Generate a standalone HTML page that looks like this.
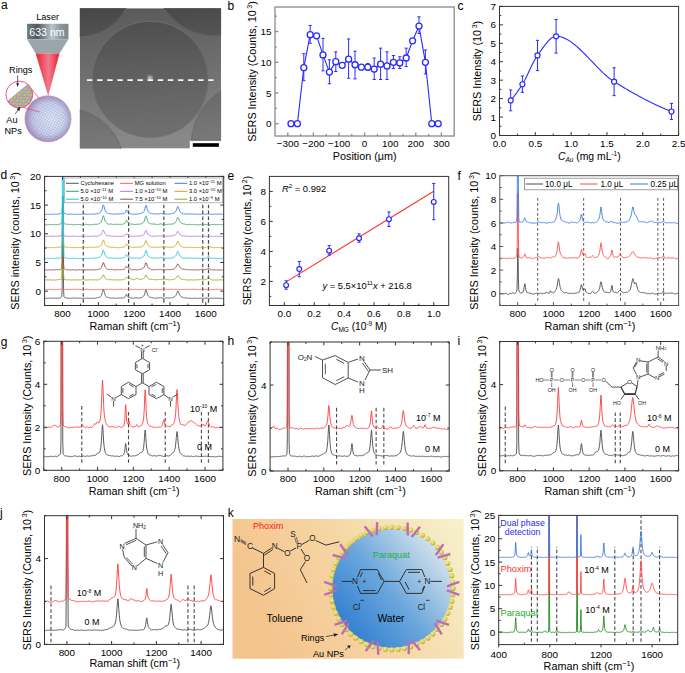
<!DOCTYPE html>
<html><head><meta charset="utf-8"><style>html,body{margin:0;padding:0;background:#fff;width:685px;height:673px;overflow:hidden}text{font-family:"Liberation Sans", sans-serif}</style></head><body><svg width="685" height="673" viewBox="0 0 685 673" style="display:block;font-family:"Liberation Sans", sans-serif"><defs><clipPath id="cp1"><rect x="275" y="7" width="179.2" height="129"/></clipPath><clipPath id="cp2"><rect x="499.5" y="6.4" width="179.10000000000002" height="129.1"/></clipPath><clipPath id="cp3"><rect x="269.4" y="176.4" width="179.3" height="129.1"/></clipPath><clipPath id="cp4"><rect x="44.6" y="176.4" width="179.1" height="129.1"/></clipPath><clipPath id="cp5"><rect x="499.8" y="175.7" width="178.8" height="129.8"/></clipPath><clipPath id="cp6"><rect x="43.8" y="341.3" width="179.10000000000002" height="129.0"/></clipPath><clipPath id="cp7"><rect x="270.1" y="342" width="179.09999999999997" height="129"/></clipPath><clipPath id="cp8"><rect x="499.7" y="341.5" width="178.90000000000003" height="129.3"/></clipPath><clipPath id="cp9"><rect x="44.5" y="515.7" width="179.0" height="128.69999999999993"/></clipPath><clipPath id="cp10"><rect x="498.7" y="515.4" width="179.00000000000006" height="129.20000000000005"/></clipPath>
<linearGradient id="mbg" gradientUnits="userSpaceOnUse" x1="0" y1="8" x2="10" y2="148">
 <stop offset="0" stop-color="#575757"/><stop offset="0.5" stop-color="#6e6e6e"/><stop offset="1" stop-color="#888888"/></linearGradient>
<linearGradient id="mcirc" gradientUnits="userSpaceOnUse" x1="0" y1="8" x2="10" y2="148">
 <stop offset="0" stop-color="#444444"/><stop offset="0.5" stop-color="#606060"/><stop offset="1" stop-color="#777777"/></linearGradient>
<linearGradient id="mbig" gradientUnits="userSpaceOnUse" x1="0" y1="21" x2="6" y2="137">
 <stop offset="0" stop-color="#4c4c4c"/><stop offset="0.45" stop-color="#5d5d5d"/><stop offset="1" stop-color="#6e6e6e"/></linearGradient>
<radialGradient id="mspot"><stop offset="0" stop-color="#e8e8e8" stop-opacity="0.9"/><stop offset="1" stop-color="#888" stop-opacity="0"/></radialGradient>
<clipPath id="mclip"><path d="M79.8,8.2 H221.1 V140.8 H189.8 V148.6 H79.8 Z"/></clipPath>

<linearGradient id="lhead" x1="0" y1="0" x2="1" y2="0">
 <stop offset="0" stop-color="#707b82"/><stop offset="0.25" stop-color="#4f5a60"/><stop offset="0.6" stop-color="#b9c6cc"/><stop offset="0.8" stop-color="#8e9aa0"/><stop offset="1" stop-color="#7a868c"/></linearGradient>
<linearGradient id="lcone" x1="0" y1="0" x2="1" y2="0">
 <stop offset="0" stop-color="#e8252d"/><stop offset="0.55" stop-color="#f07a90"/><stop offset="1" stop-color="#e8202a"/></linearGradient>
<radialGradient id="sph" cx="0.58" cy="0.5" r="0.62">
 <stop offset="0" stop-color="#d6f2fb"/><stop offset="0.55" stop-color="#c2dcf0"/><stop offset="1" stop-color="#a8a4d0"/></radialGradient>
<pattern id="mesh" width="2.4" height="2.4" patternUnits="userSpaceOnUse" patternTransform="rotate(28)">
 <rect width="2.4" height="2.4" fill="none"/><path d="M0,0.3 H2.4 M0.3,0 V2.4" stroke="#b878b8" stroke-width="0.5" stroke-opacity="0.55"/></pattern>
<radialGradient id="sphedge" cx="0.5" cy="0.5" r="0.5">
 <stop offset="0.7" stop-color="#7a5a8a" stop-opacity="0"/><stop offset="1" stop-color="#7a5a8a" stop-opacity="0.35"/></radialGradient>
<clipPath id="insclip"><circle cx="19.3" cy="94.6" r="13.4"/></clipPath>
<pattern id="rings" width="4.6" height="4" patternUnits="userSpaceOnUse" patternTransform="rotate(-38)">
 <rect width="4.6" height="4" fill="#8cc8e0"/><ellipse cx="2.3" cy="2" rx="1.9" ry="1.3" fill="#d8c048"/><ellipse cx="2.3" cy="2" rx="2.2" ry="1.65" fill="none" stroke="#b86aa0" stroke-width="0.5"/></pattern>

<linearGradient id="kbg" x1="0" y1="0.3" x2="1" y2="0">
 <stop offset="0" stop-color="#f4c48e"/><stop offset="0.45" stop-color="#f6d6a4"/><stop offset="1" stop-color="#f6f2cc"/></linearGradient>
<linearGradient id="kwat" x1="0.1" y1="0.85" x2="0.95" y2="0.15">
 <stop offset="0" stop-color="#2f7fd0"/><stop offset="0.45" stop-color="#6aa6dc"/><stop offset="1" stop-color="#dfe8ee"/></linearGradient>
<radialGradient id="bead" cx="0.4" cy="0.35" r="0.65">
 <stop offset="0" stop-color="#f4ee9c"/><stop offset="0.7" stop-color="#d2c852"/><stop offset="1" stop-color="#b0a43a"/></radialGradient>
</defs><text x="1" y="9" font-size="12" text-anchor="start" fill="#000" style="">a</text><text x="227.5" y="10" font-size="12" text-anchor="start" fill="#000" style="">b</text><text x="457.5" y="10" font-size="12" text-anchor="start" fill="#000" style="">c</text><text x="0.5" y="179" font-size="12" text-anchor="start" fill="#000" style="">d</text><text x="227.5" y="179.5" font-size="12" text-anchor="start" fill="#000" style="">e</text><text x="457.5" y="179.5" font-size="12" text-anchor="start" fill="#000" style="">f</text><text x="0.8" y="346" font-size="12" text-anchor="start" fill="#000" style="">g</text><text x="227.5" y="345" font-size="12" text-anchor="start" fill="#000" style="">h</text><text x="457.5" y="345" font-size="12" text-anchor="start" fill="#000" style="">i</text><text x="0" y="516.5" font-size="12" text-anchor="start" fill="#000" style="">j</text><text x="227.8" y="517" font-size="12" text-anchor="start" fill="#000" style="">k</text><rect x="275" y="7" width="179.2" height="129" fill="none" stroke="#8a8a8a" stroke-width="1.3"/><line x1="287.8" y1="136" x2="287.8" y2="132.6" stroke="#8a8a8a" stroke-width="1.3" /><text x="287.8" y="147.2" font-size="9.9" text-anchor="middle" fill="#000" style="">−300</text><line x1="313.4" y1="136" x2="313.4" y2="132.6" stroke="#8a8a8a" stroke-width="1.3" /><text x="313.4" y="147.2" font-size="9.9" text-anchor="middle" fill="#000" style="">−200</text><line x1="339" y1="136" x2="339" y2="132.6" stroke="#8a8a8a" stroke-width="1.3" /><text x="339" y="147.2" font-size="9.9" text-anchor="middle" fill="#000" style="">−100</text><line x1="364.6" y1="136" x2="364.6" y2="132.6" stroke="#8a8a8a" stroke-width="1.3" /><text x="364.6" y="147.2" font-size="9.9" text-anchor="middle" fill="#000" style="">0</text><line x1="390.2" y1="136" x2="390.2" y2="132.6" stroke="#8a8a8a" stroke-width="1.3" /><text x="390.2" y="147.2" font-size="9.9" text-anchor="middle" fill="#000" style="">100</text><line x1="415.8" y1="136" x2="415.8" y2="132.6" stroke="#8a8a8a" stroke-width="1.3" /><text x="415.8" y="147.2" font-size="9.9" text-anchor="middle" fill="#000" style="">200</text><line x1="441.4" y1="136" x2="441.4" y2="132.6" stroke="#8a8a8a" stroke-width="1.3" /><text x="441.4" y="147.2" font-size="9.9" text-anchor="middle" fill="#000" style="">300</text><line x1="300.6" y1="136" x2="300.6" y2="134.1" stroke="#8a8a8a" stroke-width="1.3" /><line x1="326.2" y1="136" x2="326.2" y2="134.1" stroke="#8a8a8a" stroke-width="1.3" /><line x1="351.8" y1="136" x2="351.8" y2="134.1" stroke="#8a8a8a" stroke-width="1.3" /><line x1="377.4" y1="136" x2="377.4" y2="134.1" stroke="#8a8a8a" stroke-width="1.3" /><line x1="403" y1="136" x2="403" y2="134.1" stroke="#8a8a8a" stroke-width="1.3" /><line x1="428.6" y1="136" x2="428.6" y2="134.1" stroke="#8a8a8a" stroke-width="1.3" /><line x1="275" y1="123.71" x2="278.4" y2="123.71" stroke="#8a8a8a" stroke-width="1.3" /><text x="271.5" y="127.31" font-size="9.9" text-anchor="end" fill="#000" style="">0</text><line x1="275" y1="93" x2="278.4" y2="93" stroke="#8a8a8a" stroke-width="1.3" /><text x="271.5" y="96.6" font-size="9.9" text-anchor="end" fill="#000" style="">5</text><line x1="275" y1="62.29" x2="278.4" y2="62.29" stroke="#8a8a8a" stroke-width="1.3" /><text x="271.5" y="65.89" font-size="9.9" text-anchor="end" fill="#000" style="">10</text><line x1="275" y1="31.57" x2="278.4" y2="31.57" stroke="#8a8a8a" stroke-width="1.3" /><text x="271.5" y="35.17" font-size="9.9" text-anchor="end" fill="#000" style="">15</text><line x1="275" y1="108.36" x2="276.9" y2="108.36" stroke="#8a8a8a" stroke-width="1.3" /><line x1="275" y1="77.64" x2="276.9" y2="77.64" stroke="#8a8a8a" stroke-width="1.3" /><line x1="275" y1="46.93" x2="276.9" y2="46.93" stroke="#8a8a8a" stroke-width="1.3" /><line x1="275" y1="16.21" x2="276.9" y2="16.21" stroke="#8a8a8a" stroke-width="1.3" /><text x="364.7" y="160.2" font-size="10.8" text-anchor="middle" fill="#000" style="">Position (μm)</text><text x="255.5" y="71.5" font-size="10.8" text-anchor="middle" fill="#000" transform="rotate(-90 255.5 71.5)" style="">SERS Intensity (Counts, 10<tspan dx="1.6" dy="-4" font-size="7">3</tspan><tspan dy="4">)</tspan></text><polyline points="291,123.71 297.4,123.71 303.8,67.63 310.2,34.64 316.6,35.87 323,54.91 329.4,72.11 335.8,61.67 342.2,65.36 348.6,59.21 355,64.74 361.4,67.2 367.8,67.2 374.2,69.04 380.6,64.13 387,65.97 393.4,62.29 399.8,62.9 406.2,57.99 412.6,40.79 419,26.04 425.4,62.29 431.8,123.71 438.2,123.71" fill="none" stroke="#2a2aff" stroke-width="1.1" stroke-linejoin="round" /><line x1="303.8" y1="53.69" x2="303.8" y2="80.71" stroke="#2a2aff" stroke-width="1" /><line x1="302.2" y1="53.69" x2="305.4" y2="53.69" stroke="#2a2aff" stroke-width="1" /><line x1="302.2" y1="80.71" x2="305.4" y2="80.71" stroke="#2a2aff" stroke-width="1" /><line x1="310.2" y1="25.43" x2="310.2" y2="43.24" stroke="#2a2aff" stroke-width="1" /><line x1="308.6" y1="25.43" x2="311.8" y2="25.43" stroke="#2a2aff" stroke-width="1" /><line x1="308.6" y1="43.24" x2="311.8" y2="43.24" stroke="#2a2aff" stroke-width="1" /><line x1="323" y1="38.33" x2="323" y2="70.89" stroke="#2a2aff" stroke-width="1" /><line x1="321.4" y1="38.33" x2="324.6" y2="38.33" stroke="#2a2aff" stroke-width="1" /><line x1="321.4" y1="70.89" x2="324.6" y2="70.89" stroke="#2a2aff" stroke-width="1" /><line x1="329.4" y1="59.83" x2="329.4" y2="83.79" stroke="#2a2aff" stroke-width="1" /><line x1="327.8" y1="59.83" x2="331" y2="59.83" stroke="#2a2aff" stroke-width="1" /><line x1="327.8" y1="83.79" x2="331" y2="83.79" stroke="#2a2aff" stroke-width="1" /><line x1="335.8" y1="51.84" x2="335.8" y2="71.5" stroke="#2a2aff" stroke-width="1" /><line x1="334.2" y1="51.84" x2="337.4" y2="51.84" stroke="#2a2aff" stroke-width="1" /><line x1="334.2" y1="71.5" x2="337.4" y2="71.5" stroke="#2a2aff" stroke-width="1" /><line x1="348.6" y1="38.94" x2="348.6" y2="78.26" stroke="#2a2aff" stroke-width="1" /><line x1="347" y1="38.94" x2="350.2" y2="38.94" stroke="#2a2aff" stroke-width="1" /><line x1="347" y1="78.26" x2="350.2" y2="78.26" stroke="#2a2aff" stroke-width="1" /><line x1="355" y1="51.23" x2="355" y2="78.87" stroke="#2a2aff" stroke-width="1" /><line x1="353.4" y1="51.23" x2="356.6" y2="51.23" stroke="#2a2aff" stroke-width="1" /><line x1="353.4" y1="78.87" x2="356.6" y2="78.87" stroke="#2a2aff" stroke-width="1" /><line x1="367.8" y1="63.51" x2="367.8" y2="70.27" stroke="#2a2aff" stroke-width="1" /><line x1="366.2" y1="63.51" x2="369.4" y2="63.51" stroke="#2a2aff" stroke-width="1" /><line x1="366.2" y1="70.27" x2="369.4" y2="70.27" stroke="#2a2aff" stroke-width="1" /><line x1="374.2" y1="57.99" x2="374.2" y2="79.49" stroke="#2a2aff" stroke-width="1" /><line x1="372.6" y1="57.99" x2="375.8" y2="57.99" stroke="#2a2aff" stroke-width="1" /><line x1="372.6" y1="79.49" x2="375.8" y2="79.49" stroke="#2a2aff" stroke-width="1" /><line x1="380.6" y1="48.16" x2="380.6" y2="79.49" stroke="#2a2aff" stroke-width="1" /><line x1="379" y1="48.16" x2="382.2" y2="48.16" stroke="#2a2aff" stroke-width="1" /><line x1="379" y1="79.49" x2="382.2" y2="79.49" stroke="#2a2aff" stroke-width="1" /><line x1="387" y1="51.84" x2="387" y2="79.49" stroke="#2a2aff" stroke-width="1" /><line x1="385.4" y1="51.84" x2="388.6" y2="51.84" stroke="#2a2aff" stroke-width="1" /><line x1="385.4" y1="79.49" x2="388.6" y2="79.49" stroke="#2a2aff" stroke-width="1" /><line x1="393.4" y1="55.53" x2="393.4" y2="68.43" stroke="#2a2aff" stroke-width="1" /><line x1="391.8" y1="55.53" x2="395" y2="55.53" stroke="#2a2aff" stroke-width="1" /><line x1="391.8" y1="68.43" x2="395" y2="68.43" stroke="#2a2aff" stroke-width="1" /><line x1="399.8" y1="56.76" x2="399.8" y2="68.43" stroke="#2a2aff" stroke-width="1" /><line x1="398.2" y1="56.76" x2="401.4" y2="56.76" stroke="#2a2aff" stroke-width="1" /><line x1="398.2" y1="68.43" x2="401.4" y2="68.43" stroke="#2a2aff" stroke-width="1" /><line x1="406.2" y1="48.16" x2="406.2" y2="66.59" stroke="#2a2aff" stroke-width="1" /><line x1="404.6" y1="48.16" x2="407.8" y2="48.16" stroke="#2a2aff" stroke-width="1" /><line x1="404.6" y1="66.59" x2="407.8" y2="66.59" stroke="#2a2aff" stroke-width="1" /><line x1="419" y1="16.83" x2="419" y2="33.41" stroke="#2a2aff" stroke-width="1" /><line x1="417.4" y1="16.83" x2="420.6" y2="16.83" stroke="#2a2aff" stroke-width="1" /><line x1="417.4" y1="33.41" x2="420.6" y2="33.41" stroke="#2a2aff" stroke-width="1" /><line x1="425.4" y1="50" x2="425.4" y2="73.96" stroke="#2a2aff" stroke-width="1" /><line x1="423.8" y1="50" x2="427" y2="50" stroke="#2a2aff" stroke-width="1" /><line x1="423.8" y1="73.96" x2="427" y2="73.96" stroke="#2a2aff" stroke-width="1" /><circle cx="291" cy="123.71" r="3.0" fill="#fff" stroke="#2a2aff" stroke-width="1.3"/><circle cx="297.4" cy="123.71" r="3.0" fill="#fff" stroke="#2a2aff" stroke-width="1.3"/><circle cx="303.8" cy="67.63" r="3.0" fill="#fff" stroke="#2a2aff" stroke-width="1.3"/><circle cx="310.2" cy="34.64" r="3.0" fill="#fff" stroke="#2a2aff" stroke-width="1.3"/><circle cx="316.6" cy="35.87" r="3.0" fill="#fff" stroke="#2a2aff" stroke-width="1.3"/><circle cx="323" cy="54.91" r="3.0" fill="#fff" stroke="#2a2aff" stroke-width="1.3"/><circle cx="329.4" cy="72.11" r="3.0" fill="#fff" stroke="#2a2aff" stroke-width="1.3"/><circle cx="335.8" cy="61.67" r="3.0" fill="#fff" stroke="#2a2aff" stroke-width="1.3"/><circle cx="342.2" cy="65.36" r="3.0" fill="#fff" stroke="#2a2aff" stroke-width="1.3"/><circle cx="348.6" cy="59.21" r="3.0" fill="#fff" stroke="#2a2aff" stroke-width="1.3"/><circle cx="355" cy="64.74" r="3.0" fill="#fff" stroke="#2a2aff" stroke-width="1.3"/><circle cx="361.4" cy="67.2" r="3.0" fill="#fff" stroke="#2a2aff" stroke-width="1.3"/><circle cx="367.8" cy="67.2" r="3.0" fill="#fff" stroke="#2a2aff" stroke-width="1.3"/><circle cx="374.2" cy="69.04" r="3.0" fill="#fff" stroke="#2a2aff" stroke-width="1.3"/><circle cx="380.6" cy="64.13" r="3.0" fill="#fff" stroke="#2a2aff" stroke-width="1.3"/><circle cx="387" cy="65.97" r="3.0" fill="#fff" stroke="#2a2aff" stroke-width="1.3"/><circle cx="393.4" cy="62.29" r="3.0" fill="#fff" stroke="#2a2aff" stroke-width="1.3"/><circle cx="399.8" cy="62.9" r="3.0" fill="#fff" stroke="#2a2aff" stroke-width="1.3"/><circle cx="406.2" cy="57.99" r="3.0" fill="#fff" stroke="#2a2aff" stroke-width="1.3"/><circle cx="412.6" cy="40.79" r="3.0" fill="#fff" stroke="#2a2aff" stroke-width="1.3"/><circle cx="419" cy="26.04" r="3.0" fill="#fff" stroke="#2a2aff" stroke-width="1.3"/><circle cx="425.4" cy="62.29" r="3.0" fill="#fff" stroke="#2a2aff" stroke-width="1.3"/><circle cx="431.8" cy="123.71" r="3.0" fill="#fff" stroke="#2a2aff" stroke-width="1.3"/><circle cx="438.2" cy="123.71" r="3.0" fill="#fff" stroke="#2a2aff" stroke-width="1.3"/><rect x="499.5" y="6.4" width="179.1" height="129.1" fill="none" stroke="#333" stroke-width="1"/><line x1="499.5" y1="135.5" x2="499.5" y2="132.1" stroke="#333" stroke-width="1" /><text x="499.5" y="146.7" font-size="9.9" text-anchor="middle" fill="#000" style="">0.0</text><line x1="535.32" y1="135.5" x2="535.32" y2="132.1" stroke="#333" stroke-width="1" /><text x="535.32" y="146.7" font-size="9.9" text-anchor="middle" fill="#000" style="">0.5</text><line x1="571.14" y1="135.5" x2="571.14" y2="132.1" stroke="#333" stroke-width="1" /><text x="571.14" y="146.7" font-size="9.9" text-anchor="middle" fill="#000" style="">1.0</text><line x1="606.96" y1="135.5" x2="606.96" y2="132.1" stroke="#333" stroke-width="1" /><text x="606.96" y="146.7" font-size="9.9" text-anchor="middle" fill="#000" style="">1.5</text><line x1="642.78" y1="135.5" x2="642.78" y2="132.1" stroke="#333" stroke-width="1" /><text x="642.78" y="146.7" font-size="9.9" text-anchor="middle" fill="#000" style="">2.0</text><line x1="678.6" y1="135.5" x2="678.6" y2="132.1" stroke="#333" stroke-width="1" /><text x="678.6" y="146.7" font-size="9.9" text-anchor="middle" fill="#000" style="">2.5</text><line x1="517.41" y1="135.5" x2="517.41" y2="133.6" stroke="#333" stroke-width="1" /><line x1="553.23" y1="135.5" x2="553.23" y2="133.6" stroke="#333" stroke-width="1" /><line x1="589.05" y1="135.5" x2="589.05" y2="133.6" stroke="#333" stroke-width="1" /><line x1="624.87" y1="135.5" x2="624.87" y2="133.6" stroke="#333" stroke-width="1" /><line x1="660.69" y1="135.5" x2="660.69" y2="133.6" stroke="#333" stroke-width="1" /><line x1="499.5" y1="135.5" x2="502.9" y2="135.5" stroke="#333" stroke-width="1" /><text x="496" y="139.1" font-size="9.9" text-anchor="end" fill="#000" style="">0</text><line x1="499.5" y1="117.06" x2="502.9" y2="117.06" stroke="#333" stroke-width="1" /><text x="496" y="120.66" font-size="9.9" text-anchor="end" fill="#000" style="">1</text><line x1="499.5" y1="98.61" x2="502.9" y2="98.61" stroke="#333" stroke-width="1" /><text x="496" y="102.21" font-size="9.9" text-anchor="end" fill="#000" style="">2</text><line x1="499.5" y1="80.17" x2="502.9" y2="80.17" stroke="#333" stroke-width="1" /><text x="496" y="83.77" font-size="9.9" text-anchor="end" fill="#000" style="">3</text><line x1="499.5" y1="61.73" x2="502.9" y2="61.73" stroke="#333" stroke-width="1" /><text x="496" y="65.33" font-size="9.9" text-anchor="end" fill="#000" style="">4</text><line x1="499.5" y1="43.29" x2="502.9" y2="43.29" stroke="#333" stroke-width="1" /><text x="496" y="46.89" font-size="9.9" text-anchor="end" fill="#000" style="">5</text><line x1="499.5" y1="24.84" x2="502.9" y2="24.84" stroke="#333" stroke-width="1" /><text x="496" y="28.44" font-size="9.9" text-anchor="end" fill="#000" style="">6</text><line x1="499.5" y1="6.4" x2="502.9" y2="6.4" stroke="#333" stroke-width="1" /><text x="496" y="10" font-size="9.9" text-anchor="end" fill="#000" style="">7</text><line x1="499.5" y1="126.28" x2="501.4" y2="126.28" stroke="#333" stroke-width="1" /><line x1="499.5" y1="107.84" x2="501.4" y2="107.84" stroke="#333" stroke-width="1" /><line x1="499.5" y1="89.39" x2="501.4" y2="89.39" stroke="#333" stroke-width="1" /><line x1="499.5" y1="70.95" x2="501.4" y2="70.95" stroke="#333" stroke-width="1" /><line x1="499.5" y1="52.51" x2="501.4" y2="52.51" stroke="#333" stroke-width="1" /><line x1="499.5" y1="34.06" x2="501.4" y2="34.06" stroke="#333" stroke-width="1" /><line x1="499.5" y1="15.62" x2="501.4" y2="15.62" stroke="#333" stroke-width="1" /><text x="589.3" y="160.2" font-size="10.4" text-anchor="middle" fill="#000" style=""><tspan font-style="italic">C</tspan><tspan font-size="6.5" dy="2" font-style="italic">Au</tspan><tspan dy="-2"> (mg mL</tspan><tspan font-size="6.5" dy="-4">-1</tspan><tspan dy="4">)</tspan></text><text x="481" y="71" font-size="10.8" text-anchor="middle" fill="#000" transform="rotate(-90 481 71)" style="">SERS Intensity (10<tspan dx="1.6" dy="-4" font-size="7">3</tspan><tspan dy="4">)</tspan></text><polyline points="510.68,100.46 511.48,99.52 512.28,98.56 513.09,97.57 513.89,96.55 514.69,95.5 515.5,94.43 516.3,93.34 517.11,92.22 517.91,91.08 518.71,89.91 519.52,88.72 520.32,87.51 521.13,86.27 521.93,85.01 522.73,83.73 523.54,82.36 524.34,80.91 525.14,79.38 525.95,77.8 526.75,76.16 527.56,74.48 528.36,72.78 529.16,71.07 529.97,69.35 530.77,67.64 531.57,65.96 532.38,64.31 533.18,62.71 533.99,61.17 534.79,59.69 535.59,58.31 536.4,57.01 537.2,55.83 538.01,54.73 538.81,53.61 539.61,52.48 540.42,51.34 541.22,50.2 542.02,49.06 542.83,47.93 543.63,46.82 544.44,45.72 545.24,44.66 546.04,43.63 546.85,42.64 547.65,41.7 548.45,40.81 549.26,39.98 550.06,39.22 550.87,38.54 551.67,37.93 552.47,37.4 553.28,36.97 554.08,36.64 554.88,36.41 555.69,36.29 556.49,36.28 557.3,36.32 558.1,36.39 558.9,36.51 559.71,36.65 560.51,36.83 561.32,37.05 562.12,37.29 562.92,37.57 563.73,37.88 564.53,38.22 565.33,38.59 566.14,38.98 566.94,39.41 567.75,39.86 568.55,40.34 569.35,40.84 570.16,41.36 570.96,41.91 571.76,42.48 572.57,43.08 573.37,43.69 574.18,44.32 574.98,44.97 575.78,45.64 576.59,46.33 577.39,47.03 578.2,47.75 579,48.48 579.8,49.23 580.61,49.98 581.41,50.75 582.21,51.54 583.02,52.33 583.82,53.13 584.63,53.94 585.43,54.75 586.23,55.57 587.04,56.4 587.84,57.24 588.64,58.07 589.45,58.92 590.25,59.76 591.06,60.6 591.86,61.45 592.66,62.29 593.47,63.14 594.27,63.98 595.07,64.81 595.88,65.65 596.68,66.48 597.49,67.3 598.29,68.12 599.09,68.93 599.9,69.73 600.7,70.53 601.51,71.31 602.31,72.08 603.11,72.85 603.92,73.59 604.72,74.33 605.52,75.05 606.33,75.76 607.13,76.45 607.94,77.12 608.74,77.78 609.54,78.41 610.35,79.03 611.15,79.63 611.95,80.2 612.76,80.76 613.56,81.29 614.37,81.8 615.17,82.3 615.97,82.8 616.78,83.3 617.58,83.79 618.39,84.29 619.19,84.78 619.99,85.27 620.8,85.76 621.6,86.24 622.4,86.73 623.21,87.21 624.01,87.69 624.82,88.17 625.62,88.64 626.42,89.12 627.23,89.59 628.03,90.06 628.83,90.52 629.64,90.99 630.44,91.45 631.25,91.91 632.05,92.37 632.85,92.83 633.66,93.28 634.46,93.73 635.26,94.18 636.07,94.63 636.87,95.07 637.68,95.51 638.48,95.95 639.28,96.39 640.09,96.82 640.89,97.25 641.7,97.68 642.5,98.11 643.3,98.53 644.11,98.95 644.91,99.37 645.71,99.79 646.52,100.2 647.32,100.61 648.13,101.02 648.93,101.42 649.73,101.83 650.54,102.23 651.34,102.62 652.14,103.01 652.95,103.4 653.75,103.79 654.56,104.18 655.36,104.56 656.16,104.94 656.97,105.31 657.77,105.68 658.58,106.05 659.38,106.42 660.18,106.78 660.99,107.14 661.79,107.5 662.59,107.85 663.4,108.2 664.2,108.55 665.01,108.89 665.81,109.24 666.61,109.57 667.42,109.91 668.22,110.24 669.02,110.56 669.83,110.89 670.63,111.21 671.44,111.52" fill="none" stroke="#2a2aff" stroke-width="1.1" stroke-linejoin="round" /><line x1="510.68" y1="89.95" x2="510.68" y2="110.79" stroke="#2a2aff" stroke-width="1" /><line x1="509.08" y1="89.95" x2="512.28" y2="89.95" stroke="#2a2aff" stroke-width="1" /><line x1="509.08" y1="110.79" x2="512.28" y2="110.79" stroke="#2a2aff" stroke-width="1" /><circle cx="510.68" cy="100.46" r="2.5" fill="#fff" stroke="#2a2aff" stroke-width="1.2"/><line x1="522.42" y1="75.93" x2="522.42" y2="92.34" stroke="#2a2aff" stroke-width="1" /><line x1="520.82" y1="75.93" x2="524.02" y2="75.93" stroke="#2a2aff" stroke-width="1" /><line x1="520.82" y1="92.34" x2="524.02" y2="92.34" stroke="#2a2aff" stroke-width="1" /><circle cx="522.42" cy="84.23" r="2.5" fill="#fff" stroke="#2a2aff" stroke-width="1.2"/><line x1="537.47" y1="40.33" x2="537.47" y2="70.58" stroke="#2a2aff" stroke-width="1" /><line x1="535.87" y1="40.33" x2="539.07" y2="40.33" stroke="#2a2aff" stroke-width="1" /><line x1="535.87" y1="70.58" x2="539.07" y2="70.58" stroke="#2a2aff" stroke-width="1" /><circle cx="537.47" cy="55.46" r="2.5" fill="#fff" stroke="#2a2aff" stroke-width="1.2"/><line x1="556.1" y1="19.49" x2="556.1" y2="53.06" stroke="#2a2aff" stroke-width="1" /><line x1="554.5" y1="19.49" x2="557.7" y2="19.49" stroke="#2a2aff" stroke-width="1" /><line x1="554.5" y1="53.06" x2="557.7" y2="53.06" stroke="#2a2aff" stroke-width="1" /><circle cx="556.1" cy="36.28" r="2.5" fill="#fff" stroke="#2a2aff" stroke-width="1.2"/><line x1="614.12" y1="67.81" x2="614.12" y2="95.66" stroke="#2a2aff" stroke-width="1" /><line x1="612.52" y1="67.81" x2="615.72" y2="67.81" stroke="#2a2aff" stroke-width="1" /><line x1="612.52" y1="95.66" x2="615.72" y2="95.66" stroke="#2a2aff" stroke-width="1" /><circle cx="614.12" cy="81.65" r="2.5" fill="#fff" stroke="#2a2aff" stroke-width="1.2"/><line x1="671.44" y1="103.41" x2="671.44" y2="119.45" stroke="#2a2aff" stroke-width="1" /><line x1="669.84" y1="103.41" x2="673.04" y2="103.41" stroke="#2a2aff" stroke-width="1" /><line x1="669.84" y1="119.45" x2="673.04" y2="119.45" stroke="#2a2aff" stroke-width="1" /><circle cx="671.44" cy="111.52" r="2.5" fill="#fff" stroke="#2a2aff" stroke-width="1.2"/><rect x="269.4" y="176.4" width="179.3" height="129.1" fill="none" stroke="#333" stroke-width="1"/><line x1="284.34" y1="305.5" x2="284.34" y2="302.1" stroke="#333" stroke-width="1" /><text x="284.34" y="316.7" font-size="9.9" text-anchor="middle" fill="#000" style="">0.0</text><line x1="314.22" y1="305.5" x2="314.22" y2="302.1" stroke="#333" stroke-width="1" /><text x="314.22" y="316.7" font-size="9.9" text-anchor="middle" fill="#000" style="">0.2</text><line x1="344.11" y1="305.5" x2="344.11" y2="302.1" stroke="#333" stroke-width="1" /><text x="344.11" y="316.7" font-size="9.9" text-anchor="middle" fill="#000" style="">0.4</text><line x1="373.99" y1="305.5" x2="373.99" y2="302.1" stroke="#333" stroke-width="1" /><text x="373.99" y="316.7" font-size="9.9" text-anchor="middle" fill="#000" style="">0.6</text><line x1="403.88" y1="305.5" x2="403.88" y2="302.1" stroke="#333" stroke-width="1" /><text x="403.88" y="316.7" font-size="9.9" text-anchor="middle" fill="#000" style="">0.8</text><line x1="433.76" y1="305.5" x2="433.76" y2="302.1" stroke="#333" stroke-width="1" /><text x="433.76" y="316.7" font-size="9.9" text-anchor="middle" fill="#000" style="">1.0</text><line x1="299.28" y1="305.5" x2="299.28" y2="303.6" stroke="#333" stroke-width="1" /><line x1="329.17" y1="305.5" x2="329.17" y2="303.6" stroke="#333" stroke-width="1" /><line x1="359.05" y1="305.5" x2="359.05" y2="303.6" stroke="#333" stroke-width="1" /><line x1="388.93" y1="305.5" x2="388.93" y2="303.6" stroke="#333" stroke-width="1" /><line x1="418.82" y1="305.5" x2="418.82" y2="303.6" stroke="#333" stroke-width="1" /><line x1="269.4" y1="281.41" x2="272.8" y2="281.41" stroke="#333" stroke-width="1" /><text x="265.9" y="285.01" font-size="9.9" text-anchor="end" fill="#000" style="">2</text><line x1="269.4" y1="251.41" x2="272.8" y2="251.41" stroke="#333" stroke-width="1" /><text x="265.9" y="255.01" font-size="9.9" text-anchor="end" fill="#000" style="">4</text><line x1="269.4" y1="221.4" x2="272.8" y2="221.4" stroke="#333" stroke-width="1" /><text x="265.9" y="225" font-size="9.9" text-anchor="end" fill="#000" style="">6</text><line x1="269.4" y1="191.4" x2="272.8" y2="191.4" stroke="#333" stroke-width="1" /><text x="265.9" y="195" font-size="9.9" text-anchor="end" fill="#000" style="">8</text><line x1="269.4" y1="296.41" x2="271.3" y2="296.41" stroke="#333" stroke-width="1" /><line x1="269.4" y1="266.41" x2="271.3" y2="266.41" stroke="#333" stroke-width="1" /><line x1="269.4" y1="236.4" x2="271.3" y2="236.4" stroke="#333" stroke-width="1" /><line x1="269.4" y1="206.4" x2="271.3" y2="206.4" stroke="#333" stroke-width="1" /><line x1="286.13" y1="281.86" x2="433.76" y2="191.25" stroke="#ff3030" stroke-width="1.1" /><line x1="286.13" y1="280.81" x2="286.13" y2="289.21" stroke="#2a2aff" stroke-width="1" /><line x1="284.53" y1="280.81" x2="287.73" y2="280.81" stroke="#2a2aff" stroke-width="1" /><line x1="284.53" y1="289.21" x2="287.73" y2="289.21" stroke="#2a2aff" stroke-width="1" /><circle cx="286.13" cy="285.16" r="2.4" fill="#fff" stroke="#2a2aff" stroke-width="1.2"/><line x1="299.28" y1="261.46" x2="299.28" y2="276.76" stroke="#2a2aff" stroke-width="1" /><line x1="297.68" y1="261.46" x2="300.88" y2="261.46" stroke="#2a2aff" stroke-width="1" /><line x1="297.68" y1="276.76" x2="300.88" y2="276.76" stroke="#2a2aff" stroke-width="1" /><circle cx="299.28" cy="269.11" r="2.4" fill="#fff" stroke="#2a2aff" stroke-width="1.2"/><line x1="329.17" y1="245.56" x2="329.17" y2="255.01" stroke="#2a2aff" stroke-width="1" /><line x1="327.57" y1="245.56" x2="330.77" y2="245.56" stroke="#2a2aff" stroke-width="1" /><line x1="327.57" y1="255.01" x2="330.77" y2="255.01" stroke="#2a2aff" stroke-width="1" /><circle cx="329.17" cy="250.66" r="2.4" fill="#fff" stroke="#2a2aff" stroke-width="1.2"/><line x1="359.05" y1="233.85" x2="359.05" y2="242.26" stroke="#2a2aff" stroke-width="1" /><line x1="357.45" y1="233.85" x2="360.65" y2="233.85" stroke="#2a2aff" stroke-width="1" /><line x1="357.45" y1="242.26" x2="360.65" y2="242.26" stroke="#2a2aff" stroke-width="1" /><circle cx="359.05" cy="238.2" r="2.4" fill="#fff" stroke="#2a2aff" stroke-width="1.2"/><line x1="388.93" y1="211.95" x2="388.93" y2="226.5" stroke="#2a2aff" stroke-width="1" /><line x1="387.33" y1="211.95" x2="390.53" y2="211.95" stroke="#2a2aff" stroke-width="1" /><line x1="387.33" y1="226.5" x2="390.53" y2="226.5" stroke="#2a2aff" stroke-width="1" /><circle cx="388.93" cy="219.15" r="2.4" fill="#fff" stroke="#2a2aff" stroke-width="1.2"/><line x1="433.76" y1="183.45" x2="433.76" y2="219.75" stroke="#2a2aff" stroke-width="1" /><line x1="432.16" y1="183.45" x2="435.36" y2="183.45" stroke="#2a2aff" stroke-width="1" /><line x1="432.16" y1="219.75" x2="435.36" y2="219.75" stroke="#2a2aff" stroke-width="1" /><circle cx="433.76" cy="201.9" r="2.4" fill="#fff" stroke="#2a2aff" stroke-width="1.2"/><text x="282" y="191.5" font-size="9.4" text-anchor="start" fill="#000" style=""><tspan font-style="italic">R</tspan><tspan font-size="6" dy="-3.5">2</tspan><tspan dy="3.5"> = 0.992</tspan></text><text x="322.4" y="288.8" font-size="9.4" text-anchor="start" fill="#000" style=""><tspan font-style="italic">y</tspan> = 5.5×10<tspan font-size="6" dy="-3.5">11</tspan><tspan dy="3.5" font-style="italic">x</tspan> + 216.8</text><text x="359" y="329.8" font-size="10.2" text-anchor="middle" fill="#000" style=""><tspan font-style="italic">C</tspan><tspan font-size="6.5" dy="2">MG</tspan><tspan dy="-2"> (10</tspan><tspan font-size="6.5" dy="-4">-9</tspan><tspan dy="4"> M)</tspan></text><text x="251" y="240.6" font-size="10.1" text-anchor="middle" fill="#000" transform="rotate(-90 251 240.6)" style="">SERS Intensity (counts, 10<tspan dx="1.6" dy="-4" font-size="7">2</tspan><tspan dy="4">)</tspan></text><g clip-path="url(#cp4)"><line x1="83.29" y1="302.63" x2="83.29" y2="202.22" stroke="#484848" stroke-width="1.2" stroke-dasharray="3.6,2.3" /><line x1="128.6" y1="302.63" x2="128.6" y2="202.22" stroke="#484848" stroke-width="1.2" stroke-dasharray="3.6,2.3" /><line x1="163.88" y1="302.63" x2="163.88" y2="202.22" stroke="#484848" stroke-width="1.2" stroke-dasharray="3.6,2.3" /><line x1="202.75" y1="302.63" x2="202.75" y2="202.22" stroke="#484848" stroke-width="1.2" stroke-dasharray="3.6,2.3" /><line x1="208.48" y1="302.63" x2="208.48" y2="202.22" stroke="#484848" stroke-width="1.2" stroke-dasharray="3.6,2.3" /><polyline points="44.6,298.15 44.96,298.24 45.32,298.25 45.67,298.33 46.03,298.33 46.39,298.35 46.75,298.31 47.11,298.29 47.47,298.2 47.82,298.25 48.18,298.25 48.54,298.2 48.9,298.19 49.26,298.31 49.61,298.24 49.97,298.11 50.33,298.1 50.69,298.04 51.05,298.03 51.41,298.06 51.76,298.08 52.12,298.1 52.48,298.17 52.84,298.21 53.2,298.26 53.55,298.31 53.91,298.26 54.27,298.17 54.63,298.1 54.99,298.01 55.35,298.07 55.7,298.08 56.06,298.15 56.42,298.23 56.78,298.24 57.14,298.2 57.5,298.19 57.85,298.14 58.21,298.12 58.57,298.14 58.93,298.01 59.29,298.07 59.64,298.07 60,297.83 60.36,297.77 60.72,297.65 61.08,297.41 61.44,296.93 61.79,296.23 62.15,289.51 62.51,245.73 62.69,211.92 62.87,196.37 63.23,246.32 63.58,290.36 63.94,296.81 64.3,297.29 64.66,297.53 65.02,297.72 65.38,297.76 65.73,297.77 66.09,297.85 66.45,297.89 66.81,297.99 67.17,298.01 67.52,298.14 67.88,298.16 68.24,298.23 68.6,298.29 68.96,298.38 69.32,298.34 69.67,298.34 70.03,298.31 70.39,298.33 70.75,298.23 71.11,298.19 71.47,298.14 71.82,298.08 72.18,297.93 72.54,297.9 72.9,297.97 73.26,298.07 73.61,298.09 73.97,298.21 74.33,298.23 74.69,298.18 75.05,298.08 75.41,298.11 75.76,297.98 76.12,298.03 76.48,298.1 76.84,298.14 77.2,298.07 77.55,298.07 77.91,298.03 78.27,298.1 78.63,298.11 78.99,298.2 79.35,298.26 79.7,298.25 80.06,298.22 80.42,298.19 80.78,298.26 81.14,298.33 81.49,298.34 81.85,298.33 82.21,298.31 82.57,298.31 82.93,298.32 83.29,298.34 83.64,298.39 84,298.43 84.36,298.28 84.72,298.21 85.08,298.21 85.43,298.21 85.79,298.2 86.15,298.25 86.51,298.24 86.87,298.29 87.23,298.23 87.58,298.16 87.94,298.26 88.3,298.36 88.66,298.25 89.02,298.28 89.38,298.43 89.73,298.4 90.09,298.25 90.45,298.25 90.81,298.27 91.17,298.21 91.52,298.22 91.88,298.31 92.24,298.43 92.6,298.31 92.96,298.31 93.32,298.29 93.67,298.23 94.03,298.25 94.39,298.33 94.75,298.2 95.11,298.17 95.46,298.17 95.82,298.02 96.18,297.85 96.54,297.83 96.9,297.8 97.26,297.69 97.61,297.59 97.97,297.67 98.33,297.63 98.69,297.41 99.05,297.35 99.4,297.33 99.76,297.04 100.12,296.84 100.48,296.65 100.84,296.22 101.2,295.64 101.55,294.91 101.91,293.93 102.27,292.65 102.63,291.25 102.99,289.92 103.34,289.45 103.7,289.97 104.06,291.28 104.42,292.63 104.78,293.96 105.14,294.98 105.49,295.76 105.85,296.27 106.21,296.64 106.57,296.95 106.93,297.14 107.28,297.32 107.64,297.33 108,297.51 108.36,297.56 108.72,297.56 109.08,297.62 109.43,297.78 109.79,297.82 110.15,297.97 110.51,298.1 110.87,298.14 111.23,298.2 111.58,298.23 111.94,298.18 112.3,298.07 112.66,298.04 113.02,298.02 113.37,298.07 113.73,298.03 114.09,298.12 114.45,298.11 114.81,298.18 115.17,298.18 115.52,298.26 115.88,298.32 116.24,298.34 116.6,298.27 116.96,298.24 117.31,298.15 117.67,298.02 118.03,298.02 118.39,298.05 118.75,298.07 119.11,298.05 119.46,298.05 119.82,297.98 120.18,298 120.54,297.89 120.9,297.9 121.25,298.03 121.61,298.02 121.97,297.85 122.33,297.92 122.69,297.87 123.05,297.76 123.4,297.78 123.76,297.72 124.12,297.64 124.48,297.4 124.84,297.05 125.19,296.61 125.55,296.05 125.91,295.09 126.27,294.39 126.45,294.33 126.63,294.27 126.99,294.97 127.34,295.77 127.7,296.52 128.06,297.02 128.42,297.46 128.78,297.61 129.14,297.77 129.49,297.79 129.85,297.86 130.21,297.87 130.57,297.88 130.93,298 131.28,298.02 131.64,298.01 132,298.12 132.36,298.25 132.72,298.19 133.08,298.26 133.43,298.14 133.79,297.97 134.15,297.82 134.51,297.93 134.87,297.89 135.22,297.94 135.58,297.98 135.94,298.01 136.3,297.84 136.66,297.85 137.02,297.9 137.37,297.91 137.73,297.98 138.09,298.02 138.45,298.11 138.81,298.13 139.16,298.13 139.52,297.99 139.88,297.92 140.24,297.81 140.6,297.66 140.96,297.64 141.31,297.66 141.67,297.5 142.03,297.36 142.39,297.23 142.75,296.91 143.11,296.59 143.46,296.29 143.82,295.78 144.18,295.15 144.54,294.29 144.9,293.06 145.25,291.78 145.61,290.56 145.97,290.01 146.33,290.47 146.69,291.74 147.05,292.93 147.4,294.1 147.76,294.94 148.12,295.53 148.48,296.01 148.84,296.47 149.19,296.73 149.55,297.03 149.91,297.33 150.27,297.4 150.63,297.44 150.99,297.49 151.34,297.53 151.7,297.58 152.06,297.58 152.42,297.67 152.78,297.87 153.13,298 153.49,297.96 153.85,298.14 154.21,298.28 154.57,298.23 154.93,298.17 155.28,298.23 155.64,298.16 156,298.06 156.36,298 156.72,298.02 157.07,298.03 157.43,297.93 157.79,297.97 158.15,297.93 158.51,297.89 158.87,297.86 159.22,297.98 159.58,297.81 159.94,297.78 160.3,297.66 160.48,297.64 160.66,297.53 161.02,297.7 161.37,297.81 161.73,297.99 162.09,298.12 162.45,298.12 162.81,298.13 163.16,298.21 163.52,298.23 163.88,298.18 164.24,298.27 164.6,298.29 164.96,298.14 165.31,298 165.67,298.04 166.03,298.06 166.39,297.96 166.75,297.98 167.1,298.07 167.46,297.92 167.82,297.92 168.18,297.95 168.54,298 168.9,297.96 169.25,298.07 169.61,298 169.97,298.03 170.33,298.03 170.69,297.95 171.04,297.78 171.4,297.7 171.76,297.69 172.12,297.66 172.48,297.73 172.84,297.66 173.19,297.56 173.55,297.34 173.91,297.08 174.27,296.79 174.63,296.69 174.98,296.52 175.34,296.08 175.7,295.69 176.06,295.14 176.42,294.3 176.78,293.31 177.13,292.23 177.49,291.29 177.85,290.94 178.21,291.28 178.57,292.06 178.92,293.11 179.28,294.09 179.64,294.8 180,295.39 180.36,295.92 180.72,296.37 181.07,296.62 181.43,296.88 181.79,296.98 182.15,297.1 182.51,297.19 182.87,297.4 183.22,297.52 183.58,297.66 183.94,297.71 184.3,297.84 184.66,297.77 185.01,297.84 185.37,297.87 185.73,297.9 186.09,297.86 186.45,297.91 186.81,298 187.16,298.09 187.52,298.17 187.88,298.29 188.24,298.41 188.6,298.26 188.95,298.13 189.31,298.18 189.67,298.16 190.03,298.03 190.39,298.19 190.75,298.25 191.1,298.29 191.46,298.31 191.82,298.32 192.18,298.32 192.54,298.44 192.89,298.39 193.25,298.36 193.61,298.35 193.97,298.24 194.33,298.12 194.69,298.17 195.04,298.09 195.4,298.17 195.76,298.19 196.12,298.25 196.48,298.27 196.83,298.37 197.19,298.42 197.55,298.53 197.91,298.49 198.27,298.38 198.63,298.45 198.98,298.38 199.34,298.32 199.7,298.37 200.06,298.34 200.42,298.27 200.78,298.21 201.13,298.16 201.49,298.15 201.85,298.18 202.21,298.21 202.57,298.35 202.92,298.33 203.28,298.31 203.64,298.28 204,298.32 204.36,298.18 204.72,298.15 205.07,298.1 205.43,298.09 205.79,297.99 206.15,298.01 206.51,298.06 206.86,298.08 207.22,298.21 207.58,298.19 207.94,298.26 208.3,298.21 208.66,298.28 209.01,298.17 209.37,298.3 209.73,298.37 210.09,298.34 210.45,298.33 210.8,298.31 211.16,298.15 211.52,298.04 211.88,298.11 212.24,298.16 212.6,298.31 212.95,298.33 213.31,298.29 213.67,298.25 214.03,298.16 214.39,298.1 214.74,298.2 215.1,298.34 215.46,298.41 215.82,298.43 216.18,298.34 216.54,298.22 216.89,298.17 217.25,298.23 217.61,298.19 217.97,298.23 218.33,298.39 218.69,298.39 219.04,298.28 219.4,298.42 219.76,298.38 220.12,298.21 220.48,298.16 220.83,298.27 221.19,298.27 221.55,298.37 221.91,298.54 222.27,298.61 222.63,298.62 222.98,298.46 223.34,298.46 223.7,298.36" fill="none" stroke="#555555" stroke-width="0.9" stroke-linejoin="round" /><polyline points="44.6,289.36 44.96,289.43 45.32,289.43 45.67,289.38 46.03,289.41 46.39,289.41 46.75,289.44 47.11,289.52 47.47,289.45 47.82,289.49 48.18,289.5 48.54,289.51 48.9,289.44 49.26,289.46 49.61,289.5 49.97,289.46 50.33,289.3 50.69,289.37 51.05,289.5 51.41,289.44 51.76,289.45 52.12,289.54 52.48,289.51 52.84,289.43 53.2,289.53 53.55,289.66 53.91,289.65 54.27,289.6 54.63,289.63 54.99,289.6 55.35,289.6 55.7,289.59 56.06,289.63 56.42,289.67 56.78,289.56 57.14,289.5 57.5,289.46 57.85,289.48 58.21,289.3 58.57,289.3 58.93,289.38 59.29,289.44 59.64,289.34 60,289.39 60.36,289.37 60.72,289.32 61.08,289.23 61.44,289.24 61.79,289.31 62.15,289.38 62.51,289.29 62.87,289.29 63.23,289.32 63.58,289.27 63.94,289.37 64.3,289.49 64.66,289.5 65.02,289.51 65.38,289.59 65.73,289.49 66.09,289.41 66.45,289.43 66.81,289.44 67.17,289.39 67.52,289.4 67.88,289.38 68.24,289.41 68.6,289.41 68.96,289.4 69.32,289.49 69.67,289.62 70.03,289.59 70.39,289.48 70.75,289.46 71.11,289.39 71.47,289.37 71.82,289.41 72.18,289.41 72.54,289.38 72.9,289.35 73.26,289.22 73.61,289.27 73.97,289.36 74.33,289.32 74.69,289.32 75.05,289.39 75.41,289.38 75.76,289.38 76.12,289.38 76.48,289.48 76.84,289.42 77.2,289.32 77.55,289.26 77.91,289.3 78.27,289.15 78.63,289.2 78.99,289.25 79.35,289.33 79.7,289.46 80.06,289.45 80.42,289.44 80.78,289.5 81.14,289.49 81.49,289.41 81.85,289.5 82.21,289.55 82.57,289.48 82.93,289.46 83.29,289.44 83.64,289.42 84,289.48 84.36,289.53 84.72,289.62 85.08,289.62 85.43,289.55 85.79,289.41 86.15,289.3 86.51,289.18 86.87,289.25 87.23,289.25 87.58,289.27 87.94,289.4 88.3,289.55 88.66,289.59 89.02,289.61 89.38,289.69 89.73,289.68 90.09,289.57 90.45,289.51 90.81,289.64 91.17,289.65 91.52,289.58 91.88,289.66 92.24,289.67 92.6,289.56 92.96,289.5 93.32,289.54 93.67,289.48 94.03,289.53 94.39,289.59 94.75,289.59 95.11,289.62 95.46,289.69 95.82,289.53 96.18,289.5 96.54,289.54 96.9,289.46 97.26,289.33 97.61,289.5 97.97,289.59 98.33,289.6 98.69,289.58 99.05,289.7 99.4,289.57 99.76,289.45 100.12,289.38 100.48,289.47 100.84,289.32 101.2,289.3 101.55,289.33 101.91,289.39 102.27,289.31 102.63,289.42 102.99,289.46 103.34,289.5 103.7,289.42 104.06,289.53 104.42,289.55 104.78,289.48 105.14,289.37 105.49,289.43 105.85,289.29 106.21,289.28 106.57,289.29 106.93,289.31 107.28,289.29 107.64,289.4 108,289.46 108.36,289.47 108.72,289.6 109.08,289.53 109.43,289.4 109.79,289.29 110.15,289.42 110.51,289.27 110.87,289.24 111.23,289.29 111.58,289.3 111.94,289.26 112.3,289.36 112.66,289.5 113.02,289.51 113.37,289.52 113.73,289.55 114.09,289.6 114.45,289.51 114.81,289.58 115.17,289.57 115.52,289.55 115.88,289.41 116.24,289.36 116.6,289.41 116.96,289.47 117.31,289.47 117.67,289.45 118.03,289.47 118.39,289.41 118.75,289.41 119.11,289.34 119.46,289.37 119.82,289.34 120.18,289.34 120.54,289.22 120.9,289.22 121.25,289.28 121.61,289.27 121.97,289.29 122.33,289.32 122.69,289.43 123.05,289.49 123.4,289.5 123.76,289.51 124.12,289.5 124.48,289.41 124.84,289.28 125.19,289.38 125.55,289.36 125.91,289.45 126.27,289.4 126.63,289.44 126.99,289.33 127.34,289.23 127.7,289.26 128.06,289.32 128.42,289.41 128.78,289.58 129.14,289.73 129.49,289.59 129.85,289.55 130.21,289.42 130.57,289.36 130.93,289.26 131.28,289.28 131.64,289.35 132,289.4 132.36,289.42 132.72,289.52 133.08,289.61 133.43,289.52 133.79,289.52 134.15,289.39 134.51,289.32 134.87,289.32 135.22,289.34 135.58,289.29 135.94,289.46 136.3,289.42 136.66,289.45 137.02,289.58 137.37,289.57 137.73,289.56 138.09,289.64 138.45,289.48 138.81,289.42 139.16,289.56 139.52,289.54 139.88,289.54 140.24,289.58 140.6,289.64 140.96,289.5 141.31,289.46 141.67,289.32 142.03,289.29 142.39,289.26 142.75,289.38 143.11,289.36 143.46,289.52 143.82,289.57 144.18,289.61 144.54,289.66 144.9,289.57 145.25,289.53 145.61,289.54 145.97,289.46 146.33,289.41 146.69,289.58 147.05,289.46 147.4,289.4 147.76,289.3 148.12,289.34 148.48,289.31 148.84,289.36 149.19,289.36 149.55,289.44 149.91,289.33 150.27,289.25 150.63,289.32 150.99,289.4 151.34,289.44 151.7,289.52 152.06,289.63 152.42,289.63 152.78,289.54 153.13,289.52 153.49,289.44 153.85,289.34 154.21,289.22 154.57,289.33 154.93,289.35 155.28,289.41 155.64,289.47 156,289.49 156.36,289.4 156.72,289.4 157.07,289.4 157.43,289.36 157.79,289.41 158.15,289.46 158.51,289.47 158.87,289.53 159.22,289.58 159.58,289.68 159.94,289.69 160.3,289.72 160.66,289.71 161.02,289.64 161.37,289.6 161.73,289.55 162.09,289.47 162.45,289.33 162.81,289.42 163.16,289.38 163.52,289.38 163.88,289.45 164.24,289.44 164.6,289.43 164.96,289.38 165.31,289.35 165.67,289.21 166.03,289.33 166.39,289.34 166.75,289.39 167.1,289.4 167.46,289.5 167.82,289.39 168.18,289.39 168.54,289.31 168.9,289.48 169.25,289.47 169.61,289.47 169.97,289.35 170.33,289.35 170.69,289.2 171.04,289.12 171.4,289.16 171.76,289.28 172.12,289.36 172.48,289.49 172.84,289.49 173.19,289.5 173.55,289.48 173.91,289.55 174.27,289.4 174.63,289.39 174.98,289.41 175.34,289.36 175.7,289.21 176.06,289.31 176.42,289.38 176.78,289.42 177.13,289.47 177.49,289.62 177.85,289.59 178.21,289.58 178.57,289.54 178.92,289.58 179.28,289.52 179.64,289.61 180,289.66 180.36,289.72 180.72,289.58 181.07,289.57 181.43,289.52 181.79,289.43 182.15,289.44 182.51,289.59 182.87,289.57 183.22,289.55 183.58,289.54 183.94,289.5 184.3,289.38 184.66,289.34 185.01,289.39 185.37,289.42 185.73,289.41 186.09,289.5 186.45,289.55 186.81,289.49 187.16,289.42 187.52,289.34 187.88,289.33 188.24,289.29 188.6,289.38 188.95,289.53 189.31,289.61 189.67,289.5 190.03,289.59 190.39,289.46 190.75,289.31 191.1,289.34 191.46,289.38 191.82,289.25 192.18,289.32 192.54,289.36 192.89,289.28 193.25,289.3 193.61,289.29 193.97,289.2 194.33,289.15 194.69,289.18 195.04,289.26 195.4,289.37 195.76,289.49 196.12,289.57 196.48,289.53 196.83,289.55 197.19,289.47 197.55,289.38 197.91,289.42 198.27,289.47 198.63,289.45 198.98,289.44 199.34,289.56 199.7,289.45 200.06,289.39 200.42,289.31 200.78,289.39 201.13,289.23 201.49,289.24 201.85,289.36 202.21,289.33 202.57,289.23 202.92,289.27 203.28,289.32 203.64,289.26 204,289.24 204.36,289.21 204.72,289.26 205.07,289.25 205.43,289.25 205.79,289.39 206.15,289.51 206.51,289.55 206.86,289.53 207.22,289.44 207.58,289.45 207.94,289.39 208.3,289.34 208.66,289.49 209.01,289.61 209.37,289.59 209.73,289.56 210.09,289.63 210.45,289.62 210.8,289.59 211.16,289.64 211.52,289.66 211.88,289.55 212.24,289.43 212.6,289.47 212.95,289.42 213.31,289.44 213.67,289.5 214.03,289.55 214.39,289.54 214.74,289.46 215.1,289.42 215.46,289.32 215.82,289.25 216.18,289.2 216.54,289.23 216.89,289.22 217.25,289.23 217.61,289.3 217.97,289.33 218.33,289.37 218.69,289.5 219.04,289.5 219.4,289.58 219.76,289.51 220.12,289.47 220.48,289.31 220.83,289.32 221.19,289.16 221.55,289.27 221.91,289.28 222.27,289.35 222.63,289.44 222.98,289.52 223.34,289.46 223.7,289.47" fill="none" stroke="#ff5a5a" stroke-width="0.9" stroke-linejoin="round" /><polyline points="44.6,279.81 44.96,279.94 45.32,279.88 45.67,279.92 46.03,279.97 46.39,279.93 46.75,279.83 47.11,279.87 47.47,279.9 47.82,279.99 48.18,279.97 48.54,280.01 48.9,279.99 49.26,279.91 49.61,279.76 49.97,279.74 50.33,279.73 50.69,279.82 51.05,279.99 51.41,280.16 51.76,280.17 52.12,280.19 52.48,280.17 52.84,280.01 53.2,279.92 53.55,279.9 53.91,279.91 54.27,279.98 54.63,280.08 54.99,280.15 55.35,280.15 55.7,280.01 56.06,279.88 56.42,279.9 56.78,279.76 57.14,279.7 57.5,279.74 57.85,279.69 58.21,279.56 58.57,279.57 58.93,279.63 59.29,279.55 59.64,279.51 60,279.57 60.36,279.51 60.72,279.34 61.08,279.3 61.44,279.17 61.79,278.65 62.15,273.33 62.51,237.77 62.69,210.2 62.87,197.47 63.23,237.97 63.58,273.65 63.94,278.86 64.3,279.27 64.66,279.31 65.02,279.44 65.38,279.58 65.73,279.67 66.09,279.75 66.45,279.82 66.81,279.95 67.17,279.88 67.52,279.89 67.88,279.79 68.24,279.87 68.6,279.73 68.96,279.78 69.32,279.74 69.67,279.81 70.03,279.75 70.39,279.83 70.75,279.9 71.11,279.96 71.47,279.96 71.82,279.91 72.18,279.9 72.54,279.95 72.9,279.84 73.26,279.8 73.61,279.8 73.97,279.88 74.33,279.76 74.69,279.9 75.05,279.91 75.41,280.02 75.76,280.02 76.12,279.99 76.48,279.98 76.84,280 77.2,279.89 77.55,279.89 77.91,280 78.27,279.86 78.63,279.87 78.99,279.88 79.35,279.91 79.7,279.87 80.06,279.98 80.42,279.91 80.78,280 81.14,279.78 81.49,279.78 81.85,279.57 82.21,279.55 82.57,279.34 82.93,279.21 83.11,279.16 83.29,279.29 83.64,279.31 84,279.47 84.36,279.75 84.72,279.7 85.08,279.77 85.43,279.93 85.79,279.97 86.15,279.89 86.51,279.95 86.87,279.97 87.23,279.92 87.58,279.99 87.94,280.02 88.3,280.02 88.66,279.91 89.02,279.8 89.38,279.67 89.73,279.6 90.09,279.61 90.45,279.65 90.81,279.77 91.17,279.79 91.52,279.89 91.88,279.99 92.24,279.99 92.6,279.87 92.96,279.96 93.32,279.91 93.67,279.85 94.03,279.83 94.39,279.95 94.75,279.79 95.11,279.84 95.46,279.78 95.82,279.79 96.18,279.79 96.54,279.84 96.9,279.84 97.26,279.92 97.61,279.95 97.97,279.89 98.33,279.93 98.69,279.78 99.05,279.63 99.4,279.36 99.76,279.11 100.12,278.81 100.48,278.7 100.84,278.47 101.2,278.29 101.55,277.93 101.91,277.43 102.27,276.6 102.63,275.73 102.99,275 103.34,274.72 103.7,275.04 104.06,275.92 104.42,276.87 104.78,277.56 105.14,278.19 105.49,278.58 105.85,278.85 106.21,279.08 106.57,279.3 106.93,279.41 107.28,279.62 107.64,279.65 108,279.65 108.36,279.69 108.72,279.66 109.08,279.7 109.43,279.66 109.79,279.59 110.15,279.54 110.51,279.6 110.87,279.56 111.23,279.63 111.58,279.81 111.94,279.88 112.3,279.87 112.66,279.94 113.02,280.04 113.37,279.91 113.73,279.92 114.09,279.93 114.45,279.79 114.81,279.7 115.17,279.8 115.52,279.69 115.88,279.72 116.24,279.88 116.6,279.87 116.96,279.9 117.31,280.03 117.67,279.94 118.03,279.82 118.39,279.94 118.75,279.87 119.11,279.84 119.46,279.9 119.82,279.98 120.18,279.87 120.54,279.93 120.9,279.94 121.25,279.95 121.61,279.8 121.97,279.87 122.33,279.72 122.69,279.7 123.05,279.62 123.4,279.67 123.76,279.52 124.12,279.42 124.48,279.25 124.84,279.13 125.19,278.89 125.55,278.54 125.91,278 126.27,277.5 126.45,277.25 126.63,277.17 126.99,277.48 127.34,277.85 127.7,277.98 128.06,277.92 128.42,277.56 128.78,276.89 129.14,276.62 129.49,277.07 129.85,277.91 130.21,278.51 130.57,278.88 130.93,279.03 131.28,279.19 131.64,279.17 132,279.18 132.36,279.25 132.72,279.41 133.08,279.48 133.43,279.6 133.79,279.66 134.15,279.56 134.51,279.38 134.87,279.3 135.22,279.1 135.58,279.03 135.94,278.91 136.3,278.67 136.66,278.52 137.02,278.44 137.19,278.42 137.37,278.49 137.73,278.66 138.09,278.72 138.45,278.88 138.81,279.04 139.16,279.12 139.52,279.32 139.88,279.43 140.24,279.45 140.6,279.41 140.96,279.35 141.31,279.35 141.67,279.33 142.03,279.22 142.39,279.07 142.75,279.03 143.11,278.8 143.46,278.55 143.82,278.38 144.18,277.95 144.54,277.36 144.9,276.64 145.25,275.92 145.61,275.09 145.97,274.83 146.33,275.1 146.69,275.89 147.05,276.67 147.4,277.54 147.76,278.12 148.12,278.47 148.48,278.76 148.84,278.98 149.19,279.07 149.55,279.23 149.91,279.37 150.27,279.31 150.63,279.34 150.99,279.4 151.34,279.34 151.7,279.45 152.06,279.51 152.42,279.55 152.78,279.51 153.13,279.55 153.49,279.59 153.85,279.62 154.21,279.68 154.57,279.7 154.93,279.69 155.28,279.62 155.64,279.73 156,279.72 156.36,279.71 156.72,279.73 157.07,279.72 157.43,279.56 157.79,279.63 158.15,279.57 158.51,279.58 158.87,279.56 159.22,279.51 159.58,279.31 159.94,279.43 160.3,279.39 160.48,279.35 160.66,279.48 161.02,279.51 161.37,279.43 161.73,279.56 162.09,279.55 162.45,279.55 162.81,279.54 163.16,279.51 163.52,279.42 163.88,279.35 164.24,279.16 164.6,279.12 164.96,278.97 165.31,279.06 165.67,279.28 166.03,279.42 166.39,279.42 166.75,279.57 167.1,279.51 167.46,279.47 167.82,279.47 168.18,279.59 168.54,279.68 168.9,279.73 169.25,279.82 169.61,279.93 169.97,279.85 170.33,279.86 170.69,279.8 171.04,279.65 171.4,279.57 171.76,279.56 172.12,279.42 172.48,279.36 172.84,279.43 173.19,279.42 173.55,279.41 173.91,279.38 174.27,279.38 174.63,279.26 174.98,279.01 175.34,278.68 175.7,278.4 176.06,277.98 176.42,277.42 176.78,276.86 177.13,276.25 177.49,275.74 177.85,275.52 178.21,275.71 178.57,276.21 178.92,276.83 179.28,277.46 179.64,277.91 180,278.33 180.36,278.61 180.72,278.86 181.07,278.93 181.43,279.15 181.79,279.16 182.15,279.35 182.51,279.45 182.87,279.56 183.22,279.58 183.58,279.62 183.94,279.53 184.3,279.56 184.66,279.6 185.01,279.67 185.37,279.77 185.73,279.89 186.09,279.97 186.45,279.86 186.81,279.89 187.16,279.84 187.52,279.82 187.88,279.81 188.24,279.94 188.6,279.95 188.95,280.02 189.31,280.07 189.67,280.06 190.03,280.07 190.39,279.92 190.75,279.84 191.1,279.79 191.46,279.76 191.82,279.64 192.18,279.75 192.54,279.9 192.89,279.94 193.25,280.03 193.61,280.08 193.97,280.07 194.33,280.02 194.69,279.92 195.04,279.91 195.4,279.89 195.76,279.84 196.12,279.84 196.48,279.83 196.83,279.81 197.19,279.8 197.55,279.75 197.91,279.73 198.27,279.75 198.63,279.64 198.98,279.66 199.34,279.69 199.7,279.62 200.06,279.58 200.42,279.61 200.78,279.56 201.13,279.64 201.49,279.68 201.85,279.73 202.21,279.79 202.57,279.89 202.92,279.9 203.28,279.83 203.64,279.87 204,279.84 204.36,279.72 204.72,279.69 205.07,279.65 205.43,279.64 205.79,279.66 206.15,279.66 206.51,279.48 206.86,279.27 207.22,278.78 207.58,278.08 207.94,277.26 208.3,276.45 208.48,276.44 208.66,276.58 209.01,277.43 209.37,278.27 209.73,278.81 210.09,279.18 210.45,279.49 210.8,279.54 211.16,279.68 211.52,279.84 211.88,279.88 212.24,279.93 212.6,280.05 212.95,280.05 213.31,280.03 213.67,280.03 214.03,280.05 214.39,280.02 214.74,280.02 215.1,280.02 215.46,279.93 215.82,279.97 216.18,280.06 216.54,279.97 216.89,279.96 217.25,279.96 217.61,279.95 217.97,279.89 218.33,279.89 218.69,279.91 219.04,279.91 219.4,279.83 219.76,279.85 220.12,279.82 220.48,279.82 220.83,279.87 221.19,279.87 221.55,279.89 221.91,279.92 222.27,279.88 222.63,279.86 222.98,279.87 223.34,279.82 223.7,279.88" fill="none" stroke="#a3a31a" stroke-width="0.9" stroke-linejoin="round" /><polyline points="44.6,270.02 44.96,269.96 45.32,269.93 45.67,269.96 46.03,270.06 46.39,269.97 46.75,270.03 47.11,270.11 47.47,269.93 47.82,269.85 48.18,269.85 48.54,269.81 48.9,269.73 49.26,269.89 49.61,269.86 49.97,269.85 50.33,269.84 50.69,269.82 51.05,269.72 51.41,269.83 51.76,269.84 52.12,269.83 52.48,269.91 52.84,270.02 53.2,269.87 53.55,269.92 53.91,269.9 54.27,269.79 54.63,269.66 54.99,269.64 55.35,269.65 55.7,269.63 56.06,269.71 56.42,269.66 56.78,269.66 57.14,269.7 57.5,269.81 57.85,269.83 58.21,269.81 58.57,269.87 58.93,269.74 59.29,269.67 59.64,269.56 60,269.6 60.36,269.51 60.72,269.38 61.08,269.13 61.44,268.75 61.79,268.12 62.15,263.18 62.51,231.78 62.69,207.6 62.87,196.5 63.23,232.29 63.58,263.75 63.94,268.45 64.3,268.91 64.66,269.14 65.02,269.17 65.38,269.39 65.73,269.49 66.09,269.6 66.45,269.69 66.81,269.84 67.17,269.75 67.52,269.74 67.88,269.84 68.24,269.76 68.6,269.71 68.96,269.84 69.32,269.98 69.67,269.86 70.03,269.85 70.39,269.92 70.75,269.84 71.11,269.89 71.47,269.9 71.82,270.01 72.18,269.85 72.54,269.79 72.9,269.71 73.26,269.66 73.61,269.66 73.97,269.81 74.33,269.88 74.69,269.97 75.05,270.12 75.41,270.1 75.76,270 76.12,270.08 76.48,270.08 76.84,269.96 77.2,269.98 77.55,269.91 77.91,269.78 78.27,269.71 78.63,269.79 78.99,269.75 79.35,269.81 79.7,269.86 80.06,269.83 80.42,269.8 80.78,269.72 81.14,269.75 81.49,269.77 81.85,269.74 82.21,269.81 82.57,269.93 82.93,269.84 83.29,269.82 83.64,269.86 84,269.9 84.36,269.87 84.72,269.94 85.08,270.03 85.43,270.02 85.79,269.9 86.15,269.97 86.51,269.96 86.87,269.87 87.23,269.86 87.58,269.91 87.94,269.79 88.3,269.76 88.66,269.84 89.02,269.95 89.38,269.89 89.73,269.84 90.09,269.92 90.45,269.84 90.81,269.73 91.17,269.79 91.52,269.9 91.88,269.88 92.24,269.89 92.6,269.88 92.96,269.87 93.32,269.86 93.67,269.77 94.03,269.82 94.39,269.81 94.75,269.71 95.11,269.71 95.46,269.79 95.82,269.62 96.18,269.66 96.54,269.73 96.9,269.67 97.26,269.54 97.61,269.62 97.97,269.55 98.33,269.46 98.69,269.3 99.05,269.25 99.4,268.98 99.76,268.85 100.12,268.65 100.48,268.42 100.84,268 101.2,267.61 101.55,266.99 101.91,266.21 102.27,265.18 102.63,264.12 102.99,263 103.34,262.45 103.7,262.87 104.06,263.97 104.42,265.05 104.78,266.13 105.14,266.95 105.49,267.54 105.85,268.02 106.21,268.46 106.57,268.69 106.93,268.99 107.28,269.15 107.64,269.22 108,269.3 108.36,269.45 108.72,269.4 109.08,269.49 109.43,269.61 109.79,269.55 110.15,269.5 110.51,269.52 110.87,269.49 111.23,269.34 111.58,269.36 111.94,269.5 112.3,269.55 112.66,269.49 113.02,269.56 113.37,269.64 113.73,269.64 114.09,269.72 114.45,269.83 114.81,269.95 115.17,269.94 115.52,269.94 115.88,269.86 116.24,269.9 116.6,269.74 116.96,269.72 117.31,269.61 117.67,269.59 118.03,269.43 118.39,269.49 118.75,269.61 119.11,269.64 119.46,269.76 119.82,269.87 120.18,269.84 120.54,269.74 120.9,269.78 121.25,269.63 121.61,269.55 121.97,269.58 122.33,269.6 122.69,269.47 123.05,269.5 123.4,269.4 123.76,269.3 124.12,269.18 124.48,269.05 124.84,268.71 125.19,268.42 125.55,267.77 125.91,266.91 126.27,266.25 126.45,266.14 126.63,266.23 126.99,266.78 127.34,267.41 127.7,267.97 128.06,268.23 128.42,268.1 128.78,267.87 129.14,267.83 129.49,268.08 129.85,268.49 130.21,268.93 130.57,269.28 130.93,269.5 131.28,269.68 131.64,269.88 132,269.76 132.36,269.65 132.72,269.69 133.08,269.64 133.43,269.61 133.79,269.75 134.15,269.85 134.51,269.75 134.87,269.74 135.22,269.73 135.58,269.75 135.94,269.76 136.3,269.85 136.66,269.85 137.02,269.77 137.37,269.73 137.73,269.76 138.09,269.74 138.45,269.75 138.81,269.75 139.16,269.65 139.52,269.56 139.88,269.41 140.24,269.32 140.6,269.3 140.96,269.32 141.31,269.22 141.67,269.14 142.03,269.06 142.39,268.86 142.75,268.66 143.11,268.46 143.46,268.16 143.82,267.67 144.18,267.2 144.54,266.43 144.9,265.41 145.25,264.21 145.61,263.17 145.97,262.69 146.33,263.02 146.69,263.96 147.05,265.2 147.4,266.28 147.76,267.11 148.12,267.71 148.48,268.17 148.84,268.38 149.19,268.57 149.55,268.66 149.91,268.82 150.27,268.96 150.63,269.2 150.99,269.31 151.34,269.49 151.7,269.65 152.06,269.66 152.42,269.71 152.78,269.83 153.13,269.84 153.49,269.72 153.85,269.85 154.21,269.87 154.57,269.75 154.93,269.75 155.28,269.77 155.64,269.68 156,269.54 156.36,269.52 156.72,269.43 157.07,269.43 157.43,269.54 157.79,269.54 158.15,269.6 158.51,269.55 158.87,269.64 159.22,269.47 159.58,269.39 159.94,269.44 160.3,269.48 160.48,269.4 160.66,269.38 161.02,269.54 161.37,269.56 161.73,269.62 162.09,269.66 162.45,269.71 162.81,269.71 163.16,269.7 163.52,269.69 163.88,269.75 164.24,269.82 164.6,269.89 164.96,269.87 165.31,269.76 165.67,269.75 166.03,269.69 166.39,269.67 166.75,269.64 167.1,269.67 167.46,269.62 167.82,269.65 168.18,269.58 168.54,269.58 168.9,269.54 169.25,269.63 169.61,269.69 169.97,269.62 170.33,269.55 170.69,269.59 171.04,269.51 171.4,269.36 171.76,269.42 172.12,269.49 172.48,269.49 172.84,269.4 173.19,269.39 173.55,269.28 173.91,269.07 174.27,268.77 174.63,268.63 174.98,268.3 175.34,267.94 175.7,267.48 176.06,266.99 176.42,266.3 176.78,265.54 177.13,264.71 177.49,264.03 177.85,263.77 178.21,264.08 178.57,264.8 178.92,265.66 179.28,266.45 179.64,267.2 180,267.6 180.36,268.01 180.72,268.29 181.07,268.6 181.43,268.68 181.79,268.87 182.15,268.98 182.51,269.1 182.87,269.14 183.22,269.21 183.58,269.35 183.94,269.36 184.3,269.32 184.66,269.4 185.01,269.55 185.37,269.6 185.73,269.63 186.09,269.7 186.45,269.63 186.81,269.53 187.16,269.55 187.52,269.66 187.88,269.74 188.24,269.9 188.6,269.93 188.95,269.83 189.31,269.71 189.67,269.71 190.03,269.6 190.39,269.67 190.75,269.76 191.1,269.8 191.46,269.83 191.82,269.98 192.18,269.88 192.54,269.91 192.89,269.98 193.25,269.89 193.61,269.79 193.97,269.94 194.33,269.94 194.69,269.92 195.04,269.94 195.4,270.03 195.76,269.92 196.12,269.81 196.48,269.82 196.83,269.8 197.19,269.82 197.55,269.87 197.91,269.92 198.27,269.97 198.63,269.9 198.98,269.74 199.34,269.76 199.7,269.69 200.06,269.62 200.42,269.6 200.78,269.57 201.13,269.45 201.49,269.39 201.85,269.22 202.21,269.15 202.57,269.29 202.92,269.32 203.28,269.38 203.64,269.44 204,269.54 204.36,269.59 204.72,269.65 205.07,269.76 205.43,269.73 205.79,269.68 206.15,269.54 206.51,269.52 206.86,269.34 207.22,269.16 207.58,268.93 207.94,268.4 208.3,267.86 208.48,267.88 208.66,267.9 209.01,268.37 209.37,268.94 209.73,269.26 210.09,269.38 210.45,269.58 210.8,269.57 211.16,269.61 211.52,269.72 211.88,269.83 212.24,269.95 212.6,269.95 212.95,269.91 213.31,269.88 213.67,269.79 214.03,269.74 214.39,269.83 214.74,269.9 215.1,269.85 215.46,269.98 215.82,269.96 216.18,269.96 216.54,269.89 216.89,269.99 217.25,269.94 217.61,269.96 217.97,269.91 218.33,269.91 218.69,269.91 219.04,269.82 219.4,269.87 219.76,269.92 220.12,270.05 220.48,270.09 220.83,270.11 221.19,269.99 221.55,270.01 221.91,270 222.27,269.94 222.63,269.95 222.98,269.93 223.34,269.87 223.7,269.76" fill="none" stroke="#8e4b4b" stroke-width="0.9" stroke-linejoin="round" /><polyline points="44.6,247.33 44.96,247.28 45.32,247.28 45.67,247.23 46.03,247.36 46.39,247.42 46.75,247.42 47.11,247.43 47.47,247.44 47.82,247.42 48.18,247.42 48.54,247.55 48.9,247.57 49.26,247.62 49.61,247.64 49.97,247.69 50.33,247.68 50.69,247.61 51.05,247.57 51.41,247.55 51.76,247.44 52.12,247.46 52.48,247.51 52.84,247.63 53.2,247.66 53.55,247.64 53.91,247.62 54.27,247.69 54.63,247.53 54.99,247.37 55.35,247.47 55.7,247.33 56.06,247.26 56.42,247.31 56.78,247.42 57.14,247.29 57.5,247.33 57.85,247.23 58.21,247.17 58.57,247.13 58.93,247.21 59.29,247.27 59.64,247.36 60,247.44 60.36,247.35 60.72,247.16 61.08,246.99 61.44,246.58 61.79,246 62.15,242.52 62.51,220.93 62.69,204.36 62.87,196.84 63.23,221.34 63.58,242.91 63.94,246.42 64.3,246.72 64.66,246.98 65.02,247.07 65.38,247.15 65.73,247.22 66.09,247.31 66.45,247.29 66.81,247.35 67.17,247.53 67.52,247.54 67.88,247.67 68.24,247.57 68.6,247.65 68.96,247.52 69.32,247.37 69.67,247.23 70.03,247.35 70.39,247.33 70.75,247.37 71.11,247.4 71.47,247.56 71.82,247.49 72.18,247.41 72.54,247.35 72.9,247.49 73.26,247.34 73.61,247.46 73.97,247.54 74.33,247.59 74.69,247.43 75.05,247.54 75.41,247.39 75.76,247.35 76.12,247.41 76.48,247.52 76.84,247.55 77.2,247.7 77.55,247.77 77.91,247.7 78.27,247.58 78.63,247.58 78.99,247.59 79.35,247.43 79.7,247.46 80.06,247.57 80.42,247.56 80.78,247.45 81.14,247.48 81.49,247.5 81.85,247.49 82.21,247.53 82.57,247.47 82.93,247.61 83.29,247.6 83.64,247.52 84,247.51 84.36,247.54 84.72,247.37 85.08,247.34 85.43,247.35 85.79,247.35 86.15,247.41 86.51,247.55 86.87,247.51 87.23,247.6 87.58,247.53 87.94,247.43 88.3,247.29 88.66,247.27 89.02,247.23 89.38,247.22 89.73,247.27 90.09,247.33 90.45,247.45 90.81,247.46 91.17,247.51 91.52,247.57 91.88,247.47 92.24,247.34 92.6,247.29 92.96,247.22 93.32,247.22 93.67,247.37 94.03,247.48 94.39,247.44 94.75,247.36 95.11,247.34 95.46,247.19 95.82,247.07 96.18,247.06 96.54,247.07 96.9,246.96 97.26,247 97.61,246.97 97.97,246.99 98.33,246.95 98.69,246.87 99.05,246.7 99.4,246.65 99.76,246.37 100.12,246.14 100.48,245.92 100.84,245.7 101.2,245.19 101.55,244.7 101.91,243.88 102.27,242.86 102.63,241.51 102.99,240.44 103.34,239.9 103.7,240.4 104.06,241.42 104.42,242.63 104.78,243.64 105.14,244.54 105.49,245.06 105.85,245.48 106.21,245.83 106.57,246.07 106.93,246.16 107.28,246.37 107.64,246.56 108,246.76 108.36,246.86 108.72,246.93 109.08,247 109.43,247.01 109.79,246.95 110.15,247 110.51,247.17 110.87,247.14 111.23,247.18 111.58,247.21 111.94,247.29 112.3,247.22 112.66,247.23 113.02,247.23 113.37,247.23 113.73,247.31 114.09,247.4 114.45,247.47 114.81,247.47 115.17,247.57 115.52,247.45 115.88,247.37 116.24,247.44 116.6,247.48 116.96,247.48 117.31,247.59 117.67,247.68 118.03,247.63 118.39,247.68 118.75,247.68 119.11,247.68 119.46,247.61 119.82,247.6 120.18,247.51 120.54,247.42 120.9,247.37 121.25,247.28 121.61,247.33 121.97,247.34 122.33,247.36 122.69,247.29 123.05,247.38 123.4,247.16 123.76,247.07 124.12,246.98 124.48,246.76 124.84,246.5 125.19,246.15 125.55,245.59 125.91,244.77 126.27,244.1 126.45,243.87 126.63,243.96 126.99,244.42 127.34,245.05 127.7,245.62 128.06,245.99 128.42,245.99 128.78,245.92 129.14,245.83 129.49,245.97 129.85,246.24 130.21,246.56 130.57,246.69 130.93,246.98 131.28,247.22 131.64,247.29 132,247.28 132.36,247.45 132.72,247.36 133.08,247.23 133.43,247.28 133.79,247.32 134.15,247.31 134.51,247.37 134.87,247.36 135.22,247.36 135.58,247.26 135.94,247.13 136.3,247.07 136.66,247.19 137.02,247.07 137.37,247.15 137.73,247.23 138.09,247.26 138.45,247.11 138.81,247.18 139.16,247.19 139.52,247.15 139.88,247.15 140.24,247.17 140.6,247.12 140.96,247.06 141.31,246.93 141.67,246.7 142.03,246.7 142.39,246.53 142.75,246.34 143.11,246.07 143.46,245.75 143.82,245.27 144.18,244.74 144.54,243.98 144.9,242.98 145.25,241.93 145.61,240.87 145.97,240.41 146.33,240.74 146.69,241.81 147.05,242.86 147.4,243.94 147.76,244.67 148.12,245.32 148.48,245.76 148.84,246.16 149.19,246.38 149.55,246.61 149.91,246.73 150.27,246.88 150.63,246.9 150.99,246.92 151.34,247.08 151.7,247.17 152.06,247.19 152.42,247.2 152.78,247.17 153.13,247.11 153.49,247.17 153.85,247.13 154.21,247.24 154.57,247.3 154.93,247.28 155.28,247.18 155.64,247.24 156,247.15 156.36,247.19 156.72,247.24 157.07,247.19 157.43,247.24 157.79,247.33 158.15,247.23 158.51,247.26 158.87,247.23 159.22,247.1 159.58,247.02 159.94,247.08 160.3,246.91 160.48,246.9 160.66,247 161.02,247.01 161.37,247 161.73,247.08 162.09,247.21 162.45,247.22 162.81,247.2 163.16,247.12 163.52,247.13 163.88,247.05 164.24,246.82 164.6,246.73 164.96,246.82 165.31,246.95 165.67,246.97 166.03,247.02 166.39,247.04 166.75,247.06 167.1,247.08 167.46,247.07 167.82,247.22 168.18,247.28 168.54,247.23 168.9,247.1 169.25,247.22 169.61,247.2 169.97,247.13 170.33,247.26 170.69,247.26 171.04,247.18 171.4,247.17 171.76,247.18 172.12,247.15 172.48,247.19 172.84,247.13 173.19,247.06 173.55,247.06 173.91,246.84 174.27,246.57 174.63,246.28 174.98,246.01 175.34,245.61 175.7,245.23 176.06,244.7 176.42,244.07 176.78,243.08 177.13,242.18 177.49,241.48 177.85,241.17 178.21,241.53 178.57,242.34 178.92,243.22 179.28,243.91 179.64,244.64 180,245.11 180.36,245.6 180.72,245.93 181.07,246.3 181.43,246.47 181.79,246.65 182.15,246.8 182.51,246.96 182.87,247.02 183.22,247.1 183.58,247.22 183.94,247.16 184.3,247.13 184.66,247.22 185.01,247.26 185.37,247.3 185.73,247.44 186.09,247.47 186.45,247.46 186.81,247.44 187.16,247.38 187.52,247.36 187.88,247.33 188.24,247.38 188.6,247.42 188.95,247.5 189.31,247.54 189.67,247.52 190.03,247.41 190.39,247.51 190.75,247.5 191.1,247.36 191.46,247.41 191.82,247.39 192.18,247.41 192.54,247.32 192.89,247.44 193.25,247.52 193.61,247.61 193.97,247.53 194.33,247.58 194.69,247.58 195.04,247.6 195.4,247.51 195.76,247.5 196.12,247.42 196.48,247.42 196.83,247.29 197.19,247.34 197.55,247.35 197.91,247.4 198.27,247.34 198.63,247.43 198.98,247.5 199.34,247.61 199.7,247.67 200.06,247.8 200.42,247.71 200.78,247.64 201.13,247.5 201.49,247.54 201.85,247.46 202.21,247.45 202.57,247.42 202.92,247.48 203.28,247.39 203.64,247.45 204,247.57 204.36,247.65 204.72,247.64 205.07,247.63 205.43,247.46 205.79,247.42 206.15,247.35 206.51,247.28 206.86,247.19 207.22,247.09 207.58,246.75 207.94,246.24 208.3,245.83 208.48,245.61 208.66,245.68 209.01,246 209.37,246.44 209.73,246.65 210.09,246.93 210.45,246.96 210.8,247.2 211.16,247.26 211.52,247.37 211.88,247.36 212.24,247.42 212.6,247.43 212.95,247.53 213.31,247.59 213.67,247.68 214.03,247.81 214.39,247.77 214.74,247.64 215.1,247.58 215.46,247.57 215.82,247.5 216.18,247.52 216.54,247.57 216.89,247.51 217.25,247.54 217.61,247.58 217.97,247.51 218.33,247.47 218.69,247.49 219.04,247.44 219.4,247.31 219.76,247.43 220.12,247.59 220.48,247.57 220.83,247.57 221.19,247.74 221.55,247.65 221.91,247.48 222.27,247.52 222.63,247.54 222.98,247.53 223.34,247.54 223.7,247.69" fill="none" stroke="#d4a21c" stroke-width="0.9" stroke-linejoin="round" /><polyline points="44.6,236.16 44.96,236.26 45.32,236.37 45.67,236.39 46.03,236.46 46.39,236.41 46.75,236.39 47.11,236.24 47.47,236.32 47.82,236.25 48.18,236.26 48.54,236.25 48.9,236.29 49.26,236.22 49.61,236.33 49.97,236.36 50.33,236.29 50.69,236.34 51.05,236.31 51.41,236.22 51.76,236.17 52.12,236.25 52.48,236.28 52.84,236.28 53.2,236.26 53.55,236.33 53.91,236.37 54.27,236.35 54.63,236.37 54.99,236.47 55.35,236.37 55.7,236.27 56.06,236.27 56.42,236.26 56.78,236.24 57.14,236.23 57.5,236.16 57.85,236.09 58.21,236.08 58.57,236 58.93,235.99 59.29,235.95 59.64,236 60,235.99 60.36,235.93 60.72,235.91 61.08,235.81 61.44,235.56 61.79,235.04 62.15,232.36 62.51,215.83 62.69,203.15 62.87,197.29 63.23,216.26 63.58,232.91 63.94,235.51 64.3,235.91 64.66,235.98 65.02,236 65.38,236.16 65.73,236.1 66.09,236.18 66.45,236.31 66.81,236.3 67.17,236.2 67.52,236.31 67.88,236.25 68.24,236.25 68.6,236.4 68.96,236.34 69.32,236.39 69.67,236.39 70.03,236.33 70.39,236.28 70.75,236.29 71.11,236.26 71.47,236.16 71.82,236.13 72.18,236.08 72.54,236.1 72.9,236.07 73.26,236.09 73.61,236.11 73.97,236.14 74.33,236.22 74.69,236.17 75.05,236.25 75.41,236.38 75.76,236.34 76.12,236.38 76.48,236.42 76.84,236.35 77.2,236.33 77.55,236.47 77.91,236.49 78.27,236.47 78.63,236.55 78.99,236.54 79.35,236.46 79.7,236.31 80.06,236.37 80.42,236.36 80.78,236.24 81.14,236.21 81.49,236.33 81.85,236.29 82.21,236.28 82.57,236.42 82.93,236.46 83.29,236.45 83.64,236.39 84,236.42 84.36,236.32 84.72,236.21 85.08,236.09 85.43,236.17 85.79,236.12 86.15,236.18 86.51,236.28 86.87,236.36 87.23,236.28 87.58,236.22 87.94,236.22 88.3,236.29 88.66,236.3 89.02,236.43 89.38,236.59 89.73,236.5 90.09,236.48 90.45,236.42 90.81,236.36 91.17,236.19 91.52,236.17 91.88,236.18 92.24,236.27 92.6,236.15 92.96,236.2 93.32,236.28 93.67,236.13 94.03,236.01 94.39,236.08 94.75,236.1 95.11,236.14 95.46,236.2 95.82,236.31 96.18,236.26 96.54,236.21 96.9,236.18 97.26,236.1 97.61,236.07 97.97,236.12 98.33,236.05 98.69,235.93 99.05,235.8 99.4,235.6 99.76,235.36 100.12,235.29 100.48,235.01 100.84,234.89 101.2,234.52 101.55,233.98 101.91,233.18 102.27,232.32 102.63,231.29 102.99,230.42 103.34,230.09 103.7,230.59 104.06,231.43 104.42,232.31 104.78,233.2 105.14,233.86 105.49,234.3 105.85,234.79 106.21,235.11 106.57,235.39 106.93,235.55 107.28,235.57 107.64,235.67 108,235.71 108.36,235.78 108.72,235.82 109.08,235.99 109.43,235.9 109.79,236.03 110.15,235.9 110.51,236.08 110.87,236.13 111.23,236.18 111.58,236.16 111.94,236.24 112.3,236.25 112.66,236.24 113.02,236.34 113.37,236.45 113.73,236.37 114.09,236.24 114.45,236.11 114.81,236.05 115.17,236 115.52,236.17 115.88,236.18 116.24,236.34 116.6,236.37 116.96,236.34 117.31,236.27 117.67,236.39 118.03,236.39 118.39,236.4 118.75,236.48 119.11,236.47 119.46,236.45 119.82,236.4 120.18,236.47 120.54,236.36 120.9,236.37 121.25,236.35 121.61,236.34 121.97,236.25 122.33,236.16 122.69,236.12 123.05,236.09 123.4,236.02 123.76,236.01 124.12,235.97 124.48,235.76 124.84,235.47 125.19,235.18 125.55,234.71 125.91,234.18 126.27,233.77 126.45,233.73 126.63,233.65 126.99,234.08 127.34,234.6 127.7,235 128.06,235.27 128.42,235.51 128.78,235.69 129.14,235.79 129.49,235.81 129.85,235.96 130.21,236.03 130.57,236.06 130.93,236.19 131.28,236.38 131.64,236.28 132,236.39 132.36,236.34 132.72,236.34 133.08,236.28 133.43,236.42 133.79,236.34 134.15,236.33 134.51,236.3 134.87,236.26 135.22,236.1 135.58,236.14 135.94,236.19 136.3,236.1 136.66,236.03 137.02,236.16 137.37,236.09 137.73,236.14 138.09,236.24 138.45,236.2 138.81,236.2 139.16,236.13 139.52,235.99 139.88,235.86 140.24,235.87 140.6,235.72 140.96,235.78 141.31,235.78 141.67,235.79 142.03,235.67 142.39,235.52 142.75,235.28 143.11,235.12 143.46,234.78 143.82,234.54 144.18,234.07 144.54,233.45 144.9,232.5 145.25,231.57 145.61,230.68 145.97,230.34 146.33,230.8 146.69,231.68 147.05,232.72 147.4,233.58 147.76,234.33 148.12,234.64 148.48,235.1 148.84,235.2 149.19,235.29 149.55,235.39 149.91,235.53 150.27,235.62 150.63,235.84 150.99,236.08 151.34,236.2 151.7,236.39 152.06,236.28 152.42,236.32 152.78,236.24 153.13,236.22 153.49,236.22 153.85,236.31 154.21,236.3 154.57,236.24 154.93,236.23 155.28,236.15 155.64,236.13 156,236.05 156.36,236.14 156.72,236.16 157.07,236.24 157.43,236.17 157.79,236.24 158.15,236.23 158.51,236.11 158.87,236 159.22,235.96 159.58,235.81 159.94,235.76 160.3,235.87 160.48,235.86 160.66,235.95 161.02,235.97 161.37,236 161.73,235.93 162.09,235.93 162.45,235.96 162.81,235.99 163.16,235.94 163.52,236.05 163.88,236.04 164.24,235.97 164.6,235.98 164.96,236.08 165.31,236.07 165.67,236.21 166.03,236.3 166.39,236.3 166.75,236.3 167.1,236.34 167.46,236.3 167.82,236.35 168.18,236.38 168.54,236.3 168.9,236.12 169.25,236.15 169.61,236.08 169.97,236.16 170.33,236.11 170.69,236.11 171.04,236.01 171.4,235.87 171.76,235.77 172.12,235.75 172.48,235.77 172.84,235.74 173.19,235.67 173.55,235.53 173.91,235.46 174.27,235.26 174.63,235.05 174.98,234.88 175.34,234.75 175.7,234.49 176.06,234.18 176.42,233.62 176.78,232.95 177.13,232.21 177.49,231.54 177.85,231.29 178.21,231.52 178.57,232.11 178.92,232.86 179.28,233.46 179.64,233.92 180,234.48 180.36,234.9 180.72,235.15 181.07,235.41 181.43,235.52 181.79,235.64 182.15,235.78 182.51,235.77 182.87,235.82 183.22,235.91 183.58,235.9 183.94,235.96 184.3,235.99 184.66,236.1 185.01,236.11 185.37,236.11 185.73,236.02 186.09,235.97 186.45,235.95 186.81,235.95 187.16,236.01 187.52,236.16 187.88,236.18 188.24,236.3 188.6,236.29 188.95,236.27 189.31,236.26 189.67,236.38 190.03,236.26 190.39,236.38 190.75,236.35 191.1,236.35 191.46,236.25 191.82,236.32 192.18,236.24 192.54,236.33 192.89,236.23 193.25,236.3 193.61,236.29 193.97,236.45 194.33,236.38 194.69,236.35 195.04,236.42 195.4,236.41 195.76,236.41 196.12,236.33 196.48,236.31 196.83,236.2 197.19,236.2 197.55,236.19 197.91,236.35 198.27,236.4 198.63,236.38 198.98,236.29 199.34,236.14 199.7,236.09 200.06,236.17 200.42,236.22 200.78,236.33 201.13,236.39 201.49,236.31 201.85,236.28 202.21,236.2 202.57,236.13 202.92,236.22 203.28,236.24 203.64,236.2 204,236.27 204.36,236.4 204.72,236.24 205.07,236.29 205.43,236.31 205.79,236.38 206.15,236.37 206.51,236.52 206.86,236.55 207.22,236.57 207.58,236.52 207.94,236.45 208.3,236.26 208.48,236.16 208.66,236.06 209.01,236.11 209.37,236.06 209.73,236.13 210.09,236.27 210.45,236.29 210.8,236.28 211.16,236.39 211.52,236.47 211.88,236.32 212.24,236.44 212.6,236.44 212.95,236.38 213.31,236.35 213.67,236.4 214.03,236.42 214.39,236.42 214.74,236.41 215.1,236.36 215.46,236.37 215.82,236.34 216.18,236.3 216.54,236.23 216.89,236.26 217.25,236.25 217.61,236.15 217.97,236.22 218.33,236.35 218.69,236.26 219.04,236.32 219.4,236.4 219.76,236.38 220.12,236.24 220.48,236.32 220.83,236.21 221.19,236.26 221.55,236.28 221.91,236.34 222.27,236.38 222.63,236.43 222.98,236.36 223.34,236.32 223.7,236.35" fill="none" stroke="#b272ec" stroke-width="0.9" stroke-linejoin="round" /><polyline points="44.6,224.69 44.96,224.76 45.32,224.72 45.67,224.71 46.03,224.73 46.39,224.75 46.75,224.76 47.11,224.77 47.47,224.83 47.82,224.82 48.18,224.84 48.54,224.69 48.9,224.75 49.26,224.72 49.61,224.62 49.97,224.52 50.33,224.56 50.69,224.51 51.05,224.37 51.41,224.48 51.76,224.49 52.12,224.54 52.48,224.59 52.84,224.74 53.2,224.69 53.55,224.69 53.91,224.71 54.27,224.63 54.63,224.53 54.99,224.51 55.35,224.55 55.7,224.57 56.06,224.66 56.42,224.73 56.78,224.66 57.14,224.67 57.5,224.61 57.85,224.49 58.21,224.42 58.57,224.46 58.93,224.36 59.29,224.24 59.64,224.24 60,224.13 60.36,223.97 60.72,223.79 61.08,223.54 61.44,223.17 61.79,222.53 62.15,220.42 62.51,208.91 62.69,200.22 62.87,196.32 63.23,209.56 63.58,221.28 63.94,223.28 64.3,223.69 64.66,223.86 65.02,223.96 65.38,224.02 65.73,224.1 66.09,224.19 66.45,224.24 66.81,224.35 67.17,224.29 67.52,224.26 67.88,224.3 68.24,224.3 68.6,224.39 68.96,224.42 69.32,224.49 69.67,224.4 70.03,224.38 70.39,224.34 70.75,224.4 71.11,224.4 71.47,224.58 71.82,224.65 72.18,224.68 72.54,224.73 72.9,224.84 73.26,224.71 73.61,224.77 73.97,224.76 74.33,224.71 74.69,224.56 75.05,224.69 75.41,224.63 75.76,224.57 76.12,224.48 76.48,224.49 76.84,224.35 77.2,224.38 77.55,224.41 77.91,224.5 78.27,224.49 78.63,224.47 78.99,224.5 79.35,224.54 79.7,224.56 80.06,224.68 80.42,224.77 80.78,224.69 81.14,224.67 81.49,224.71 81.85,224.68 82.21,224.7 82.57,224.7 82.93,224.57 83.29,224.44 83.64,224.42 84,224.38 84.36,224.35 84.72,224.52 85.08,224.48 85.43,224.43 85.79,224.38 86.15,224.35 86.51,224.29 86.87,224.38 87.23,224.5 87.58,224.54 87.94,224.67 88.3,224.73 88.66,224.76 89.02,224.74 89.38,224.79 89.73,224.79 90.09,224.8 90.45,224.8 90.81,224.81 91.17,224.79 91.52,224.79 91.88,224.62 92.24,224.53 92.6,224.51 92.96,224.52 93.32,224.45 93.67,224.53 94.03,224.61 94.39,224.46 94.75,224.31 95.11,224.26 95.46,224.22 95.82,224.2 96.18,224.3 96.54,224.39 96.9,224.38 97.26,224.27 97.61,224.2 97.97,224.15 98.33,223.96 98.69,223.81 99.05,223.81 99.4,223.59 99.76,223.41 100.12,223.24 100.48,222.85 100.84,222.31 101.2,221.73 101.55,220.95 101.91,220 102.27,218.91 102.63,217.5 102.99,216.28 103.34,215.66 103.7,216.19 104.06,217.43 104.42,218.85 104.78,220.01 105.14,220.97 105.49,221.62 105.85,222.05 106.21,222.48 106.57,222.93 106.93,223.23 107.28,223.5 107.64,223.79 108,224.04 108.36,224.13 108.72,224.26 109.08,224.26 109.43,224.15 109.79,224.12 110.15,224.04 110.51,223.94 110.87,223.92 111.23,224.05 111.58,224.12 111.94,224.27 112.3,224.43 112.66,224.58 113.02,224.55 113.37,224.43 113.73,224.33 114.09,224.29 114.45,224.21 114.81,224.18 115.17,224.34 115.52,224.38 115.88,224.3 116.24,224.28 116.6,224.29 116.96,224.22 117.31,224.31 117.67,224.33 118.03,224.41 118.39,224.4 118.75,224.3 119.11,224.26 119.46,224.32 119.82,224.2 120.18,224.21 120.54,224.34 120.9,224.38 121.25,224.4 121.61,224.39 121.97,224.34 122.33,224.31 122.69,224.13 123.05,223.92 123.4,223.88 123.76,223.86 124.12,223.63 124.48,223.54 124.84,223.4 125.19,222.88 125.55,222.15 125.91,221.3 126.27,220.45 126.45,220.26 126.63,220.38 126.99,221.02 127.34,221.89 127.7,222.63 128.06,223.05 128.42,223.36 128.78,223.47 129.14,223.53 129.49,223.69 129.85,223.94 130.21,223.99 130.57,224.15 130.93,224.2 131.28,224.22 131.64,224.12 132,224.24 132.36,224.16 132.72,224.17 133.08,224.19 133.43,224.27 133.79,224.35 134.15,224.44 134.51,224.5 134.87,224.59 135.22,224.54 135.58,224.51 135.94,224.5 136.3,224.39 136.66,224.28 137.02,224.35 137.37,224.27 137.73,224.24 138.09,224.21 138.45,224.27 138.81,224.2 139.16,224.22 139.52,224.23 139.88,224.19 140.24,224.07 140.6,224 140.96,223.83 141.31,223.62 141.67,223.57 142.03,223.41 142.39,223.24 142.75,223.06 143.11,222.81 143.46,222.42 143.82,221.91 144.18,221.22 144.54,220.21 144.9,219.03 145.25,217.6 145.61,216.33 145.97,215.87 146.33,216.44 146.69,217.59 147.05,218.95 147.4,220.28 147.76,221.23 148.12,221.95 148.48,222.63 148.84,223.13 149.19,223.43 149.55,223.56 149.91,223.68 150.27,223.67 150.63,223.79 150.99,223.77 151.34,223.84 151.7,224.02 152.06,224.08 152.42,223.97 152.78,224.1 153.13,224.08 153.49,224.06 153.85,224.15 154.21,224.17 154.57,224.07 154.93,224.23 155.28,224.23 155.64,224.23 156,224.35 156.36,224.47 156.72,224.44 157.07,224.38 157.43,224.46 157.79,224.4 158.15,224.34 158.51,224.36 158.87,224.39 159.22,224.23 159.58,224.19 159.94,224.2 160.3,224 160.48,223.91 160.66,223.85 161.02,223.96 161.37,223.97 161.73,224.21 162.09,224.26 162.45,224.43 162.81,224.46 163.16,224.46 163.52,224.32 163.88,224.33 164.24,224.34 164.6,224.35 164.96,224.26 165.31,224.33 165.67,224.35 166.03,224.38 166.39,224.39 166.75,224.43 167.1,224.45 167.46,224.56 167.82,224.4 168.18,224.28 168.54,224.25 168.9,224.29 169.25,224.13 169.61,224.27 169.97,224.21 170.33,224.25 170.69,224.17 171.04,224.19 171.4,223.99 171.76,224.05 172.12,224.05 172.48,223.95 172.84,223.93 173.19,223.98 173.55,223.87 173.91,223.74 174.27,223.61 174.63,223.36 174.98,223.02 175.34,222.51 175.7,221.96 176.06,221.24 176.42,220.43 176.78,219.41 177.13,218.47 177.49,217.59 177.85,217.32 178.21,217.58 178.57,218.43 178.92,219.48 179.28,220.45 179.64,221.12 180,221.9 180.36,222.36 180.72,222.71 181.07,223.01 181.43,223.27 181.79,223.41 182.15,223.61 182.51,223.69 182.87,223.7 183.22,223.88 183.58,223.87 183.94,223.89 184.3,223.95 184.66,224.1 185.01,224.14 185.37,224.31 185.73,224.45 186.09,224.58 186.45,224.54 186.81,224.57 187.16,224.57 187.52,224.59 187.88,224.47 188.24,224.46 188.6,224.39 188.95,224.38 189.31,224.36 189.67,224.47 190.03,224.55 190.39,224.66 190.75,224.63 191.1,224.64 191.46,224.52 191.82,224.43 192.18,224.36 192.54,224.4 192.89,224.28 193.25,224.4 193.61,224.52 193.97,224.62 194.33,224.6 194.69,224.7 195.04,224.66 195.4,224.69 195.76,224.6 196.12,224.68 196.48,224.72 196.83,224.8 197.19,224.76 197.55,224.85 197.91,224.85 198.27,224.84 198.63,224.82 198.98,224.78 199.34,224.7 199.7,224.56 200.06,224.5 200.42,224.41 200.78,224.36 201.13,224.39 201.49,224.47 201.85,224.41 202.21,224.51 202.57,224.54 202.92,224.5 203.28,224.55 203.64,224.58 204,224.44 204.36,224.46 204.72,224.45 205.07,224.31 205.43,224.43 205.79,224.5 206.15,224.53 206.51,224.51 206.86,224.51 207.22,224.38 207.58,224.37 207.94,224.3 208.3,224.33 208.66,224.35 209.01,224.46 209.37,224.56 209.73,224.7 210.09,224.76 210.45,224.87 210.8,224.76 211.16,224.67 211.52,224.58 211.88,224.53 212.24,224.42 212.6,224.49 212.95,224.59 213.31,224.56 213.67,224.54 214.03,224.57 214.39,224.56 214.74,224.44 215.1,224.57 215.46,224.58 215.82,224.62 216.18,224.71 216.54,224.78 216.89,224.66 217.25,224.76 217.61,224.67 217.97,224.5 218.33,224.46 218.69,224.53 219.04,224.48 219.4,224.49 219.76,224.52 220.12,224.5 220.48,224.45 220.83,224.53 221.19,224.63 221.55,224.72 221.91,224.7 222.27,224.76 222.63,224.67 222.98,224.7 223.34,224.67 223.7,224.77" fill="none" stroke="#37a563" stroke-width="0.9" stroke-linejoin="round" /><polyline points="44.6,214.31 44.96,214.24 45.32,214.32 45.67,214.32 46.03,214.31 46.39,214.29 46.75,214.3 47.11,214.23 47.47,214.2 47.82,214.29 48.18,214.29 48.54,214.25 48.9,214.32 49.26,214.36 49.61,214.45 49.97,214.43 50.33,214.51 50.69,214.36 51.05,214.33 51.41,214.31 51.76,214.31 52.12,214.2 52.48,214.35 52.84,214.3 53.2,214.25 53.55,214.17 53.91,214.29 54.27,214.17 54.63,214.19 54.99,214.13 55.35,214.08 55.7,214.03 56.06,214.12 56.42,214.19 56.78,214.13 57.14,214.19 57.5,214.25 57.85,214.08 58.21,213.96 58.57,213.97 58.93,213.86 59.29,213.79 59.64,213.84 60,213.7 60.36,213.68 60.72,213.53 61.08,213.31 61.44,212.88 61.79,212.35 62.15,210.62 62.51,203.52 62.69,198.27 62.87,196.08 63.23,204.19 63.58,211.47 63.94,212.97 64.3,213.45 64.66,213.58 65.02,213.68 65.38,213.77 65.73,213.91 66.09,213.94 66.45,214.16 66.81,214.22 67.17,214.33 67.52,214.32 67.88,214.31 68.24,214.18 68.6,214.09 68.96,214.12 69.32,214.13 69.67,214.18 70.03,214.22 70.39,214.21 70.75,214.21 71.11,214.14 71.47,214.12 71.82,214.24 72.18,214.29 72.54,214.26 72.9,214.37 73.26,214.35 73.61,214.31 73.97,214.38 74.33,214.36 74.69,214.32 75.05,214.29 75.41,214.28 75.76,214.34 76.12,214.4 76.48,214.46 76.84,214.47 77.2,214.46 77.55,214.33 77.91,214.25 78.27,214.14 78.63,214.06 78.99,214.11 79.35,214.26 79.7,214.32 80.06,214.38 80.42,214.46 80.78,214.33 81.14,214.27 81.49,214.11 81.85,214.18 82.21,214.14 82.57,214.23 82.93,214.13 83.29,214.3 83.64,214.13 84,214.14 84.36,213.99 84.72,214.05 85.08,214.02 85.43,214.01 85.79,214.07 86.15,214.23 86.51,214.23 86.87,214.17 87.23,214.25 87.58,214.3 87.94,214.29 88.3,214.29 88.66,214.3 89.02,214.36 89.38,214.3 89.73,214.18 90.09,214.15 90.45,214.14 90.81,214.09 91.17,214.1 91.52,214.18 91.88,214.27 92.24,214.26 92.6,214.3 92.96,214.23 93.32,214.13 93.67,214.04 94.03,214.1 94.39,214.03 94.75,214.07 95.11,214.16 95.46,214.07 95.82,213.91 96.18,213.85 96.54,213.76 96.9,213.7 97.26,213.79 97.61,213.77 97.97,213.66 98.33,213.58 98.69,213.52 99.05,213.32 99.4,213.1 99.76,212.9 100.12,212.6 100.48,212.1 100.84,211.75 101.2,211.3 101.55,210.58 101.91,209.56 102.27,208.39 102.63,206.78 102.99,205.39 103.34,204.85 103.7,205.46 104.06,206.64 104.42,208.14 104.78,209.53 105.14,210.47 105.49,211.31 105.85,211.98 106.21,212.37 106.57,212.59 106.93,212.94 107.28,213.11 107.64,213.22 108,213.37 108.36,213.5 108.72,213.47 109.08,213.45 109.43,213.47 109.79,213.57 110.15,213.67 110.51,213.8 110.87,213.87 111.23,213.95 111.58,213.93 111.94,213.97 112.3,214.05 112.66,214.02 113.02,214.08 113.37,214.17 113.73,214.21 114.09,214.08 114.45,214.17 114.81,214.17 115.17,214.11 115.52,214.04 115.88,214.15 116.24,214.04 116.6,214.02 116.96,214.1 117.31,214.01 117.67,213.92 118.03,213.94 118.39,213.97 118.75,213.88 119.11,213.95 119.46,213.93 119.82,213.99 120.18,213.89 120.54,213.88 120.9,213.9 121.25,213.91 121.61,213.82 121.97,213.75 122.33,213.69 122.69,213.57 123.05,213.6 123.4,213.55 123.76,213.49 124.12,213.49 124.48,213.33 124.84,212.87 125.19,212.34 125.55,211.6 125.91,210.73 126.27,209.99 126.45,209.88 126.63,210.04 126.99,210.86 127.34,211.74 127.7,212.37 128.06,212.85 128.42,213.17 128.78,213.38 129.14,213.39 129.49,213.52 129.85,213.63 130.21,213.7 130.57,213.75 130.93,213.88 131.28,213.99 131.64,214.09 132,214.12 132.36,214.17 132.72,214.1 133.08,214.11 133.43,214.14 133.79,214.2 134.15,214.15 134.51,214.2 134.87,214.12 135.22,214.12 135.58,214.12 135.94,214.13 136.3,214.17 136.66,214.17 137.02,214.15 137.37,214.17 137.73,214.1 138.09,213.98 138.45,213.94 138.81,213.83 139.16,213.75 139.52,213.65 139.88,213.6 140.24,213.61 140.6,213.54 140.96,213.35 141.31,213.24 141.67,213.09 142.03,213 142.39,212.86 142.75,212.72 143.11,212.57 143.46,212.2 143.82,211.68 144.18,210.85 144.54,209.86 144.9,208.56 145.25,207.23 145.61,205.84 145.97,205.38 146.33,205.84 146.69,207.01 147.05,208.36 147.4,209.57 147.76,210.54 148.12,211.36 148.48,211.91 148.84,212.34 149.19,212.77 149.55,212.97 149.91,213.13 150.27,213.41 150.63,213.47 150.99,213.53 151.34,213.55 151.7,213.61 152.06,213.51 152.42,213.66 152.78,213.75 153.13,213.86 153.49,213.84 153.85,213.89 154.21,213.84 154.57,213.87 154.93,213.91 155.28,214.05 155.64,214.14 156,214.09 156.36,214.05 156.72,213.99 157.07,213.88 157.43,213.91 157.79,213.94 158.15,213.97 158.51,214.03 158.87,213.99 159.22,213.95 159.58,213.84 159.94,213.72 160.3,213.61 160.48,213.54 160.66,213.55 161.02,213.57 161.37,213.7 161.73,213.76 162.09,213.87 162.45,213.76 162.81,213.91 163.16,213.77 163.52,213.79 163.88,213.83 164.24,214 164.6,214.03 164.96,214.14 165.31,214.2 165.67,214.22 166.03,214.1 166.39,214.07 166.75,214.02 167.1,214.07 167.46,214.1 167.82,214.11 168.18,214.01 168.54,214.05 168.9,214.04 169.25,214 169.61,214.05 169.97,214.12 170.33,214.05 170.69,213.97 171.04,213.85 171.4,213.73 171.76,213.61 172.12,213.51 172.48,213.39 172.84,213.38 173.19,213.26 173.55,213.23 173.91,213.05 174.27,212.88 174.63,212.57 174.98,212.32 175.34,211.85 175.7,211.41 176.06,210.71 176.42,209.82 176.78,208.81 177.13,207.7 177.49,206.76 177.85,206.41 178.21,206.85 178.57,207.73 178.92,208.83 179.28,209.92 179.64,210.85 180,211.45 180.36,212.07 180.72,212.46 181.07,212.67 181.43,212.9 181.79,213.13 182.15,213.26 182.51,213.37 182.87,213.58 183.22,213.68 183.58,213.86 183.94,213.84 184.3,214.01 184.66,214.04 185.01,213.92 185.37,213.82 185.73,213.85 186.09,213.81 186.45,213.77 186.81,213.97 187.16,213.97 187.52,214.07 187.88,214.03 188.24,214.08 188.6,213.93 188.95,214.09 189.31,213.98 189.67,214.13 190.03,214.12 190.39,214.21 190.75,214.03 191.1,214.09 191.46,213.93 191.82,213.86 192.18,213.88 192.54,214.04 192.89,214.15 193.25,214.2 193.61,214.2 193.97,214.16 194.33,214.12 194.69,214.04 195.04,214.06 195.4,214.19 195.76,214.18 196.12,214.21 196.48,214.32 196.83,214.43 197.19,214.39 197.55,214.39 197.91,214.39 198.27,214.32 198.63,214.21 198.98,214.25 199.34,214.29 199.7,214.22 200.06,214.22 200.42,214.31 200.78,214.23 201.13,214.2 201.49,214.27 201.85,214.2 202.21,214.12 202.57,214.09 202.92,214.07 203.28,214.02 203.64,214.03 204,214.1 204.36,214.13 204.72,214.26 205.07,214.29 205.43,214.32 205.79,214.21 206.15,214.2 206.51,214.03 206.86,213.92 207.22,213.81 207.58,213.81 207.94,213.76 208.3,213.77 208.48,213.88 208.66,213.92 209.01,213.99 209.37,214.14 209.73,214.23 210.09,214.26 210.45,214.29 210.8,214.31 211.16,214.31 211.52,214.23 211.88,214.18 212.24,214.26 212.6,214.29 212.95,214.15 213.31,214.25 213.67,214.32 214.03,214.26 214.39,214.19 214.74,214.2 215.1,214.15 215.46,214.06 215.82,214.14 216.18,214.23 216.54,214.24 216.89,214.19 217.25,214.25 217.61,214.16 217.97,214.15 218.33,214.2 218.69,214.16 219.04,214.07 219.4,214.14 219.76,214.09 220.12,214.02 220.48,214.07 220.83,214.16 221.19,214.13 221.55,214.18 221.91,214.24 222.27,214.24 222.63,214.31 222.98,214.2 223.34,214.18 223.7,214.18" fill="none" stroke="#3b7ae0" stroke-width="0.9" stroke-linejoin="round" /><polyline points="44.6,258.67 44.96,258.69 45.32,258.71 45.67,258.68 46.03,258.53 46.39,258.46 46.75,258.35 47.11,258.32 47.47,258.29 47.82,258.41 48.18,258.52 48.54,258.64 48.9,258.64 49.26,258.57 49.61,258.47 49.97,258.35 50.33,258.22 50.69,258.22 51.05,258.33 51.41,258.37 51.76,258.38 52.12,258.37 52.48,258.24 52.84,258.28 53.2,258.28 53.55,258.29 53.91,258.35 54.27,258.48 54.63,258.4 54.99,258.49 55.35,258.44 55.7,258.36 56.06,258.29 56.42,258.31 56.78,258.15 57.14,258.2 57.5,258.19 57.85,258.11 58.21,258.05 58.57,258.12 58.93,258.08 59.29,258.12 59.64,258.18 60,258.14 60.36,257.96 60.72,257.91 61.08,257.75 61.44,257.32 61.79,256.39 62.15,241.88 62.51,140.82 62.69,62.52 62.87,26.07 63.23,141.21 63.58,242.32 63.94,256.81 64.3,257.54 64.66,257.91 65.02,258.04 65.38,258.08 65.73,258.14 66.09,258.21 66.45,258.14 66.81,258.22 67.17,258.37 67.52,258.41 67.88,258.39 68.24,258.46 68.6,258.45 68.96,258.41 69.32,258.42 69.67,258.49 70.03,258.6 70.39,258.52 70.75,258.42 71.11,258.28 71.47,258.23 71.82,258.07 72.18,258.19 72.54,258.31 72.9,258.31 73.26,258.3 73.61,258.4 73.97,258.23 74.33,258.18 74.69,258.2 75.05,258.29 75.41,258.33 75.76,258.43 76.12,258.51 76.48,258.59 76.84,258.47 77.2,258.45 77.55,258.53 77.91,258.54 78.27,258.58 78.63,258.61 78.99,258.61 79.35,258.56 79.7,258.55 80.06,258.4 80.42,258.46 80.78,258.49 81.14,258.53 81.49,258.54 81.85,258.69 82.21,258.64 82.57,258.65 82.93,258.65 83.29,258.57 83.64,258.55 84,258.49 84.36,258.5 84.72,258.4 85.08,258.35 85.43,258.32 85.79,258.32 86.15,258.25 86.51,258.3 86.87,258.37 87.23,258.43 87.58,258.53 87.94,258.57 88.3,258.45 88.66,258.37 89.02,258.28 89.38,258.35 89.73,258.34 90.09,258.46 90.45,258.56 90.81,258.61 91.17,258.45 91.52,258.46 91.88,258.49 92.24,258.35 92.6,258.28 92.96,258.25 93.32,258.19 93.67,258.02 94.03,258.05 94.39,258 94.75,258.03 95.11,257.99 95.46,258.12 95.82,258.17 96.18,258.13 96.54,258.07 96.9,257.95 97.26,257.86 97.61,257.72 97.97,257.67 98.33,257.64 98.69,257.57 99.05,257.42 99.4,257.29 99.76,257.13 100.12,256.97 100.48,256.66 100.84,256.2 101.2,255.79 101.55,255.05 101.91,254.01 102.27,252.89 102.63,251.73 102.99,250.4 103.34,250.07 103.7,250.56 104.06,251.73 104.42,253.06 104.78,254.36 105.14,255.18 105.49,255.94 105.85,256.43 106.21,256.66 106.57,256.94 106.93,257.28 107.28,257.39 107.64,257.66 108,257.78 108.36,257.89 108.72,257.82 109.08,257.91 109.43,257.8 109.79,257.9 110.15,257.8 110.51,257.95 110.87,257.99 111.23,258.12 111.58,258.08 111.94,258.11 112.3,258.08 112.66,258.12 113.02,258.19 113.37,258.35 113.73,258.4 114.09,258.4 114.45,258.35 114.81,258.25 115.17,258.23 115.52,258.28 115.88,258.23 116.24,258.29 116.6,258.41 116.96,258.28 117.31,258.19 117.67,258.32 118.03,258.31 118.39,258.24 118.75,258.24 119.11,258.33 119.46,258.3 119.82,258.3 120.18,258.19 120.54,258.3 120.9,258.32 121.25,258.23 121.61,258.13 121.97,258.19 122.33,258.09 122.69,257.91 123.05,257.82 123.4,257.89 123.76,257.72 124.12,257.62 124.48,257.51 124.84,257.2 125.19,256.69 125.55,256.06 125.91,255.26 126.27,254.49 126.45,254.49 126.63,254.62 126.99,255.28 127.34,255.95 127.7,256.52 128.06,256.64 128.42,256.54 128.78,256.47 129.14,256.41 129.49,256.71 129.85,257.22 130.21,257.56 130.57,257.7 130.93,257.89 131.28,258.04 131.64,258.05 132,258.16 132.36,258.15 132.72,258.01 133.08,257.96 133.43,258 133.79,257.97 134.15,258.06 134.51,258.08 134.87,258.11 135.22,258.07 135.58,258.12 135.94,258.01 136.3,258.03 136.66,258 137.02,258.07 137.37,258.09 137.73,258.09 138.09,258.15 138.45,258.12 138.81,258.16 139.16,258.14 139.52,258.22 139.88,258.1 140.24,258.14 140.6,257.94 140.96,257.81 141.31,257.65 141.67,257.63 142.03,257.41 142.39,257.4 142.75,257.18 143.11,256.83 143.46,256.5 143.82,256.01 144.18,255.31 144.54,254.47 144.9,253.53 145.25,252.29 145.61,251.12 145.97,250.57 146.33,250.94 146.69,251.91 147.05,253 147.4,254.26 147.76,255.17 148.12,255.88 148.48,256.4 148.84,256.77 149.19,256.94 149.55,257.08 149.91,257.32 150.27,257.43 150.63,257.59 150.99,257.68 151.34,257.81 151.7,257.74 152.06,257.85 152.42,257.84 152.78,257.94 153.13,257.97 153.49,257.99 153.85,257.93 154.21,258.06 154.57,258.11 154.93,258.17 155.28,258.23 155.64,258.18 156,258.08 156.36,258.05 156.72,258.03 157.07,257.99 157.43,258.11 157.79,258.18 158.15,258.23 158.51,258.24 158.87,258.26 159.22,258.14 159.58,258.05 159.94,257.94 160.3,257.77 160.48,257.75 160.66,257.85 161.02,257.98 161.37,257.92 161.73,257.97 162.09,257.96 162.45,257.92 162.81,257.91 163.16,258.1 163.52,258.25 163.88,258.39 164.24,258.34 164.6,258.24 164.96,258.12 165.31,258.15 165.67,258.14 166.03,258.26 166.39,258.25 166.75,258.36 167.1,258.23 167.46,258.14 167.82,258.09 168.18,258.08 168.54,258.05 168.9,258.08 169.25,258.16 169.61,258.23 169.97,258.38 170.33,258.34 170.69,258.39 171.04,258.37 171.4,258.17 171.76,258.08 172.12,257.92 172.48,257.75 172.84,257.55 173.19,257.51 173.55,257.28 173.91,257.14 174.27,256.96 174.63,256.77 174.98,256.48 175.34,256.15 175.7,255.74 176.06,255.16 176.42,254.45 176.78,253.47 177.13,252.51 177.49,251.76 177.85,251.49 178.21,251.7 178.57,252.64 178.92,253.66 179.28,254.5 179.64,255.16 180,255.88 180.36,256.33 180.72,256.69 181.07,257.1 181.43,257.32 181.79,257.55 182.15,257.59 182.51,257.76 182.87,257.83 183.22,257.91 183.58,257.83 183.94,258.02 184.3,257.99 184.66,257.97 185.01,258.03 185.37,258.18 185.73,258.1 186.09,258.04 186.45,258.02 186.81,258 187.16,257.88 187.52,257.98 187.88,258.02 188.24,258 188.6,258.08 188.95,258.24 189.31,258.2 189.67,258.2 190.03,258.3 190.39,258.3 190.75,258.16 191.1,258.17 191.46,258.34 191.82,258.28 192.18,258.36 192.54,258.37 192.89,258.36 193.25,258.31 193.61,258.27 193.97,258.2 194.33,258.3 194.69,258.27 195.04,258.17 195.4,258.17 195.76,258.12 196.12,258.07 196.48,258.09 196.83,258.15 197.19,258.22 197.55,258.2 197.91,258.26 198.27,258.37 198.63,258.35 198.98,258.35 199.34,258.44 199.7,258.39 200.06,258.36 200.42,258.45 200.78,258.53 201.13,258.48 201.49,258.42 201.85,258.34 202.21,258.35 202.57,258.18 202.92,258.17 203.28,258.23 203.64,258.35 204,258.21 204.36,258.26 204.72,258.28 205.07,258.34 205.43,258.17 205.79,258.28 206.15,258.24 206.51,258.23 206.86,258.02 207.22,257.75 207.58,257.25 207.94,256.65 208.3,256.1 208.48,256.01 208.66,256.15 209.01,256.8 209.37,257.42 209.73,257.67 210.09,257.83 210.45,257.93 210.8,257.98 211.16,258 211.52,258.08 211.88,258.12 212.24,258.23 212.6,258.27 212.95,258.41 213.31,258.4 213.67,258.37 214.03,258.41 214.39,258.31 214.74,258.25 215.1,258.3 215.46,258.32 215.82,258.31 216.18,258.34 216.54,258.37 216.89,258.4 217.25,258.55 217.61,258.56 217.97,258.62 218.33,258.51 218.69,258.58 219.04,258.44 219.4,258.48 219.76,258.35 220.12,258.49 220.48,258.5 220.83,258.6 221.19,258.44 221.55,258.5 221.91,258.37 222.27,258.3 222.63,258.32 222.98,258.43 223.34,258.46 223.7,258.6" fill="none" stroke="#1fc7d6" stroke-width="0.9" stroke-linejoin="round" /></g><rect x="44.6" y="176.4" width="179.1" height="129.1" fill="none" stroke="#333" stroke-width="1"/><line x1="62.51" y1="305.5" x2="62.51" y2="302.1" stroke="#333" stroke-width="1" /><line x1="62.51" y1="176.4" x2="62.51" y2="179.8" stroke="#333" stroke-width="1" /><text x="62.51" y="316.7" font-size="9.9" text-anchor="middle" fill="#000" style="">800</text><line x1="98.33" y1="305.5" x2="98.33" y2="302.1" stroke="#333" stroke-width="1" /><line x1="98.33" y1="176.4" x2="98.33" y2="179.8" stroke="#333" stroke-width="1" /><text x="98.33" y="316.7" font-size="9.9" text-anchor="middle" fill="#000" style="">1000</text><line x1="134.15" y1="305.5" x2="134.15" y2="302.1" stroke="#333" stroke-width="1" /><line x1="134.15" y1="176.4" x2="134.15" y2="179.8" stroke="#333" stroke-width="1" /><text x="134.15" y="316.7" font-size="9.9" text-anchor="middle" fill="#000" style="">1200</text><line x1="169.97" y1="305.5" x2="169.97" y2="302.1" stroke="#333" stroke-width="1" /><line x1="169.97" y1="176.4" x2="169.97" y2="179.8" stroke="#333" stroke-width="1" /><text x="169.97" y="316.7" font-size="9.9" text-anchor="middle" fill="#000" style="">1400</text><line x1="205.79" y1="305.5" x2="205.79" y2="302.1" stroke="#333" stroke-width="1" /><line x1="205.79" y1="176.4" x2="205.79" y2="179.8" stroke="#333" stroke-width="1" /><text x="205.79" y="316.7" font-size="9.9" text-anchor="middle" fill="#000" style="">1600</text><line x1="44.6" y1="305.5" x2="44.6" y2="303.6" stroke="#333" stroke-width="1" /><line x1="44.6" y1="176.4" x2="44.6" y2="178.3" stroke="#333" stroke-width="1" /><line x1="80.42" y1="305.5" x2="80.42" y2="303.6" stroke="#333" stroke-width="1" /><line x1="80.42" y1="176.4" x2="80.42" y2="178.3" stroke="#333" stroke-width="1" /><line x1="116.24" y1="305.5" x2="116.24" y2="303.6" stroke="#333" stroke-width="1" /><line x1="116.24" y1="176.4" x2="116.24" y2="178.3" stroke="#333" stroke-width="1" /><line x1="152.06" y1="305.5" x2="152.06" y2="303.6" stroke="#333" stroke-width="1" /><line x1="152.06" y1="176.4" x2="152.06" y2="178.3" stroke="#333" stroke-width="1" /><line x1="187.88" y1="305.5" x2="187.88" y2="303.6" stroke="#333" stroke-width="1" /><line x1="187.88" y1="176.4" x2="187.88" y2="178.3" stroke="#333" stroke-width="1" /><line x1="223.7" y1="305.5" x2="223.7" y2="303.6" stroke="#333" stroke-width="1" /><line x1="223.7" y1="176.4" x2="223.7" y2="178.3" stroke="#333" stroke-width="1" /><line x1="44.6" y1="291.16" x2="48" y2="291.16" stroke="#333" stroke-width="1" /><line x1="223.7" y1="291.16" x2="220.3" y2="291.16" stroke="#333" stroke-width="1" /><text x="41.1" y="294.76" font-size="9.9" text-anchor="end" fill="#000" style="">0</text><line x1="44.6" y1="262.47" x2="48" y2="262.47" stroke="#333" stroke-width="1" /><line x1="223.7" y1="262.47" x2="220.3" y2="262.47" stroke="#333" stroke-width="1" /><text x="41.1" y="266.07" font-size="9.9" text-anchor="end" fill="#000" style="">5</text><line x1="44.6" y1="233.78" x2="48" y2="233.78" stroke="#333" stroke-width="1" /><line x1="223.7" y1="233.78" x2="220.3" y2="233.78" stroke="#333" stroke-width="1" /><text x="41.1" y="237.38" font-size="9.9" text-anchor="end" fill="#000" style="">10</text><line x1="44.6" y1="205.09" x2="48" y2="205.09" stroke="#333" stroke-width="1" /><line x1="223.7" y1="205.09" x2="220.3" y2="205.09" stroke="#333" stroke-width="1" /><text x="41.1" y="208.69" font-size="9.9" text-anchor="end" fill="#000" style="">15</text><line x1="44.6" y1="176.4" x2="48" y2="176.4" stroke="#333" stroke-width="1" /><line x1="223.7" y1="176.4" x2="220.3" y2="176.4" stroke="#333" stroke-width="1" /><text x="41.1" y="180" font-size="9.9" text-anchor="end" fill="#000" style="">20</text><line x1="44.6" y1="305.5" x2="46.5" y2="305.5" stroke="#333" stroke-width="1" /><line x1="223.7" y1="305.5" x2="221.8" y2="305.5" stroke="#333" stroke-width="1" /><line x1="44.6" y1="276.81" x2="46.5" y2="276.81" stroke="#333" stroke-width="1" /><line x1="223.7" y1="276.81" x2="221.8" y2="276.81" stroke="#333" stroke-width="1" /><line x1="44.6" y1="248.12" x2="46.5" y2="248.12" stroke="#333" stroke-width="1" /><line x1="223.7" y1="248.12" x2="221.8" y2="248.12" stroke="#333" stroke-width="1" /><line x1="44.6" y1="219.43" x2="46.5" y2="219.43" stroke="#333" stroke-width="1" /><line x1="223.7" y1="219.43" x2="221.8" y2="219.43" stroke="#333" stroke-width="1" /><line x1="44.6" y1="190.74" x2="46.5" y2="190.74" stroke="#333" stroke-width="1" /><line x1="223.7" y1="190.74" x2="221.8" y2="190.74" stroke="#333" stroke-width="1" /><text x="134.95" y="329.5" font-size="10.8" text-anchor="middle" fill="#000" style="">Raman shift (cm<tspan font-size="7.5" dy="-4">−1</tspan><tspan dy="4">)</tspan></text><text x="19.5" y="240.95" font-size="10.8" text-anchor="middle" fill="#000" transform="rotate(-90 19.5 240.95)" style="">SERS intensity (counts, 10<tspan dx="1.6" dy="-4" font-size="7">3</tspan><tspan dy="4">)</tspan></text><rect x="64.6" y="178" width="158" height="24.8" fill="#fff" stroke="#999" stroke-width="0.7"/><line x1="66" y1="183.3" x2="78.8" y2="183.3" stroke="#555555" stroke-width="1" /><text x="80.5" y="185.4" font-size="5.8" text-anchor="start" fill="#000" style="">Cyclohexane</text><line x1="120.2" y1="183.3" x2="133" y2="183.3" stroke="#ff5a5a" stroke-width="1" /><text x="134.7" y="185.4" font-size="5.8" text-anchor="start" fill="#000" style="">MG solution</text><line x1="174.5" y1="183.3" x2="187.3" y2="183.3" stroke="#3b7ae0" stroke-width="1" /><text x="189" y="185.4" font-size="5.8" text-anchor="start" fill="#000" style="">1.0 ×10<tspan font-size="4" dy="-2.5">−11</tspan><tspan dy="2.5"> M</tspan></text><line x1="66" y1="191.3" x2="78.8" y2="191.3" stroke="#37a563" stroke-width="1" /><text x="80.5" y="193.4" font-size="5.8" text-anchor="start" fill="#000" style="">5.0 ×10<tspan font-size="4" dy="-2.5">−11</tspan><tspan dy="2.5"> M</tspan></text><line x1="120.2" y1="191.3" x2="133" y2="191.3" stroke="#b272ec" stroke-width="1" /><text x="134.7" y="193.4" font-size="5.8" text-anchor="start" fill="#000" style="">1.0 ×10<tspan font-size="4" dy="-2.5">−10</tspan><tspan dy="2.5"> M</tspan></text><line x1="174.5" y1="191.3" x2="187.3" y2="191.3" stroke="#d4a21c" stroke-width="1" /><text x="189" y="193.4" font-size="5.8" text-anchor="start" fill="#000" style="">3.0 ×10<tspan font-size="4" dy="-2.5">−10</tspan><tspan dy="2.5"> M</tspan></text><line x1="66" y1="199.2" x2="78.8" y2="199.2" stroke="#1fc7d6" stroke-width="1" /><text x="80.5" y="201.3" font-size="5.8" text-anchor="start" fill="#000" style="">5.0 ×10<tspan font-size="4" dy="-2.5">−10</tspan><tspan dy="2.5"> M</tspan></text><line x1="120.2" y1="199.2" x2="133" y2="199.2" stroke="#8e4b4b" stroke-width="1" /><text x="134.7" y="201.3" font-size="5.8" text-anchor="start" fill="#000" style="">7.5 ×10<tspan font-size="4" dy="-2.5">−10</tspan><tspan dy="2.5"> M</tspan></text><line x1="174.5" y1="199.2" x2="187.3" y2="199.2" stroke="#a3a31a" stroke-width="1" /><text x="189" y="201.3" font-size="5.8" text-anchor="start" fill="#000" style="">1.0 ×10<tspan font-size="4" dy="-2.5">−9</tspan><tspan dy="2.5"> M</tspan></text><g clip-path="url(#cp5)"><line x1="537.71" y1="300.78" x2="537.71" y2="195.76" stroke="#484848" stroke-width="0.9" stroke-dasharray="2.8,2.2" /><line x1="583.66" y1="300.78" x2="583.66" y2="195.76" stroke="#484848" stroke-width="0.9" stroke-dasharray="2.8,2.2" /><line x1="620.49" y1="300.78" x2="620.49" y2="195.76" stroke="#484848" stroke-width="0.9" stroke-dasharray="2.8,2.2" /><line x1="657.86" y1="300.78" x2="657.86" y2="195.76" stroke="#484848" stroke-width="0.9" stroke-dasharray="2.8,2.2" /><line x1="663.58" y1="300.78" x2="663.58" y2="195.76" stroke="#484848" stroke-width="0.9" stroke-dasharray="2.8,2.2" /><polyline points="499.8,293.31 500.16,293.42 500.52,293.46 500.87,293.39 501.23,293.57 501.59,293.76 501.95,293.68 502.3,293.55 502.66,293.78 503.02,293.72 503.38,293.92 503.73,293.83 504.09,293.88 504.45,293.9 504.81,293.58 505.16,293.16 505.52,293.23 505.88,293.27 506.24,293.21 506.59,293.66 506.95,293.86 507.31,294.14 507.67,294.34 508.02,294.29 508.38,294.28 508.74,294.31 509.1,294.12 509.46,293.8 509.81,293.67 510.17,293.37 510.53,293.34 510.89,293.23 511.24,293.39 511.6,293.49 511.96,293.31 512.32,293.05 512.67,292.95 513.03,292.8 513.39,292.75 513.75,293.07 514.1,293.35 514.46,293.64 514.82,293.53 515.18,293.37 515.53,292.91 515.89,292.64 516.25,291.89 516.61,291.31 516.96,289.56 517.32,278.4 517.68,253.34 517.86,248.11 518.04,253.49 518.4,278.08 518.75,289.57 519.11,291.61 519.47,291.95 519.83,292.58 520.18,292.9 520.54,292.87 520.9,292.75 521.26,292.74 521.61,292.75 521.97,292.55 522.33,292.45 522.69,292.56 523.04,292.04 523.4,291.22 523.76,289.8 524.12,287.64 524.47,285.06 524.83,283.72 525.19,285.13 525.55,287.63 525.9,289.8 526.26,290.99 526.62,292.05 526.98,292.51 527.34,292.7 527.69,292.63 528.05,292.86 528.41,292.67 528.77,292.8 529.12,293.15 529.48,293.18 529.84,293.07 530.2,293.48 530.55,293.15 530.91,293.26 531.27,293.56 531.63,293.52 531.98,293.43 532.34,293.77 532.7,293.85 533.06,293.94 533.41,294.03 533.77,294.08 534.13,293.94 534.49,293.81 534.84,293.64 535.2,293.47 535.56,293.36 535.92,293.37 536.28,293.14 536.63,293.27 536.99,293.65 537.35,293.45 537.71,293.33 538.06,293.62 538.42,293.62 538.78,293.34 539.14,293.32 539.49,293.61 539.85,293.28 540.21,292.95 540.57,293.01 540.92,293.25 541.28,293.28 541.64,293.7 542,293.66 542.35,293.82 542.71,293.67 543.07,293.58 543.43,293.18 543.78,293.32 544.14,293.26 544.5,293.44 544.86,293.12 545.22,293.32 545.57,293.2 545.93,292.64 546.29,292.02 546.65,292.33 547,292.63 547.36,292.54 547.72,292.82 548.08,293.25 548.43,293.39 548.79,293.24 549.15,293.48 549.51,293.16 549.86,292.28 550.22,290.93 550.4,290.77 550.58,290.91 550.94,291.71 551.29,292.07 551.65,292.3 552.01,292.13 552.37,292.04 552.72,292.36 553.08,292.73 553.44,292.92 553.8,292.67 554.16,292.43 554.51,291.81 554.87,291.51 555.23,290.83 555.59,290.51 555.94,289.82 556.3,289.22 556.66,287.55 557.02,286.19 557.37,284.1 557.73,281.74 558.09,279.38 558.45,278.64 558.8,279.21 559.16,281.18 559.52,283.45 559.88,285.78 560.23,287.42 560.59,288.55 560.95,289.42 561.31,290.33 561.66,290.64 562.02,290.95 562.38,291.42 562.74,291.78 563.1,292 563.45,292.26 563.81,292.51 564.17,292.85 564.53,292.94 564.88,292.73 565.24,292.65 565.6,292.65 565.96,292.55 566.31,292.55 566.67,292.78 567.03,293.02 567.39,293 567.74,293.16 568.1,293.18 568.46,293.45 568.82,293.39 569.17,293.58 569.53,293.52 569.89,293.55 570.25,293.34 570.6,293.34 570.96,293.13 571.32,293.12 571.68,293.45 572.04,293.54 572.39,293.51 572.75,293.84 573.11,293.88 573.47,293.45 573.82,293.27 574.18,293.36 574.54,293.02 574.9,292.93 575.25,293.02 575.61,293.2 575.97,293.17 576.33,293.17 576.68,292.84 577.04,292.67 577.4,292.49 577.76,292.31 578.11,292.4 578.47,292.59 578.83,292.52 579.19,291.96 579.54,291.35 579.9,290.45 580.26,289.02 580.62,287.63 580.98,286.05 581.33,284.67 581.51,284.61 581.69,285.17 582.05,286.56 582.41,288.1 582.76,289.41 583.12,290.2 583.48,290.26 583.84,289.93 584.19,289.52 584.55,288.91 584.91,288.65 585.27,289.33 585.62,290.91 585.98,291.69 586.34,292.05 586.7,292.3 587.05,292.59 587.41,292.77 587.77,293.15 588.13,293.29 588.48,293.48 588.84,293.5 589.2,293.42 589.56,293.42 589.92,293.61 590.27,293.29 590.63,293.42 590.99,293.15 591.35,292.78 591.7,292.22 592.06,291.79 592.42,291.38 592.78,291.43 593.13,291.64 593.49,292.21 593.85,292.9 594.21,293.17 594.56,293.02 594.92,293.21 595.28,293.17 595.64,292.99 595.99,292.84 596.35,292.85 596.71,292.54 597.07,292.17 597.42,291.96 597.78,291.66 598.14,291.14 598.5,290.93 598.86,290.22 599.21,289.18 599.57,288.26 599.93,286.79 600.29,284.45 600.64,282.45 601,281.72 601.36,282.4 601.72,284.21 602.07,286.22 602.43,287.89 602.79,289.08 603.15,289.93 603.5,290.87 603.86,291.37 604.22,291.77 604.58,291.94 604.93,292.1 605.29,292.25 605.65,292.28 606.01,292.29 606.36,292.2 606.72,292.33 607.08,292.09 607.44,292.38 607.8,292.42 608.15,292.46 608.51,292.52 608.87,292.8 609.23,292.64 609.58,292.66 609.94,292.47 610.3,292.01 610.66,291.38 611.01,290.02 611.37,288.19 611.73,285.69 611.91,285.35 612.09,285.69 612.44,288.19 612.8,290.21 613.16,291.7 613.52,292.19 613.87,292.4 614.23,292.6 614.59,292.49 614.95,292.2 615.3,292.26 615.66,292.18 616.02,292.53 616.38,292.72 616.74,292.86 617.09,292.87 617.45,292.86 617.81,292.42 618.17,292.04 618.52,291.57 618.88,291.04 619.24,290.76 619.6,290.46 619.95,290.13 620.31,290.27 620.67,290.84 621.03,291.05 621.38,291.17 621.74,291.63 622.1,292.01 622.46,292.18 622.81,292.44 623.17,292.73 623.53,292.74 623.89,293.03 624.24,292.68 624.6,292.68 624.96,292.71 625.32,292.59 625.68,292.29 626.03,292.46 626.39,292.31 626.75,292.38 627.11,292.39 627.46,292.33 627.82,291.96 628.18,291.65 628.54,291.32 628.89,291.06 629.25,290.83 629.61,290.61 629.97,290.08 630.32,289.02 630.68,288.05 631.04,286.7 631.4,285.22 631.75,283.39 632.11,281.31 632.47,279.7 632.83,278.62 633.18,279.05 633.54,280.47 633.9,282.23 634.26,283.11 634.62,283.93 634.97,283.8 635.33,283.2 635.69,282.8 636.05,282.84 636.4,283.85 636.76,285.28 637.12,287.05 637.48,288.39 637.83,289.57 638.19,290.26 638.55,290.96 638.91,291.37 639.26,291.59 639.62,292.07 639.98,292.42 640.34,292.5 640.69,292.56 641.05,292.69 641.41,292.48 641.77,292.39 642.12,292.37 642.48,292.63 642.84,292.59 643.2,292.67 643.56,292.58 643.91,292.88 644.27,292.88 644.63,292.83 644.99,293.14 645.34,293.13 645.7,292.88 646.06,292.99 646.42,293.33 646.77,293.11 647.13,293.48 647.49,293.87 647.85,293.56 648.2,293.48 648.56,293.47 648.92,293.54 649.28,293.41 649.63,293.49 649.99,293.69 650.35,293.98 650.71,293.72 651.06,293.49 651.42,293.36 651.78,293.32 652.14,293.19 652.5,293.16 652.85,293.35 653.21,293.49 653.57,293.46 653.93,293.67 654.28,293.98 654.64,294.21 655,294.27 655.36,294.12 655.71,293.89 656.07,293.87 656.43,293.8 656.79,293.97 657.14,293.82 657.5,293.62 657.86,293.25 658.22,293.29 658.57,293.35 658.93,293.29 659.29,293.53 659.65,293.6 660,293.47 660.36,293.26 660.72,293.44 661.08,293.41 661.44,293.41 661.79,293.45 662.15,293.15 662.51,292.66 662.87,292.19 663.22,291.55 663.4,291.07 663.58,291.35 663.94,292.36 664.3,292.96 664.65,293.28 665.01,293.81 665.37,293.7 665.73,293.48 666.08,293.28 666.44,293.15 666.8,292.88 667.16,293.13 667.51,293.24 667.87,293.35 668.23,293.3 668.59,293.22 668.94,293.3 669.3,293.16 669.66,293.05 670.02,293.15 670.38,293.15 670.73,293.08 671.09,293.09 671.45,293.03 671.81,293.07 672.16,293.1 672.52,292.93 672.88,293.16 673.24,293.24 673.59,293.53 673.95,293.74 674.31,293.88 674.67,294.07 675.02,294.24 675.38,293.97 675.74,293.84 676.1,293.95 676.45,293.51 676.81,293.37 677.17,293.51 677.53,293.5 677.88,293.34 678.24,293.52 678.6,293.61" fill="none" stroke="#4a4a4a" stroke-width="0.9" stroke-linejoin="round" /><polyline points="499.8,258.03 500.16,258.3 500.52,258.52 500.87,258.57 501.23,258.75 501.59,258.68 501.95,258.42 502.3,258.14 502.66,258.05 503.02,257.87 503.38,258.18 503.73,258.3 504.09,258.5 504.45,258.34 504.81,258.62 505.16,258.3 505.52,258.47 505.88,258.22 506.24,258.49 506.59,258.32 506.95,258.31 507.31,258.33 507.67,258.62 508.02,258.35 508.38,258.29 508.74,258.64 509.1,258.18 509.46,257.76 509.81,258.13 510.17,258.17 510.53,258.14 510.89,258.45 511.24,258.59 511.6,258.55 511.96,258.41 512.32,258.43 512.67,258.48 513.03,258.37 513.39,258.23 513.75,258.32 514.1,258.02 514.46,257.82 514.82,257.95 515.18,258.03 515.53,257.74 515.89,257.37 516.25,256.86 516.61,256.24 516.96,253.64 517.32,237.34 517.68,201.07 517.86,193.18 518.04,201.46 518.4,237.91 518.75,254.36 519.11,256.87 519.47,257.27 519.83,257.35 520.18,257.61 520.54,257.5 520.9,257.6 521.26,257.76 521.61,257.88 521.97,257.65 522.33,257.78 522.69,257.48 523.04,257.45 523.4,256.93 523.76,256.45 524.12,255.37 524.47,254.54 524.83,253.81 525.19,254.57 525.55,255.55 525.9,256.8 526.26,257.21 526.62,257.63 526.98,257.91 527.34,258.15 527.69,257.84 528.05,257.91 528.41,257.62 528.77,257.72 529.12,257.54 529.48,257.85 529.84,258.01 530.2,258.12 530.55,257.78 530.91,258.22 531.27,258.28 531.63,258.01 531.98,258.2 532.34,258.52 532.7,258.52 533.06,258.62 533.41,258.68 533.77,258.37 534.13,258 534.49,257.75 534.84,257.73 535.2,257.84 535.56,257.88 535.92,257.9 536.28,257.74 536.63,257.5 536.99,257.2 537.35,257.05 537.71,256.78 538.06,256.65 538.24,256.26 538.42,256.13 538.78,256.59 539.14,257.12 539.49,257.12 539.85,257.64 540.21,257.75 540.57,257.68 540.92,257.55 541.28,257.68 541.64,257.74 542,258.07 542.35,258.21 542.71,258.23 543.07,258.25 543.43,258.29 543.78,258.01 544.14,257.93 544.5,258.14 544.86,258.26 545.22,257.86 545.57,258.01 545.93,257.91 546.29,257.58 546.65,257.32 547,257.42 547.36,257.47 547.72,257.48 548.08,257.47 548.43,257.54 548.79,257.61 549.15,257.62 549.51,257.7 549.86,257.75 550.22,257.83 550.58,258.06 550.94,257.86 551.29,257.56 551.65,257.48 552.01,257.26 552.37,256.77 552.72,256.77 553.08,256.73 553.44,256.81 553.8,257.04 554.16,257.12 554.51,257 554.87,256.65 555.23,256.14 555.59,255.44 555.94,254.67 556.3,253.86 556.66,252.81 557.02,251.08 557.37,248.79 557.73,246.03 558.09,243.08 558.45,241.93 558.8,243.19 559.16,246.13 559.52,249.13 559.88,251.53 560.23,253.09 560.59,254.29 560.95,254.93 561.31,255.18 561.66,255.64 562.02,256.32 562.38,256.73 562.74,257.06 563.1,257.59 563.45,257.59 563.81,257.56 564.17,257.78 564.53,257.91 564.88,257.62 565.24,257.99 565.6,258.03 565.96,258.06 566.31,258.15 566.67,258.42 567.03,258.35 567.39,258.11 567.74,258.03 568.1,257.81 568.46,257.96 568.82,257.85 569.17,258.01 569.53,257.86 569.89,258.08 570.25,257.95 570.6,257.77 570.96,257.67 571.32,257.96 571.68,257.83 572.04,257.69 572.39,257.9 572.75,257.97 573.11,257.76 573.47,257.55 573.82,257.65 574.18,257.5 574.54,257.64 574.9,257.6 575.25,257.89 575.61,257.89 575.97,258.02 576.33,258.01 576.68,258.25 577.04,258.25 577.4,258.17 577.76,258.15 578.11,258.17 578.47,257.73 578.83,257.52 579.19,257.09 579.54,256.56 579.9,255.85 580.26,254.95 580.62,253.3 580.98,251.61 581.33,249.93 581.51,249.46 581.69,249.77 582.05,251.7 582.41,253.32 582.76,254.38 583.12,255.02 583.48,255.48 583.84,255.39 584.19,254.99 584.55,254.13 584.91,253.78 585.27,254.18 585.62,255.39 585.98,256.35 586.34,256.98 586.7,257.07 587.05,257.43 587.41,257.64 587.77,257.45 588.13,257.23 588.48,257.34 588.84,257.44 589.2,257.13 589.56,257.36 589.92,257.68 590.27,257.6 590.63,257.28 590.99,257.38 591.35,256.87 591.7,256.54 592.06,256.21 592.42,255.84 592.78,255.44 593.13,256.17 593.49,256.57 593.85,257.14 594.21,257.41 594.56,257.6 594.92,257.64 595.28,257.62 595.64,257.48 595.99,257.49 596.35,257.19 596.71,256.99 597.07,257.05 597.42,256.9 597.78,256.38 598.14,255.98 598.5,255.52 598.86,254.75 599.21,253.79 599.57,252.34 599.93,250.39 600.29,247.49 600.64,244.36 601,242.71 601.36,244.41 601.72,247.35 602.07,250.26 602.43,252.24 602.79,253.72 603.15,254.38 603.5,255.18 603.86,255.7 604.22,256.26 604.58,256.56 604.93,256.85 605.29,256.93 605.65,257.18 606.01,257.43 606.36,257.73 606.72,258.1 607.08,258.5 607.44,258.57 607.8,258.49 608.15,258.47 608.51,258.15 608.87,257.83 609.23,257.28 609.58,256.79 609.94,256.26 610.3,255.74 610.66,255.36 611.01,254.52 611.37,252.48 611.73,250.12 611.91,249.98 612.09,250.12 612.44,252.51 612.8,254.75 613.16,256.01 613.52,256.65 613.87,257.35 614.23,257.49 614.59,257.44 614.95,257.21 615.3,257 615.66,256.62 616.02,256.72 616.38,256.99 616.74,256.95 617.09,256.93 617.45,256.91 617.81,256.86 618.17,256.61 618.52,256.44 618.88,255.89 619.24,255.25 619.6,254.4 619.95,254.14 620.31,254.39 620.67,254.82 621.03,255.3 621.38,255.92 621.74,256.37 622.1,256.53 622.46,256.89 622.81,257.33 623.17,257.56 623.53,257.54 623.89,257.6 624.24,257.82 624.6,257.75 624.96,257.42 625.32,257.24 625.68,257.39 626.03,257.22 626.39,257.38 626.75,257.42 627.11,257.4 627.46,257.35 627.82,257.18 628.18,256.81 628.54,256.72 628.89,256.64 629.25,256.34 629.61,256.13 629.97,255.58 630.32,255.25 630.68,254.66 631.04,253.95 631.4,253.32 631.75,252.84 632.11,252.2 632.47,251.77 632.83,251.63 633.18,251.74 633.54,252 633.9,252.67 634.26,253.43 634.62,254.02 634.97,254.64 635.33,255.38 635.69,255.66 636.05,256.16 636.4,256.46 636.76,256.85 637.12,257.18 637.48,257.28 637.83,257 638.19,257.12 638.55,257.19 638.91,257.19 639.26,257.52 639.62,257.65 639.98,257.92 640.34,257.96 640.69,257.91 641.05,257.78 641.41,257.94 641.77,257.85 642.12,257.52 642.48,257.63 642.84,257.51 643.2,257.63 643.56,257.65 643.91,257.95 644.27,257.85 644.63,257.95 644.99,258.04 645.34,258.02 645.7,257.86 646.06,257.97 646.42,258.02 646.77,257.85 647.13,257.77 647.49,257.95 647.85,258.05 648.2,258.36 648.56,258.24 648.92,258.21 649.28,258.2 649.63,257.89 649.99,257.48 650.35,257.83 650.71,257.81 651.06,257.8 651.42,258.12 651.78,258.42 652.14,258.3 652.5,258.68 652.85,258.85 653.21,258.95 653.57,258.93 653.93,259.05 654.28,259.02 654.64,258.65 655,258.53 655.36,258.44 655.71,258.23 656.07,257.85 656.43,258.17 656.79,258.25 657.14,258.07 657.5,257.92 657.86,257.92 658.22,257.74 658.57,257.67 658.93,257.98 659.29,257.97 659.65,258.03 660,258.01 660.36,257.78 660.72,257.72 661.08,257.85 661.44,257.71 661.79,257.81 662.15,257.7 662.51,257.4 662.87,256.67 663.22,255.99 663.4,255.6 663.58,255.82 663.94,256.61 664.3,257.36 664.65,257.93 665.01,258.24 665.37,258.52 665.73,258.17 666.08,258.2 666.44,258.14 666.8,257.96 667.16,257.59 667.51,257.78 667.87,257.78 668.23,257.65 668.59,257.88 668.94,257.89 669.3,258.14 669.66,258.03 670.02,258.18 670.38,258.07 670.73,258.03 671.09,257.94 671.45,258.12 671.81,258 672.16,257.94 672.52,258.16 672.88,257.9 673.24,257.77 673.59,257.74 673.95,257.79 674.31,257.87 674.67,258.1 675.02,258.38 675.38,258.73 675.74,259.02 676.1,258.73 676.45,258.8 676.81,258.56 677.17,258.55 677.53,258.12 677.88,258.33 678.24,258.13 678.6,258.17" fill="none" stroke="#ff4a4a" stroke-width="0.9" stroke-linejoin="round" /><polyline points="499.8,222.76 500.16,222.58 500.52,222.79 500.87,222.8 501.23,223.05 501.59,223.27 501.95,223.32 502.3,223.35 502.66,223.2 503.02,223.17 503.38,223.14 503.73,223.28 504.09,222.94 504.45,222.9 504.81,223 505.16,223 505.52,223.14 505.88,223.12 506.24,223.02 506.59,222.64 506.95,222.38 507.31,222.1 507.67,222.06 508.02,222.06 508.38,222.31 508.74,222.3 509.1,222.42 509.46,222.5 509.81,222.6 510.17,222.52 510.53,222.74 510.89,222.76 511.24,222.95 511.6,223.15 511.96,222.95 512.32,222.73 512.67,222.45 513.03,222.25 513.39,222.02 513.75,222.02 514.1,222.28 514.46,222.37 514.82,222.42 515.18,222.5 515.53,222.62 515.89,222.24 516.25,222.16 516.61,221.6 516.96,217.24 517.32,186.17 517.68,116.92 517.86,101.45 518.04,116.91 518.4,186.5 518.75,217.55 519.11,221.58 519.47,222.31 519.83,222.37 520.18,222.2 520.54,222.21 520.9,222.1 521.26,221.72 521.61,222 521.97,222.35 522.33,222.07 522.69,221.87 523.04,221.78 523.4,221.36 523.76,220.64 524.12,219.68 524.47,218.48 524.83,217.75 525.19,218.39 525.55,219.38 525.9,220.56 526.26,221.25 526.62,221.95 526.98,221.84 527.34,222.12 527.69,222.07 528.05,222.4 528.41,222.23 528.77,222.46 529.12,222.5 529.48,222.7 529.84,222.48 530.2,222.63 530.55,222.78 530.91,222.99 531.27,222.84 531.63,223.14 531.98,223.2 532.34,223.31 532.7,223.08 533.06,223.14 533.41,222.93 533.77,223.01 534.13,222.83 534.49,222.96 534.84,223.16 535.2,223.4 535.56,222.91 535.92,223.02 536.28,222.98 536.63,222.8 536.99,222.38 537.35,222.62 537.71,222.21 538.06,221.97 538.24,221.67 538.42,221.98 538.78,222.06 539.14,222.3 539.49,222.2 539.85,222.49 540.21,222.36 540.57,222.26 540.92,222.4 541.28,222.87 541.64,222.89 542,222.7 542.35,222.68 542.71,222.7 543.07,222.4 543.43,222.23 543.78,222.54 544.14,222.61 544.5,222.56 544.86,222.76 545.22,223.02 545.57,223.04 545.93,223.15 546.29,223.29 546.65,223.2 547,223.28 547.36,223.01 547.72,222.88 548.08,222.87 548.43,222.68 548.79,222.61 549.15,222.71 549.51,222.71 549.86,222.52 550.22,222.71 550.58,222.56 550.94,222.67 551.29,222.47 551.65,222.51 552.01,222.19 552.37,222.21 552.72,222.03 553.08,222.13 553.44,222.03 553.8,222.18 554.16,221.89 554.51,221.56 554.87,220.98 555.23,220.08 555.59,219.54 555.94,218.67 556.3,217.73 556.66,216.26 557.02,214.47 557.37,211.21 557.73,207.64 558.09,204.22 558.45,203.08 558.8,204.63 559.16,208.07 559.52,211.81 559.88,214.51 560.23,216.44 560.59,217.9 560.95,219.01 561.31,219.77 561.66,220.24 562.02,220.55 562.38,220.61 562.74,221.01 563.1,220.9 563.45,221.2 563.81,221.39 564.17,221.66 564.53,221.61 564.88,221.7 565.24,221.92 565.6,222.19 565.96,222.28 566.31,222.34 566.67,222.55 567.03,222.5 567.39,222.14 567.74,222.28 568.1,222.65 568.46,222.89 568.82,223.04 569.17,223.16 569.53,223.27 569.89,222.98 570.25,222.61 570.6,222.16 570.96,222.13 571.32,221.98 571.68,222.03 572.04,222.05 572.39,222.19 572.75,222.43 573.11,222.27 573.47,222.51 573.82,222.75 574.18,222.61 574.54,222.52 574.9,222.74 575.25,222.41 575.61,222.32 575.97,222.77 576.33,222.95 576.68,222.92 577.04,223.09 577.4,222.8 577.76,222.61 578.11,222.13 578.47,221.72 578.83,221.5 579.19,221.22 579.54,220.6 579.9,220.2 580.26,219.58 580.62,218.13 580.98,216.09 581.33,214.19 581.51,213.99 581.69,214.27 582.05,216.27 582.41,218.69 582.76,220.1 583.12,221.08 583.48,221.44 583.84,221.95 584.19,222.25 584.55,222.42 584.91,222.42 585.27,222.49 585.62,222.41 585.98,222.27 586.34,222.2 586.7,222.27 587.05,222.37 587.41,222.32 587.77,222.38 588.13,222.33 588.48,222.43 588.84,222.38 589.2,222.63 589.56,222.43 589.92,222.81 590.27,222.8 590.63,222.97 590.99,222.59 591.35,222.86 591.7,222.69 592.06,222.42 592.42,222.52 592.78,222.69 593.13,222.79 593.49,222.78 593.85,222.68 594.21,222.6 594.56,222.7 594.92,222.64 595.28,222.46 595.64,222.55 595.99,222.19 596.35,221.84 596.71,221.68 597.07,221.42 597.42,220.97 597.78,220.74 598.14,220.32 598.5,219.54 598.86,218.92 599.21,218.01 599.57,216.6 599.93,214.64 600.29,211.84 600.64,208.53 601,206.97 601.36,208.81 601.72,211.94 602.07,214.78 602.43,217.11 602.79,218.54 603.15,219.18 603.5,220.02 603.86,220.43 604.22,220.8 604.58,221.17 604.93,221.6 605.29,221.5 605.65,221.8 606.01,221.69 606.36,221.89 606.72,221.83 607.08,221.89 607.44,221.82 607.8,222.13 608.15,222.28 608.51,222.39 608.87,222.63 609.23,222.56 609.58,222.36 609.94,221.89 610.3,221.83 610.66,221.7 611.01,221.58 611.37,221.16 611.73,221.06 611.91,221.07 612.09,221.3 612.44,221.96 612.8,222.61 613.16,222.45 613.52,222.6 613.87,222.32 614.23,222.39 614.59,222.47 614.95,222.49 615.3,222.56 615.66,222.96 616.02,223.05 616.38,223.12 616.74,223.4 617.09,223.34 617.45,223.32 617.81,223.37 618.17,223.06 618.52,223.22 618.88,223.2 619.24,223 619.6,222.58 619.95,222.59 620.31,222.27 620.67,222.03 621.03,221.91 621.38,221.91 621.74,222.12 622.1,222.41 622.46,222.43 622.81,222.53 623.17,222.66 623.53,222.33 623.89,222.23 624.24,222.15 624.6,222.15 624.96,222.14 625.32,222.33 625.68,222.21 626.03,222.19 626.39,222.04 626.75,221.7 627.11,221.55 627.46,221.2 627.82,221.24 628.18,220.98 628.54,221.07 628.89,220.47 629.25,219.95 629.61,219.37 629.97,218.65 630.32,217.8 630.68,216.99 631.04,216.01 631.4,214.16 631.75,212.38 632.11,209.88 632.47,207.85 632.83,206.85 633.18,207.28 633.54,208.81 633.9,210.88 634.26,212.64 634.62,214.02 634.97,214.62 635.33,214.97 635.69,215.21 636.05,215.35 636.4,215.72 636.76,216.98 637.12,217.88 637.48,218.78 637.83,219.87 638.19,220.57 638.55,221.1 638.91,221.56 639.26,221.46 639.62,221.67 639.98,221.92 640.34,221.82 640.69,221.65 641.05,222.13 641.41,221.87 641.77,221.85 642.12,221.96 642.48,221.92 642.84,221.64 643.2,221.74 643.56,221.68 643.91,221.77 644.27,221.97 644.63,221.98 644.99,221.99 645.34,222.18 645.7,222.41 646.06,222.29 646.42,222.51 646.77,222.59 647.13,222.62 647.49,222.34 647.85,222.49 648.2,222.22 648.56,222.1 648.92,221.91 649.28,221.73 649.63,221.64 649.99,221.69 650.35,221.52 650.71,221.35 651.06,221.29 651.42,221.03 651.78,221 652.14,221.12 652.5,221.43 652.85,221.76 653.21,222.08 653.57,222.21 653.93,222.15 654.28,222.31 654.64,222.34 655,222.27 655.36,222.35 655.71,222.43 656.07,222.42 656.43,222.26 656.79,222.43 657.14,222.41 657.5,222.81 657.86,222.71 658.22,222.71 658.57,222.58 658.93,222.59 659.29,222.43 659.65,222.6 660,222.65 660.36,222.78 660.72,222.69 661.08,222.57 661.44,222.35 661.79,222.19 662.15,222.2 662.51,221.85 662.87,221.66 663.22,220.86 663.4,220.9 663.58,220.85 663.94,221.4 664.3,221.65 664.65,222.12 665.01,222.52 665.37,222.44 665.73,222.64 666.08,222.81 666.44,223.02 666.8,222.87 667.16,222.82 667.51,222.73 667.87,222.63 668.23,222.68 668.59,222.49 668.94,222.84 669.3,222.91 669.66,222.9 670.02,222.47 670.38,222.79 670.73,222.52 671.09,222.52 671.45,222.76 671.81,222.95 672.16,222.88 672.52,222.93 672.88,222.82 673.24,222.51 673.59,222.55 673.95,222.4 674.31,222.62 674.67,222.85 675.02,223.11 675.38,223.01 675.74,223.26 676.1,223.13 676.45,223.27 676.81,223.06 677.17,223.37 677.53,223.39 677.88,223.35 678.24,223.28 678.6,223.48" fill="none" stroke="#3b7ae0" stroke-width="0.9" stroke-linejoin="round" /></g><rect x="524.4" y="178.2" width="153" height="11.6" fill="#fff" stroke="#777" stroke-width="0.7"/><line x1="525.7" y1="184" x2="543" y2="184" stroke="#4a4a4a" stroke-width="1" /><text x="545" y="186.9" font-size="8.2" text-anchor="start" fill="#000" style="">10.0 μL</text><line x1="580" y1="184" x2="597.6" y2="184" stroke="#ff4a4a" stroke-width="1" /><text x="600.4" y="186.9" font-size="8.2" text-anchor="start" fill="#000" style="">1.0 μL</text><line x1="630" y1="184" x2="648" y2="184" stroke="#3b7ae0" stroke-width="1" /><text x="650.5" y="186.9" font-size="8.2" text-anchor="start" fill="#000" style="">0.25 μL</text><rect x="499.8" y="175.7" width="178.8" height="129.8" fill="none" stroke="#555" stroke-width="1"/><line x1="517.68" y1="305.5" x2="517.68" y2="302.1" stroke="#555" stroke-width="1" /><text x="517.68" y="316.7" font-size="9.9" text-anchor="middle" fill="#000" style="">800</text><line x1="553.44" y1="305.5" x2="553.44" y2="302.1" stroke="#555" stroke-width="1" /><text x="553.44" y="316.7" font-size="9.9" text-anchor="middle" fill="#000" style="">1000</text><line x1="589.2" y1="305.5" x2="589.2" y2="302.1" stroke="#555" stroke-width="1" /><text x="589.2" y="316.7" font-size="9.9" text-anchor="middle" fill="#000" style="">1200</text><line x1="624.96" y1="305.5" x2="624.96" y2="302.1" stroke="#555" stroke-width="1" /><text x="624.96" y="316.7" font-size="9.9" text-anchor="middle" fill="#000" style="">1400</text><line x1="660.72" y1="305.5" x2="660.72" y2="302.1" stroke="#555" stroke-width="1" /><text x="660.72" y="316.7" font-size="9.9" text-anchor="middle" fill="#000" style="">1600</text><line x1="499.8" y1="305.5" x2="499.8" y2="303.6" stroke="#555" stroke-width="1" /><line x1="535.56" y1="305.5" x2="535.56" y2="303.6" stroke="#555" stroke-width="1" /><line x1="571.32" y1="305.5" x2="571.32" y2="303.6" stroke="#555" stroke-width="1" /><line x1="607.08" y1="305.5" x2="607.08" y2="303.6" stroke="#555" stroke-width="1" /><line x1="642.84" y1="305.5" x2="642.84" y2="303.6" stroke="#555" stroke-width="1" /><line x1="678.6" y1="305.5" x2="678.6" y2="303.6" stroke="#555" stroke-width="1" /><line x1="499.8" y1="293.7" x2="503.2" y2="293.7" stroke="#555" stroke-width="1" /><text x="496.3" y="297.3" font-size="9.9" text-anchor="end" fill="#000" style="">0</text><line x1="499.8" y1="270.1" x2="503.2" y2="270.1" stroke="#555" stroke-width="1" /><text x="496.3" y="273.7" font-size="9.9" text-anchor="end" fill="#000" style="">2</text><line x1="499.8" y1="246.5" x2="503.2" y2="246.5" stroke="#555" stroke-width="1" /><text x="496.3" y="250.1" font-size="9.9" text-anchor="end" fill="#000" style="">4</text><line x1="499.8" y1="222.9" x2="503.2" y2="222.9" stroke="#555" stroke-width="1" /><text x="496.3" y="226.5" font-size="9.9" text-anchor="end" fill="#000" style="">6</text><line x1="499.8" y1="199.3" x2="503.2" y2="199.3" stroke="#555" stroke-width="1" /><text x="496.3" y="202.9" font-size="9.9" text-anchor="end" fill="#000" style="">8</text><line x1="499.8" y1="175.7" x2="503.2" y2="175.7" stroke="#555" stroke-width="1" /><text x="496.3" y="179.3" font-size="9.9" text-anchor="end" fill="#000" style="">10</text><line x1="499.8" y1="305.5" x2="501.7" y2="305.5" stroke="#555" stroke-width="1" /><line x1="499.8" y1="281.9" x2="501.7" y2="281.9" stroke="#555" stroke-width="1" /><line x1="499.8" y1="258.3" x2="501.7" y2="258.3" stroke="#555" stroke-width="1" /><line x1="499.8" y1="234.7" x2="501.7" y2="234.7" stroke="#555" stroke-width="1" /><line x1="499.8" y1="211.1" x2="501.7" y2="211.1" stroke="#555" stroke-width="1" /><line x1="499.8" y1="187.5" x2="501.7" y2="187.5" stroke="#555" stroke-width="1" /><text x="590" y="329.5" font-size="10.8" text-anchor="middle" fill="#000" style="">Raman shift (cm<tspan font-size="7.5" dy="-4">−1</tspan><tspan dy="4">)</tspan></text><text x="478.5" y="240.6" font-size="10.8" text-anchor="middle" fill="#000" transform="rotate(-90 478.5 240.6)" style="">SERS Intensity (counts, 10<tspan dx="1.6" dy="-4" font-size="7">3</tspan><tspan dy="4">)</tspan></text><g clip-path="url(#cp6)"><line x1="81.77" y1="462.78" x2="81.77" y2="405.8" stroke="#484848" stroke-width="1.1" stroke-dasharray="3.6,2.3" /><line x1="128.51" y1="462.78" x2="128.51" y2="411.18" stroke="#484848" stroke-width="1.1" stroke-dasharray="3.6,2.3" /><line x1="165.23" y1="462.78" x2="165.23" y2="411.18" stroke="#484848" stroke-width="1.1" stroke-dasharray="3.6,2.3" /><line x1="201.41" y1="462.78" x2="201.41" y2="411.18" stroke="#484848" stroke-width="1.1" stroke-dasharray="3.6,2.3" /><line x1="208.39" y1="462.78" x2="208.39" y2="411.18" stroke="#484848" stroke-width="1.1" stroke-dasharray="3.6,2.3" /><polyline points="43.8,456.5 44.16,456.51 44.52,456.6 44.87,456.38 45.23,456.34 45.59,456.38 45.95,456.37 46.31,456.36 46.67,456.63 47.02,456.78 47.38,456.76 47.74,456.9 48.1,456.71 48.46,456.63 48.81,456.67 49.17,456.86 49.53,456.53 49.89,456.55 50.25,456.33 50.61,456.19 50.96,456.19 51.32,456.41 51.68,456.49 52.04,456.75 52.4,456.63 52.75,456.5 53.11,456.56 53.47,456.44 53.83,456.43 54.19,456.42 54.55,456.38 54.9,456.23 55.26,456.38 55.62,456.23 55.98,456.47 56.34,456.58 56.7,456.44 57.05,456.44 57.41,456.29 57.77,456.22 58.13,455.83 58.49,455.72 58.84,455.41 59.2,455.24 59.56,454.87 59.92,454.6 60.28,454.36 60.64,453.53 60.99,441.23 61.35,270.15 61.71,-273.17 61.89,-410.23 62.07,-273.41 62.43,270 62.78,441.13 63.14,453.59 63.5,454.47 63.86,454.99 64.22,455.45 64.58,455.81 64.93,455.87 65.29,456 65.65,456.06 66.01,455.98 66.37,455.88 66.72,455.92 67.08,456.22 67.44,456.21 67.8,456.21 68.16,456.21 68.52,456.42 68.87,456.46 69.23,456.56 69.59,456.44 69.95,456.55 70.31,456.41 70.66,456.37 71.02,456.46 71.38,456.76 71.74,456.61 72.1,456.55 72.46,456.53 72.81,456.33 73.17,456.12 73.53,456.1 73.89,456.03 74.25,456.02 74.61,455.92 74.96,455.82 75.32,455.93 75.68,455.95 76.04,455.92 76.4,456.14 76.75,456.38 77.11,456.28 77.47,456.53 77.83,456.67 78.19,456.52 78.55,456.34 78.9,456.47 79.26,456.24 79.62,456.24 79.98,456.43 80.34,456.59 80.69,456.61 81.05,456.83 81.41,456.82 81.77,456.79 82.13,456.58 82.49,456.38 82.84,456.18 83.2,456.03 83.56,456.05 83.92,456.03 84.28,456.18 84.63,456.18 84.99,456.32 85.35,456.33 85.71,456.36 86.07,456.26 86.43,456.19 86.78,455.99 87.14,455.9 87.5,455.97 87.86,455.94 88.22,456.12 88.58,456.13 88.93,456.16 89.29,456.07 89.65,456.34 90.01,456.18 90.37,456.01 90.72,456.06 91.08,456.09 91.44,455.83 91.8,455.72 92.16,455.8 92.52,455.66 92.87,455.65 93.23,455.46 93.59,455.35 93.95,455.4 94.31,455.33 94.66,455.29 95.02,455.45 95.38,455.41 95.74,455.19 96.1,454.68 96.46,454.23 96.81,453.94 97.17,453.67 97.53,453.4 97.89,453.36 98.25,453.35 98.6,453.14 98.96,453.01 99.32,452.6 99.68,451.95 100.04,450.97 100.4,449.73 100.75,447.63 101.11,444.57 101.47,440.25 101.83,434.23 102.19,427.82 102.54,424.83 102.9,428.26 103.26,434.77 103.62,441 103.98,445.14 104.34,448.21 104.69,450.02 105.05,451.59 105.41,452.64 105.77,453.49 106.13,454.02 106.48,454.38 106.84,454.72 107.2,454.82 107.56,454.98 107.92,454.93 108.28,455.36 108.63,455.37 108.99,455.47 109.35,455.49 109.71,455.56 110.07,455.55 110.43,455.57 110.78,455.62 111.14,455.72 111.5,456.07 111.86,455.92 112.22,455.86 112.57,455.94 112.93,456.05 113.29,455.75 113.65,456.01 114.01,456.33 114.37,456.44 114.72,456.28 115.08,456.37 115.44,456.26 115.8,456.08 116.16,456.1 116.51,456.16 116.87,456.27 117.23,456.24 117.59,456.32 117.95,456.18 118.31,456.32 118.66,456.45 119.02,456.46 119.38,456.49 119.74,456.37 120.1,456.14 120.45,455.87 120.81,455.82 121.17,455.77 121.53,455.82 121.89,455.84 122.25,455.76 122.6,455.43 122.96,455.27 123.32,454.93 123.68,454.48 124.04,453.74 124.4,452.61 124.75,450.44 125.11,447.33 125.47,443.99 125.65,443.42 125.83,444.01 126.19,447.29 126.54,450.32 126.9,452.42 127.26,453.48 127.62,454.35 127.98,454.82 128.34,455.07 128.69,455.03 129.05,455.15 129.41,455.39 129.77,455.57 130.13,455.8 130.48,456.04 130.84,456.36 131.2,456.19 131.56,456.28 131.92,456.29 132.28,456.1 132.63,455.89 132.99,455.91 133.35,455.89 133.71,455.64 134.07,455.69 134.42,455.84 134.78,455.85 135.14,455.61 135.5,455.65 135.86,455.73 136.22,455.39 136.57,455.29 136.93,455.3 137.29,455.1 137.65,454.96 138.01,454.84 138.36,454.63 138.72,454.21 139.08,454.06 139.44,453.61 139.8,453.15 140.16,452.73 140.51,452.55 140.87,452.29 141.23,452.24 141.59,452.42 141.95,452.28 142.31,452 142.66,451.56 143.02,450.36 143.38,448.91 143.74,446.44 144.1,442.71 144.45,437.66 144.81,432.7 145.17,430.02 145.53,432.92 145.89,438.43 146.25,443.43 146.6,447 146.96,449.66 147.32,451.17 147.68,452.53 148.04,453.5 148.39,454.04 148.75,454.2 149.11,454.61 149.47,454.88 149.83,454.93 150.19,454.98 150.54,455.25 150.9,455.48 151.26,455.57 151.62,455.78 151.98,455.95 152.33,456.11 152.69,455.9 153.05,455.72 153.41,455.57 153.77,455.49 154.13,455.58 154.48,455.68 154.84,455.95 155.2,455.97 155.56,456.01 155.92,455.75 156.27,455.88 156.63,455.86 156.99,455.86 157.35,455.86 157.71,455.85 158.07,455.67 158.42,455.32 158.78,455.38 159.14,455.4 159.5,455.43 159.68,455.49 159.86,455.55 160.22,455.43 160.57,455.6 160.93,455.8 161.29,455.83 161.65,455.9 162.01,456.2 162.36,456.18 162.72,456.22 163.08,456.41 163.44,456.5 163.8,456.34 164.16,456.21 164.51,456.18 164.87,456.15 165.23,455.99 165.59,456.03 165.95,456.1 166.3,455.9 166.66,455.66 167.02,455.77 167.38,455.89 167.74,455.7 168.1,455.82 168.45,455.99 168.81,455.98 169.17,455.74 169.53,455.71 169.89,455.61 170.24,455.23 170.6,455 170.96,454.91 171.32,454.57 171.68,454.05 172.04,453.64 172.39,453.23 172.75,452.9 173.11,452.64 173.47,452.32 173.83,452.06 174.18,451.42 174.54,450.33 174.9,449.25 175.26,447.48 175.62,444.82 175.98,441.39 176.33,437.38 176.69,433.22 177.05,431.49 177.41,433.5 177.77,437.75 178.12,441.94 178.48,445.55 178.84,448.05 179.2,449.94 179.56,451.23 179.92,452.37 180.27,452.81 180.63,453.5 180.99,453.85 181.35,454.24 181.71,454.27 182.07,454.71 182.42,455.06 182.78,455.34 183.14,455.66 183.5,455.88 183.86,455.82 184.21,455.8 184.57,455.97 184.93,456.08 185.29,456.17 185.65,456.3 186.01,456.46 186.36,456.31 186.72,456.28 187.08,456.42 187.44,456.33 187.8,456.18 188.15,456.12 188.51,456.04 188.87,456.05 189.23,456.3 189.59,456.35 189.95,456.46 190.3,456.38 190.66,456.18 191.02,456.05 191.38,456.12 191.74,456.2 192.09,456.34 192.45,456.44 192.81,456.58 193.17,456.49 193.53,456.49 193.89,456.61 194.24,456.5 194.6,456.4 194.96,456.31 195.32,456.22 195.68,455.99 196.04,455.94 196.39,456.01 196.75,456.16 197.11,456.41 197.47,456.44 197.83,456.59 198.18,456.52 198.54,456.32 198.9,456.25 199.26,456.41 199.62,456.36 199.98,456.28 200.33,456.46 200.69,456.51 201.05,456.46 201.41,456.43 201.77,456.54 202.12,456.55 202.48,456.44 202.84,456.35 203.2,456.43 203.56,456.37 203.92,456.23 204.27,456.11 204.63,456.2 204.99,456.32 205.35,456.29 205.71,456.32 206.06,456.26 206.42,456.32 206.78,456.11 207.14,456.08 207.5,456.33 207.86,456.54 208.21,456.39 208.57,456.63 208.93,456.66 209.29,456.59 209.65,456.46 210,456.58 210.36,456.56 210.72,456.77 211.08,456.69 211.44,456.68 211.8,456.71 212.15,456.55 212.51,456.51 212.87,456.46 213.23,456.58 213.59,456.59 213.94,456.77 214.3,456.87 214.66,456.85 215.02,456.84 215.38,456.86 215.74,456.61 216.09,456.41 216.45,456.64 216.81,456.53 217.17,456.37 217.53,456.52 217.89,456.58 218.24,456.25 218.6,456.37 218.96,456.36 219.32,456.29 219.68,456.34 220.03,456.55 220.39,456.42 220.75,456.42 221.11,456.49 221.47,456.44 221.83,456.48 222.18,456.47 222.54,456.51 222.9,456.49" fill="none" stroke="#4a4a4a" stroke-width="0.9" stroke-linejoin="round" /><polyline points="43.8,427.96 44.16,427.55 44.52,427.72 44.87,428.15 45.23,427.88 45.59,427.71 45.95,427.76 46.31,427.73 46.67,427.29 47.02,427.45 47.38,427.31 47.74,427.28 48.1,427.03 48.46,427.03 48.81,426.82 49.17,427.08 49.53,427.08 49.89,427.11 50.25,427.39 50.61,427.62 50.96,427.15 51.32,427.24 51.68,426.98 52.04,426.64 52.4,426.1 52.75,426.06 53.11,425.75 53.47,425.61 53.83,425.52 54.19,425.21 54.55,425.2 54.9,425.26 55.26,425.37 55.62,425.49 55.98,426.19 56.34,426.13 56.7,426.32 57.05,426.81 57.41,427.16 57.77,426.96 58.13,427.34 58.49,427.14 58.84,426.86 59.2,426.44 59.56,426.24 59.92,425.53 60.28,424.96 60.64,424.03 60.99,411.66 61.35,240.13 61.71,-303.1 61.89,-439.76 62.07,-303.05 62.43,240.35 62.78,411.75 63.14,424.09 63.5,425.41 63.86,425.77 64.22,426.21 64.58,426.62 64.93,426.89 65.29,426.61 65.65,426.75 66.01,426.76 66.37,426.84 66.72,427.06 67.08,427.12 67.44,427.56 67.8,427.57 68.16,427.62 68.52,427.52 68.87,427.82 69.23,427.82 69.59,428.1 69.95,428.01 70.31,427.78 70.66,427.64 71.02,427.64 71.38,427.3 71.74,427.56 72.1,427.76 72.46,427.67 72.81,427.3 73.17,427.41 73.53,427 73.89,426.96 74.25,427.11 74.61,427.28 74.96,427 75.32,427.05 75.68,427.05 76.04,426.94 76.4,426.9 76.75,427.21 77.11,427.17 77.47,426.97 77.83,427.01 78.19,426.82 78.55,426.95 78.9,427.05 79.26,427.08 79.62,427.13 79.98,427.4 80.34,426.87 80.69,426.65 81.05,426.46 81.41,426.07 81.77,424.98 82.13,424.59 82.31,424.67 82.49,424.78 82.84,425.22 83.2,425.94 83.56,426.56 83.92,426.84 84.28,427.15 84.63,427.2 84.99,427.65 85.35,427.64 85.71,427.46 86.07,427.07 86.43,426.91 86.78,427.01 87.14,427 87.5,426.94 87.86,427.39 88.22,427.71 88.58,427.46 88.93,427.44 89.29,427.47 89.65,427.08 90.01,426.91 90.37,426.99 90.72,427.02 91.08,427.2 91.44,427.46 91.8,427.26 92.16,427.18 92.52,426.67 92.87,426.25 93.23,425.94 93.59,425.58 93.95,424.72 94.31,424.38 94.66,423.78 94.84,423.63 95.02,423.49 95.38,424.15 95.74,424.25 96.1,424.14 96.46,423.53 96.81,423.23 97.17,422.11 97.53,421.78 97.89,422.33 98.25,422.81 98.6,422.71 98.96,422.8 99.32,422.14 99.68,421.08 100.04,420.06 100.4,418.04 100.75,414.59 101.11,410.05 101.47,403.61 101.83,394.2 102.19,384.55 102.54,380.2 102.9,385.09 103.26,395.03 103.62,404.15 103.98,410.78 104.34,415.03 104.69,417.82 105.05,419.53 105.41,421.38 105.77,422.54 106.13,423.27 106.48,423.93 106.84,424.73 107.2,424.89 107.56,425.31 107.92,425.94 108.28,426.52 108.63,426.7 108.99,427.07 109.35,427.03 109.71,426.72 110.07,426.76 110.43,426.75 110.78,426.5 111.14,426.52 111.5,426.8 111.86,426.53 112.22,426.85 112.57,426.84 112.93,426.83 113.29,426.71 113.65,426.71 114.01,426.69 114.37,427.16 114.72,427.44 115.08,427.61 115.44,427.57 115.8,427.16 116.16,426.99 116.51,426.76 116.87,426.64 117.23,426.96 117.59,426.92 117.95,426.64 118.31,426.58 118.66,426.49 119.02,426.23 119.38,426.38 119.74,426.67 120.1,426.87 120.45,427.18 120.81,427.51 121.17,427.31 121.53,427.24 121.89,427.27 122.25,427.1 122.6,426.89 122.96,426.89 123.32,426.5 123.68,425.86 124.04,424.87 124.4,423.14 124.75,420.25 125.11,414.38 125.47,406.42 125.65,404.65 125.83,406.09 126.19,413.55 126.54,419.26 126.9,422.15 127.26,423.24 127.62,423.91 127.98,424.14 128.34,423.39 128.69,421.59 129.05,420.8 129.41,422.41 129.77,424.52 130.13,425.38 130.48,425.83 130.84,426.37 131.2,426.46 131.56,426.25 131.92,426.62 132.28,427.09 132.63,427.02 132.99,427.1 133.35,427.05 133.71,427 134.07,426.77 134.42,426.57 134.78,426.66 135.14,426.64 135.5,426.31 135.86,425.85 136.22,425.46 136.57,424.67 136.93,424.64 137.29,425.33 137.65,426.21 138.01,426.63 138.36,426.66 138.72,426.69 139.08,426.54 139.44,426.29 139.8,426.14 140.16,426.44 140.51,425.93 140.87,425.68 141.23,425.59 141.59,425.44 141.95,424.63 142.31,423.98 142.66,423.21 143.02,421.86 143.38,419.74 143.74,416.96 144.1,412.39 144.45,404.57 144.81,395 145.17,389.67 145.53,394.82 145.89,404.08 146.25,411.67 146.6,416.69 146.96,419.88 147.32,421.63 147.68,423.09 148.04,424.09 148.39,424.73 148.75,425.2 149.11,425.73 149.47,425.89 149.83,426.23 150.19,426.03 150.54,426.15 150.9,426.34 151.26,426.63 151.62,426.83 151.98,427.02 152.33,427.36 152.69,427.21 153.05,427.3 153.41,427 153.77,427.34 154.13,427.03 154.48,427 154.84,427.05 155.2,427.39 155.56,427.27 155.92,427.29 156.27,427.52 156.63,427.63 156.99,427.46 157.35,427.22 157.71,427.46 158.07,427.08 158.42,426.79 158.78,426.9 159.14,427.22 159.5,427.04 159.86,427.2 160.22,427.27 160.57,427.18 160.93,426.79 161.29,426.61 161.65,426.28 162.01,425.64 162.36,424.6 162.72,423.5 163.08,422.05 163.44,420.61 163.8,419.64 164.16,420.71 164.51,422.49 164.87,424 165.23,424.7 165.59,425.56 165.95,425.57 166.3,425.62 166.66,425.7 167.02,426.05 167.38,426.04 167.74,426.46 168.1,426.4 168.45,426.38 168.81,426.57 169.17,426.75 169.53,426.54 169.89,426.82 170.24,426.5 170.6,425.95 170.96,425.75 171.32,425.44 171.68,424.99 172.04,424.98 172.39,425.12 172.75,424.58 173.11,424.18 173.47,423.79 173.83,423.2 174.18,422.36 174.54,421.32 174.9,419.66 175.26,417.24 175.62,413.69 175.98,408.12 176.33,400.78 176.69,393.3 177.05,389.56 177.41,393.12 177.77,401.2 178.12,408.39 178.48,413.55 178.84,416.82 179.2,419.31 179.56,420.89 179.92,422.46 180.27,423.39 180.63,424.28 180.99,424.57 181.35,424.57 181.71,424.5 182.07,424.57 182.42,424.49 182.78,424.58 183.14,424.84 183.5,425.13 183.86,425.03 184.21,425.22 184.57,425.43 184.93,425.32 185.29,425.21 185.65,424.84 186.01,424.64 186.36,424.09 186.72,423.69 187.08,423.48 187.44,423.21 187.8,422.64 188.15,422.52 188.51,422.12 188.87,421.54 189.23,421.65 189.59,421.67 189.95,421.48 190.3,421.25 190.66,420.87 191.02,420.71 191.38,420.57 191.74,420.72 192.09,421.18 192.45,421.64 192.81,421.76 193.17,422.18 193.53,422.24 193.89,422.59 194.24,422.67 194.6,422.99 194.96,423.18 195.32,423.44 195.68,423.68 196.04,424.28 196.39,424.72 196.75,425.02 197.11,425.5 197.47,425.48 197.83,425.6 198.18,425.44 198.54,425.58 198.9,425.78 199.26,426.1 199.62,426.16 199.98,426.12 200.33,426.2 200.69,426.15 201.05,426.21 201.41,426.22 201.77,426.06 202.12,425.44 202.48,425.02 202.84,424.54 203.2,424.11 203.56,424.58 203.92,425.5 204.27,425.76 204.63,425.56 204.99,425.83 205.35,425.65 205.71,425.11 206.06,424.52 206.42,424.06 206.78,422.95 207.14,421.95 207.5,421.17 207.86,420.86 208.21,421.5 208.57,422.71 208.93,424.12 209.29,425.05 209.65,425.99 210,426.33 210.36,426.74 210.72,426.75 211.08,426.77 211.44,426.84 211.8,427.18 212.15,427.09 212.51,427.11 212.87,427.09 213.23,427 213.59,426.82 213.94,427.15 214.3,427.38 214.66,427.36 215.02,427.45 215.38,427.72 215.74,427.54 216.09,427.29 216.45,427.67 216.81,427.83 217.17,427.64 217.53,427.42 217.89,427.66 218.24,427.6 218.6,427.27 218.96,427.49 219.32,427.8 219.68,427.7 220.03,427.4 220.39,427.36 220.75,427.25 221.11,427.27 221.47,427.4 221.83,427.78 222.18,428.09 222.54,428.13 222.9,428.15" fill="none" stroke="#ff3b3b" stroke-width="0.9" stroke-linejoin="round" /></g><rect x="43.8" y="341.3" width="179.1" height="129" fill="none" stroke="#333" stroke-width="1"/><line x1="61.71" y1="470.3" x2="61.71" y2="466.9" stroke="#333" stroke-width="1" /><line x1="61.71" y1="341.3" x2="61.71" y2="344.7" stroke="#333" stroke-width="1" /><text x="61.71" y="481.5" font-size="9.9" text-anchor="middle" fill="#000" style="">800</text><line x1="97.53" y1="470.3" x2="97.53" y2="466.9" stroke="#333" stroke-width="1" /><line x1="97.53" y1="341.3" x2="97.53" y2="344.7" stroke="#333" stroke-width="1" /><text x="97.53" y="481.5" font-size="9.9" text-anchor="middle" fill="#000" style="">1000</text><line x1="133.35" y1="470.3" x2="133.35" y2="466.9" stroke="#333" stroke-width="1" /><line x1="133.35" y1="341.3" x2="133.35" y2="344.7" stroke="#333" stroke-width="1" /><text x="133.35" y="481.5" font-size="9.9" text-anchor="middle" fill="#000" style="">1200</text><line x1="169.17" y1="470.3" x2="169.17" y2="466.9" stroke="#333" stroke-width="1" /><line x1="169.17" y1="341.3" x2="169.17" y2="344.7" stroke="#333" stroke-width="1" /><text x="169.17" y="481.5" font-size="9.9" text-anchor="middle" fill="#000" style="">1400</text><line x1="204.99" y1="470.3" x2="204.99" y2="466.9" stroke="#333" stroke-width="1" /><line x1="204.99" y1="341.3" x2="204.99" y2="344.7" stroke="#333" stroke-width="1" /><text x="204.99" y="481.5" font-size="9.9" text-anchor="middle" fill="#000" style="">1600</text><line x1="43.8" y1="470.3" x2="43.8" y2="468.4" stroke="#333" stroke-width="1" /><line x1="43.8" y1="341.3" x2="43.8" y2="343.2" stroke="#333" stroke-width="1" /><line x1="79.62" y1="470.3" x2="79.62" y2="468.4" stroke="#333" stroke-width="1" /><line x1="79.62" y1="341.3" x2="79.62" y2="343.2" stroke="#333" stroke-width="1" /><line x1="115.44" y1="470.3" x2="115.44" y2="468.4" stroke="#333" stroke-width="1" /><line x1="115.44" y1="341.3" x2="115.44" y2="343.2" stroke="#333" stroke-width="1" /><line x1="151.26" y1="470.3" x2="151.26" y2="468.4" stroke="#333" stroke-width="1" /><line x1="151.26" y1="341.3" x2="151.26" y2="343.2" stroke="#333" stroke-width="1" /><line x1="187.08" y1="470.3" x2="187.08" y2="468.4" stroke="#333" stroke-width="1" /><line x1="187.08" y1="341.3" x2="187.08" y2="343.2" stroke="#333" stroke-width="1" /><line x1="222.9" y1="470.3" x2="222.9" y2="468.4" stroke="#333" stroke-width="1" /><line x1="222.9" y1="341.3" x2="222.9" y2="343.2" stroke="#333" stroke-width="1" /><line x1="43.8" y1="470.3" x2="47.2" y2="470.3" stroke="#333" stroke-width="1" /><line x1="222.9" y1="470.3" x2="219.5" y2="470.3" stroke="#333" stroke-width="1" /><text x="40.3" y="473.9" font-size="9.9" text-anchor="end" fill="#000" style="">0</text><line x1="43.8" y1="427.3" x2="47.2" y2="427.3" stroke="#333" stroke-width="1" /><line x1="222.9" y1="427.3" x2="219.5" y2="427.3" stroke="#333" stroke-width="1" /><text x="40.3" y="430.9" font-size="9.9" text-anchor="end" fill="#000" style="">2</text><line x1="43.8" y1="384.3" x2="47.2" y2="384.3" stroke="#333" stroke-width="1" /><line x1="222.9" y1="384.3" x2="219.5" y2="384.3" stroke="#333" stroke-width="1" /><text x="40.3" y="387.9" font-size="9.9" text-anchor="end" fill="#000" style="">4</text><line x1="43.8" y1="341.3" x2="47.2" y2="341.3" stroke="#333" stroke-width="1" /><line x1="222.9" y1="341.3" x2="219.5" y2="341.3" stroke="#333" stroke-width="1" /><text x="40.3" y="344.9" font-size="9.9" text-anchor="end" fill="#000" style="">6</text><line x1="43.8" y1="448.8" x2="45.7" y2="448.8" stroke="#333" stroke-width="1" /><line x1="222.9" y1="448.8" x2="221" y2="448.8" stroke="#333" stroke-width="1" /><line x1="43.8" y1="405.8" x2="45.7" y2="405.8" stroke="#333" stroke-width="1" /><line x1="222.9" y1="405.8" x2="221" y2="405.8" stroke="#333" stroke-width="1" /><line x1="43.8" y1="362.8" x2="45.7" y2="362.8" stroke="#333" stroke-width="1" /><line x1="222.9" y1="362.8" x2="221" y2="362.8" stroke="#333" stroke-width="1" /><text x="134.15" y="494.5" font-size="10.8" text-anchor="middle" fill="#000" style="">Raman shift (cm<tspan font-size="7.5" dy="-4">−1</tspan><tspan dy="4">)</tspan></text><text x="31.3" y="405.8" font-size="10.8" text-anchor="middle" fill="#000" transform="rotate(-90 31.3 405.8)" style="">SERS Intensity (Counts, 10<tspan dx="1.6" dy="-4" font-size="7">3</tspan><tspan dy="4">)</tspan></text><text x="190.1" y="411.7" font-size="9" text-anchor="start" fill="#000" style="">10<tspan font-size="5" dy="-3.6">-10</tspan><tspan dy="3.6"> M</tspan></text><text x="197.1" y="449.8" font-size="9" text-anchor="start" fill="#000" style="">0 M</text><line x1="142.4" y1="358.4" x2="149.6" y2="362.6" stroke="#333" stroke-width="0.85" /><line x1="149.6" y1="362.6" x2="149.6" y2="369.8" stroke="#333" stroke-width="0.85" /><line x1="149.6" y1="369.8" x2="142.4" y2="373.7" stroke="#333" stroke-width="0.85" /><line x1="142.4" y1="373.7" x2="135.4" y2="369.8" stroke="#333" stroke-width="0.85" /><line x1="135.4" y1="369.8" x2="135.4" y2="362.6" stroke="#333" stroke-width="0.85" /><line x1="135.4" y1="362.6" x2="142.4" y2="358.4" stroke="#333" stroke-width="0.85" /><line x1="148.03" y1="364.05" x2="148.03" y2="368.32" stroke="#333" stroke-width="0.85" /><line x1="136.95" y1="368.32" x2="136.95" y2="364.05" stroke="#333" stroke-width="0.85" /><line x1="141.6" y1="351.5" x2="141.6" y2="358.4" stroke="#333" stroke-width="0.85" /><line x1="143.2" y1="351.5" x2="143.2" y2="358.4" stroke="#333" stroke-width="0.85" /><line x1="141.6" y1="373.7" x2="141.6" y2="382.8" stroke="#333" stroke-width="0.85" /><line x1="143.2" y1="373.7" x2="143.2" y2="382.8" stroke="#333" stroke-width="0.85" /><text x="142.4" y="349.6" font-size="6.2" text-anchor="middle" fill="#222" dominant-baseline="central">N</text><line x1="140" y1="348" x2="135.4" y2="345.6" stroke="#333" stroke-width="0.85" /><line x1="145" y1="348" x2="149.6" y2="345.6" stroke="#333" stroke-width="0.85" /><text x="142.4" y="345.3" font-size="4.5" text-anchor="middle" fill="#222" dominant-baseline="central">+</text><text x="155.5" y="349.5" font-size="5.5" text-anchor="middle" fill="#222" dominant-baseline="central">Cl<tspan font-size="4" dy="-2">−</tspan></text><line x1="142.4" y1="382.8" x2="136" y2="386.5" stroke="#333" stroke-width="0.85" /><line x1="142.4" y1="382.8" x2="149" y2="386.5" stroke="#333" stroke-width="0.85" /><line x1="136" y1="386.5" x2="128.5" y2="382.2" stroke="#333" stroke-width="0.85" /><line x1="128.5" y1="382.2" x2="121.3" y2="386.5" stroke="#333" stroke-width="0.85" /><line x1="121.3" y1="386.5" x2="121.3" y2="394.6" stroke="#333" stroke-width="0.85" /><line x1="121.3" y1="394.6" x2="128.5" y2="398.6" stroke="#333" stroke-width="0.85" /><line x1="128.5" y1="398.6" x2="136" y2="394.6" stroke="#333" stroke-width="0.85" /><line x1="136" y1="394.6" x2="136" y2="386.5" stroke="#333" stroke-width="0.85" /><line x1="133.67" y1="386.98" x2="129.22" y2="384.43" stroke="#333" stroke-width="0.85" /><line x1="122.91" y1="388.14" x2="122.91" y2="392.94" stroke="#333" stroke-width="0.85" /><line x1="129.22" y1="396.44" x2="133.67" y2="394.07" stroke="#333" stroke-width="0.85" /><line x1="149" y1="386.5" x2="156.5" y2="382.2" stroke="#333" stroke-width="0.85" /><line x1="156.5" y1="382.2" x2="163.9" y2="386.5" stroke="#333" stroke-width="0.85" /><line x1="163.9" y1="386.5" x2="163.9" y2="394.6" stroke="#333" stroke-width="0.85" /><line x1="163.9" y1="394.6" x2="156.5" y2="398.6" stroke="#333" stroke-width="0.85" /><line x1="156.5" y1="398.6" x2="149" y2="394.6" stroke="#333" stroke-width="0.85" /><line x1="149" y1="394.6" x2="149" y2="386.5" stroke="#333" stroke-width="0.85" /><line x1="151.34" y1="386.98" x2="155.79" y2="384.43" stroke="#333" stroke-width="0.85" /><line x1="162.26" y1="388.14" x2="162.26" y2="392.94" stroke="#333" stroke-width="0.85" /><line x1="155.79" y1="396.44" x2="151.34" y2="394.07" stroke="#333" stroke-width="0.85" /><line x1="121.3" y1="394.6" x2="115.5" y2="397.8" stroke="#333" stroke-width="0.85" /><text x="113.6" y="398.8" font-size="6.2" text-anchor="middle" fill="#222" dominant-baseline="central">N</text><line x1="111.5" y1="397.3" x2="106.8" y2="394" stroke="#333" stroke-width="0.85" /><line x1="113.6" y1="401" x2="113.6" y2="406.4" stroke="#333" stroke-width="0.85" /><line x1="163.9" y1="394.6" x2="168.5" y2="397.8" stroke="#333" stroke-width="0.85" /><text x="170.5" y="398.8" font-size="6.2" text-anchor="middle" fill="#222" dominant-baseline="central">N</text><line x1="172.6" y1="397.3" x2="177.5" y2="394" stroke="#333" stroke-width="0.85" /><line x1="170.5" y1="401" x2="170.5" y2="406.4" stroke="#333" stroke-width="0.85" /><g clip-path="url(#cp7)"><line x1="336.55" y1="464.55" x2="336.55" y2="407.57" stroke="#484848" stroke-width="1.1" stroke-dasharray="3.6,2.3" /><line x1="376.13" y1="464.55" x2="376.13" y2="407.57" stroke="#484848" stroke-width="1.1" stroke-dasharray="3.6,2.3" /><line x1="383.83" y1="464.55" x2="383.83" y2="407.57" stroke="#484848" stroke-width="1.1" stroke-dasharray="3.6,2.3" /><polyline points="270.1,457.11 270.46,456.89 270.82,456.95 271.17,456.91 271.53,456.87 271.89,456.74 272.25,456.92 272.61,456.72 272.97,456.53 273.32,456.56 273.68,456.63 274.04,456.53 274.4,456.64 274.76,456.52 275.11,456.53 275.47,456.71 275.83,456.53 276.19,456.53 276.55,456.8 276.91,456.72 277.26,456.6 277.62,456.59 277.98,456.65 278.34,456.64 278.7,456.54 279.06,456.47 279.41,456.47 279.77,456.24 280.13,456.18 280.49,456.3 280.85,456.19 281.2,456.17 281.56,456.43 281.92,456.28 282.28,456.03 282.64,456.06 283,456.3 283.35,455.99 283.71,455.95 284.07,456.12 284.43,456.04 284.79,455.95 285.14,456.08 285.5,456.04 285.86,455.74 286.22,455.48 286.58,454.83 286.94,453.63 287.29,441.14 287.65,269.7 288.01,-273.75 288.19,-410.6 288.37,-273.62 288.73,269.89 289.08,441.23 289.44,453.66 289.8,454.62 290.16,455.2 290.52,455.54 290.88,455.68 291.23,455.84 291.59,455.96 291.95,456.06 292.31,456.06 292.67,456.12 293.02,456.15 293.38,456.09 293.74,456.08 294.1,456.09 294.46,456.15 294.82,456.24 295.17,456.32 295.53,456.21 295.89,456.34 296.25,456.59 296.61,456.41 296.97,456.65 297.32,456.78 297.68,456.71 298.04,456.5 298.4,456.55 298.76,456.43 299.11,456.33 299.47,456.18 299.83,456.33 300.19,456.49 300.55,456.45 300.91,456.4 301.26,456.66 301.62,456.72 301.98,456.8 302.34,456.76 302.7,456.74 303.05,456.42 303.41,456.19 303.77,456.15 304.13,456.13 304.49,456.03 304.85,456.24 305.2,456.5 305.56,456.46 305.92,456.62 306.28,456.9 306.64,457 306.99,456.96 307.35,456.78 307.71,456.86 308.07,456.71 308.43,456.65 308.79,456.62 309.14,456.63 309.5,456.54 309.86,456.68 310.22,456.59 310.58,456.41 310.93,456.5 311.29,456.3 311.65,456.22 312.01,456.18 312.37,456.17 312.73,456.18 313.08,456.22 313.44,456.18 313.8,456.3 314.16,456.49 314.52,456.36 314.88,456.34 315.23,456.15 315.59,455.94 315.95,455.76 316.31,455.94 316.67,455.88 317.02,456.13 317.38,456.18 317.74,456.29 318.1,456.17 318.46,456.31 318.82,456.14 319.17,455.97 319.53,455.76 319.89,455.71 320.25,455.44 320.61,455.21 320.96,455.03 321.32,455.03 321.68,454.71 322.04,454.45 322.4,454.37 322.76,454.33 323.11,453.81 323.47,453.66 323.83,453.62 324.19,453.26 324.55,453.03 324.9,453.05 325.26,452.85 325.62,452.48 325.98,451.94 326.34,451.08 326.7,449.6 327.05,447.73 327.41,444.88 327.77,440.61 328.13,434.63 328.49,428.3 328.84,424.92 329.2,428.07 329.56,434.72 329.92,440.9 330.28,445.29 330.64,448.5 330.99,450.47 331.35,451.94 331.71,452.96 332.07,453.73 332.43,454.13 332.79,454.61 333.14,454.63 333.5,454.69 333.86,454.9 334.22,455.07 334.58,455.23 334.93,455.46 335.29,455.47 335.65,455.51 336.01,455.74 336.37,455.85 336.73,455.92 337.08,456.19 337.44,456.29 337.8,456.25 338.16,456 338.52,455.99 338.87,455.9 339.23,455.76 339.59,455.86 339.95,456.06 340.31,456.08 340.67,456.08 341.02,456.31 341.38,456.28 341.74,456.14 342.1,456.29 342.46,456.24 342.81,456.31 343.17,456.12 343.53,456.17 343.89,456.13 344.25,456.03 344.61,455.77 344.96,456.07 345.32,456.2 345.68,456.13 346.04,456.1 346.4,456.3 346.75,456.27 347.11,456.21 347.47,456.31 347.83,456.44 348.19,456.22 348.55,455.97 348.9,455.88 349.26,455.67 349.62,455.23 349.98,454.81 350.34,454.09 350.69,452.82 351.05,450.66 351.41,447.57 351.77,444.18 351.95,443.51 352.13,444.14 352.49,447.57 352.84,450.89 353.2,452.81 353.56,454.19 353.92,454.81 354.28,455 354.64,455.22 354.99,455.59 355.35,455.61 355.71,455.58 356.07,455.74 356.43,455.62 356.78,455.78 357.14,455.7 357.5,455.89 357.86,456 358.22,456.02 358.58,455.78 358.93,455.71 359.29,455.6 359.65,455.41 360.01,455.52 360.37,455.55 360.72,455.56 361.08,455.62 361.44,455.83 361.8,455.72 362.16,455.54 362.52,455.43 362.87,455.44 363.23,455.23 363.59,455.21 363.95,455.21 364.31,454.97 364.66,454.61 365.02,454.34 365.38,453.98 365.74,453.57 366.1,453.3 366.46,453 366.81,452.8 367.17,452.68 367.53,452.66 367.89,452.49 368.25,452.38 368.61,451.85 368.96,451.3 369.32,450.16 369.68,448.88 370.04,446.34 370.4,442.95 370.75,438.09 371.11,433.05 371.47,430.35 371.83,433.06 372.19,438.44 372.55,443.35 372.9,446.79 373.26,449.38 373.62,451.24 373.98,452.38 374.34,453.23 374.69,453.79 375.05,454.23 375.41,454.34 375.77,454.78 376.13,454.87 376.49,455.13 376.84,455.17 377.2,455.25 377.56,455.2 377.92,455.32 378.28,455.34 378.63,455.6 378.99,455.77 379.35,455.73 379.71,455.76 380.07,455.87 380.43,455.69 380.78,455.56 381.14,455.75 381.5,455.94 381.86,455.91 382.22,456.15 382.57,456.14 382.93,456.05 383.29,455.86 383.65,455.74 384.01,455.43 384.37,455.64 384.72,455.55 385.08,455.57 385.44,455.59 385.8,455.78 385.98,455.52 386.16,455.57 386.51,455.56 386.87,455.51 387.23,455.38 387.59,455.67 387.95,455.7 388.31,455.67 388.66,455.97 389.02,456.24 389.38,456.09 389.74,456.22 390.1,456.22 390.46,456.03 390.81,455.88 391.17,456.05 391.53,455.8 391.89,455.77 392.25,455.98 392.6,455.85 392.96,455.73 393.32,455.89 393.68,456.07 394.04,456.02 394.4,456 394.75,455.87 395.11,455.78 395.47,455.69 395.83,455.6 396.19,455.61 396.54,455.66 396.9,455.58 397.26,455.32 397.62,454.8 397.98,454.61 398.34,454.24 398.69,453.74 399.05,453.47 399.41,453.46 399.77,453.16 400.13,452.86 400.48,452.15 400.84,451.08 401.2,449.63 401.56,447.59 401.92,445.01 402.28,441.79 402.63,437.45 402.99,433.3 403.35,431.46 403.71,433.34 404.07,437.52 404.43,441.98 404.78,445.43 405.14,448.3 405.5,450.19 405.86,451.67 406.22,452.71 406.57,453.43 406.93,453.84 407.29,454.32 407.65,454.42 408.01,454.66 408.37,455.17 408.72,455.23 409.08,455.2 409.44,455.4 409.8,455.61 410.16,455.69 410.51,455.92 410.87,456.09 411.23,456.24 411.59,456.19 411.95,456.06 412.31,455.94 412.66,455.77 413.02,455.72 413.38,455.72 413.74,455.85 414.1,456.05 414.45,456.21 414.81,456.06 415.17,456.31 415.53,456.29 415.89,456.34 416.25,456.27 416.6,456.3 416.96,456.16 417.32,456.31 417.68,456.23 418.04,456.31 418.39,456.41 418.75,456.32 419.11,456.19 419.47,456.22 419.83,456.16 420.19,456.39 420.54,456.58 420.9,456.51 421.26,456.37 421.62,456.32 421.98,456.23 422.33,455.99 422.69,456.13 423.05,456.32 423.41,456.59 423.77,456.48 424.13,456.69 424.48,456.55 424.84,456.38 425.2,456.39 425.56,456.38 425.92,456.31 426.28,456.45 426.63,456.77 426.99,456.5 427.35,456.49 427.71,456.48 428.07,456.54 428.42,456.25 428.78,456.43 429.14,456.52 429.5,456.54 429.86,456.42 430.22,456.41 430.57,456.39 430.93,456.31 431.29,456.24 431.65,456.08 432.01,456.35 432.36,456.39 432.72,456.3 433.08,456.36 433.44,456.55 433.8,456.31 434.16,456.39 434.51,456.63 434.87,456.81 435.23,456.71 435.59,456.85 435.95,456.79 436.3,456.72 436.66,456.66 437.02,456.65 437.38,456.55 437.74,456.53 438.1,456.38 438.45,456.45 438.81,456.51 439.17,456.71 439.53,456.81 439.89,456.91 440.25,456.9 440.6,457.07 440.96,457.08 441.32,456.99 441.68,456.9 442.04,456.83 442.39,456.81 442.75,456.59 443.11,456.44 443.47,456.39 443.83,456.47 444.19,456.46 444.54,456.57 444.9,456.51 445.26,456.67 445.62,456.38 445.98,456.36 446.33,456.35 446.69,456.46 447.05,456.56 447.41,456.69 447.77,456.48 448.13,456.36 448.48,456.36 448.84,456.19 449.2,456.08" fill="none" stroke="#4a4a4a" stroke-width="0.9" stroke-linejoin="round" /><polyline points="270.1,429.42 270.46,428.93 270.82,428.81 271.17,428.41 271.53,428.37 271.89,428.13 272.25,427.95 272.61,427.63 272.97,427.1 273.32,426.25 273.68,426.1 274.04,426.75 274.4,427.07 274.76,427.91 275.11,428.66 275.47,428.67 275.83,428.37 276.19,428.42 276.55,428.06 276.91,428.01 277.26,428.38 277.62,428.77 277.98,428.72 278.34,429.16 278.7,429.19 279.06,429.23 279.41,429.26 279.77,429.75 280.13,429.62 280.49,429.61 280.85,429.45 281.2,428.99 281.56,428.9 281.92,428.65 282.28,428.33 282.64,428.16 283,428.31 283.35,427.96 283.71,428.02 284.07,428.21 284.43,428.25 284.79,428.31 285.14,428.35 285.5,427.94 285.86,427.55 286.22,427.28 286.58,426.57 286.94,425.31 287.29,413.14 287.65,241.55 288.01,-301.89 288.19,-438.51 288.37,-301.6 288.73,242.04 289.08,413.69 289.44,425.99 289.8,426.97 290.16,427.89 290.52,428.31 290.88,428.26 291.23,428.31 291.59,428.07 291.95,427.95 292.31,427.55 292.67,427.66 293.02,427.75 293.38,428.02 293.74,428.05 294.1,428.45 294.46,428.73 294.82,428.7 295.17,428.89 295.53,428.73 295.89,428.59 296.25,428.49 296.61,428.45 296.97,428.22 297.32,428.6 297.68,428.74 298.04,429.06 298.4,429.47 298.76,429.32 299.11,429.09 299.47,428.72 299.83,428.32 300.19,428.17 300.55,428.17 300.91,428 301.26,428.27 301.62,428.63 301.98,428.63 302.34,429.04 302.7,429.33 303.05,429.52 303.41,429.2 303.77,428.86 304.13,428.84 304.49,428.62 304.85,428.36 305.2,428.48 305.56,428.52 305.92,428.43 306.28,428.41 306.64,428.69 306.99,428.44 307.35,428.82 307.71,429.01 308.07,428.97 308.43,428.62 308.79,428.77 309.14,428.46 309.5,428.27 309.86,428.66 310.22,428.87 310.58,428.72 310.93,428.61 311.29,428.68 311.65,428.51 312.01,428.43 312.37,428.45 312.73,428.95 313.08,428.64 313.44,428.73 313.8,428.68 314.16,429.07 314.52,429.02 314.88,428.99 315.23,428.85 315.59,428.63 315.95,428.24 316.31,427.88 316.67,428.29 317.02,428.23 317.38,428.21 317.74,428.38 318.1,428.72 318.46,428.65 318.82,428.42 319.17,428.41 319.53,428.52 319.89,428.37 320.25,428.06 320.61,428.28 320.96,428.65 321.32,428.23 321.68,428.02 322.04,428.15 322.4,428.34 322.76,428.09 323.11,428.12 323.47,428.24 323.83,428.26 324.19,427.74 324.55,427.33 324.9,427.27 325.26,426.81 325.62,426.11 325.98,425.66 326.34,425.32 326.7,424.31 327.05,422.91 327.41,420.88 327.77,417.79 328.13,413.11 328.49,408.22 328.84,405.53 329.2,407.82 329.56,412.28 329.92,416.61 330.28,419.89 330.64,422.5 330.99,423.9 331.35,425.21 331.71,426.11 332.07,426.73 332.43,426.94 332.79,427.16 333.14,427.42 333.5,427.75 333.86,427.49 334.22,427.74 334.58,427.72 334.93,427.68 335.29,427.87 335.65,428.18 336.01,428.3 336.37,428.45 336.73,428.62 337.08,428.61 337.44,428.37 337.8,428.05 338.16,428.16 338.52,428.09 338.87,428.1 339.23,428.09 339.59,428.34 339.95,428.38 340.31,428.41 340.67,428.19 341.02,428.67 341.38,428.35 341.74,428.33 342.1,428.35 342.46,428.1 342.81,427.61 343.17,427.63 343.53,427.34 343.89,427.25 344.25,427.51 344.61,427.61 344.96,427.46 345.32,427.26 345.68,426.74 346.04,426.11 346.4,425.6 346.75,425.25 347.11,425.18 347.47,425.56 347.83,425.74 348.19,426.09 348.55,426.52 348.9,426.53 349.26,425.99 349.62,425.83 349.98,425.08 350.34,423.9 350.69,422.46 351.05,420.37 351.41,417.51 351.77,415.63 351.95,415.31 352.13,415.85 352.49,418.35 352.84,421.09 353.2,423.22 353.56,424.73 353.92,425.45 354.28,426.33 354.64,426.74 354.99,426.83 355.35,427.21 355.71,427.5 356.07,427.66 356.43,428.14 356.78,428.09 357.14,428.06 357.5,428.43 357.86,428.46 358.22,428.36 358.58,428.63 358.93,428.47 359.29,428.48 359.65,428.24 360.01,428.26 360.37,428.27 360.72,428.31 361.08,428.35 361.44,428.25 361.8,428.11 362.16,428.26 362.52,428.68 362.87,428.35 363.23,428.33 363.59,428.52 363.95,428.57 364.31,428.33 364.66,428.34 365.02,428.57 365.38,428.5 365.74,428.47 366.1,428.63 366.46,428.8 366.81,428.51 367.17,428.55 367.53,428.37 367.89,428.02 368.25,427.8 368.61,427.75 368.96,426.99 369.32,426.34 369.68,425.34 370.04,423.93 370.4,421.43 370.75,417.8 371.11,413.08 371.47,410.75 371.83,413.29 372.19,418.03 372.55,421.83 372.9,424.37 373.26,425.72 373.62,426.43 373.98,427.17 374.34,427.48 374.69,427.35 375.05,427.44 375.41,427.64 375.77,427.38 376.13,427.33 376.49,427.42 376.84,427.35 377.2,427.24 377.56,427.22 377.92,427.34 378.28,427.68 378.63,428.11 378.99,428.25 379.35,428.37 379.71,428.6 380.07,428.54 380.43,428.5 380.78,428.63 381.14,428.7 381.5,428.15 381.86,427.89 382.22,427.22 382.57,426.22 382.93,425.41 383.29,426.18 383.65,427 384.01,427.7 384.37,428.14 384.72,428.89 385.08,428.82 385.44,428.91 385.8,428.9 386.16,429.08 386.51,428.96 386.87,429.26 387.23,429.19 387.59,429.15 387.95,429 388.31,428.71 388.66,428.41 389.02,428.15 389.38,427.91 389.74,427.23 390.1,426.95 390.46,426.82 390.81,426.91 391.17,427.02 391.53,427.53 391.89,428.02 392.25,428.39 392.6,428.6 392.96,428.38 393.32,428.47 393.68,428.22 394.04,428.07 394.4,427.94 394.75,428.1 395.11,428.16 395.47,428.41 395.83,428.49 396.19,428.48 396.54,428.25 396.9,427.8 397.26,427.69 397.62,427.8 397.98,427.6 398.34,427.96 398.69,427.74 399.05,427.61 399.41,427.13 399.77,426.78 400.13,426.34 400.48,426.22 400.84,425.22 401.2,424.17 401.56,423.23 401.92,421.12 402.28,418.15 402.63,414.83 402.99,411.88 403.35,410.5 403.71,411.8 404.07,415.05 404.43,418.47 404.78,420.97 405.14,422.58 405.5,424.01 405.86,424.98 406.22,425.62 406.57,426.05 406.93,426.34 407.29,426.88 407.65,426.99 408.01,427.33 408.37,427.64 408.72,428.04 409.08,427.97 409.44,428.21 409.8,428.12 410.16,428.28 410.51,428.21 410.87,428.06 411.23,427.94 411.59,427.72 411.95,427.49 412.31,427.02 412.66,426.39 413.02,425.86 413.38,425.71 413.74,425.49 414.1,425.96 414.45,426.75 414.81,427.18 415.17,427.62 415.53,428.11 415.89,428.05 416.25,427.98 416.6,428.28 416.96,428.33 417.32,428.1 417.68,428.15 418.04,427.91 418.39,427.54 418.75,427.38 419.11,427.23 419.47,426.88 419.83,426.62 420.19,426.29 420.54,426.26 420.9,426.58 421.26,427.17 421.62,427.46 421.98,427.77 422.33,427.69 422.69,427.77 423.05,427.62 423.41,427.56 423.77,427.64 424.13,427 424.48,426.01 424.84,425.07 425.02,424.82 425.2,424.71 425.56,425.76 425.92,426.7 426.28,427.45 426.63,427.96 426.99,428.3 427.35,428.45 427.71,428.47 428.07,428.4 428.42,428.75 428.78,428.45 429.14,428.28 429.5,428.28 429.86,428.36 430.22,427.91 430.57,428.1 430.93,428.19 431.29,428.27 431.65,428.19 432.01,428.29 432.36,427.98 432.72,427.38 433.08,427.03 433.44,426.95 433.8,427.19 434.16,427.31 434.51,427.84 434.87,427.73 435.23,427.9 435.59,427.78 435.95,427.87 436.3,427.76 436.66,428.22 437.02,428.26 437.38,428.26 437.74,428.46 438.1,428.35 438.45,428.12 438.81,428.17 439.17,428.2 439.53,428.11 439.89,428.44 440.25,428.54 440.6,428.66 440.96,429.02 441.32,429 441.68,428.91 442.04,429.09 442.39,429.19 442.75,428.93 443.11,428.97 443.47,428.98 443.83,428.81 444.19,428.64 444.54,428.58 444.9,428.86 445.26,428.92 445.62,428.93 445.98,429.17 446.33,429.52 446.69,429.42 447.05,429.45 447.41,429.65 447.77,429.54 448.13,429.41 448.48,429.25 448.84,429.13 449.2,428.83" fill="none" stroke="#ff3b3b" stroke-width="0.9" stroke-linejoin="round" /></g><rect x="270.1" y="342" width="179.1" height="129" fill="none" stroke="#333" stroke-width="1"/><line x1="288.01" y1="471" x2="288.01" y2="467.6" stroke="#333" stroke-width="1" /><line x1="288.01" y1="342" x2="288.01" y2="345.4" stroke="#333" stroke-width="1" /><text x="288.01" y="482.2" font-size="9.9" text-anchor="middle" fill="#000" style="">800</text><line x1="323.83" y1="471" x2="323.83" y2="467.6" stroke="#333" stroke-width="1" /><line x1="323.83" y1="342" x2="323.83" y2="345.4" stroke="#333" stroke-width="1" /><text x="323.83" y="482.2" font-size="9.9" text-anchor="middle" fill="#000" style="">1000</text><line x1="359.65" y1="471" x2="359.65" y2="467.6" stroke="#333" stroke-width="1" /><line x1="359.65" y1="342" x2="359.65" y2="345.4" stroke="#333" stroke-width="1" /><text x="359.65" y="482.2" font-size="9.9" text-anchor="middle" fill="#000" style="">1200</text><line x1="395.47" y1="471" x2="395.47" y2="467.6" stroke="#333" stroke-width="1" /><line x1="395.47" y1="342" x2="395.47" y2="345.4" stroke="#333" stroke-width="1" /><text x="395.47" y="482.2" font-size="9.9" text-anchor="middle" fill="#000" style="">1400</text><line x1="431.29" y1="471" x2="431.29" y2="467.6" stroke="#333" stroke-width="1" /><line x1="431.29" y1="342" x2="431.29" y2="345.4" stroke="#333" stroke-width="1" /><text x="431.29" y="482.2" font-size="9.9" text-anchor="middle" fill="#000" style="">1600</text><line x1="270.1" y1="471" x2="270.1" y2="469.1" stroke="#333" stroke-width="1" /><line x1="270.1" y1="342" x2="270.1" y2="343.9" stroke="#333" stroke-width="1" /><line x1="305.92" y1="471" x2="305.92" y2="469.1" stroke="#333" stroke-width="1" /><line x1="305.92" y1="342" x2="305.92" y2="343.9" stroke="#333" stroke-width="1" /><line x1="341.74" y1="471" x2="341.74" y2="469.1" stroke="#333" stroke-width="1" /><line x1="341.74" y1="342" x2="341.74" y2="343.9" stroke="#333" stroke-width="1" /><line x1="377.56" y1="471" x2="377.56" y2="469.1" stroke="#333" stroke-width="1" /><line x1="377.56" y1="342" x2="377.56" y2="343.9" stroke="#333" stroke-width="1" /><line x1="413.38" y1="471" x2="413.38" y2="469.1" stroke="#333" stroke-width="1" /><line x1="413.38" y1="342" x2="413.38" y2="343.9" stroke="#333" stroke-width="1" /><line x1="449.2" y1="471" x2="449.2" y2="469.1" stroke="#333" stroke-width="1" /><line x1="449.2" y1="342" x2="449.2" y2="343.9" stroke="#333" stroke-width="1" /><line x1="270.1" y1="471" x2="273.5" y2="471" stroke="#333" stroke-width="1" /><line x1="449.2" y1="471" x2="445.8" y2="471" stroke="#333" stroke-width="1" /><text x="266.6" y="474.6" font-size="9.9" text-anchor="end" fill="#000" style="">0</text><line x1="270.1" y1="385" x2="273.5" y2="385" stroke="#333" stroke-width="1" /><line x1="449.2" y1="385" x2="445.8" y2="385" stroke="#333" stroke-width="1" /><text x="266.6" y="388.6" font-size="9.9" text-anchor="end" fill="#000" style="">4</text><line x1="270.1" y1="428" x2="272" y2="428" stroke="#333" stroke-width="1" /><line x1="449.2" y1="428" x2="447.3" y2="428" stroke="#333" stroke-width="1" /><line x1="270.1" y1="342" x2="272" y2="342" stroke="#333" stroke-width="1" /><line x1="449.2" y1="342" x2="447.3" y2="342" stroke="#333" stroke-width="1" /><text x="360.45" y="494.5" font-size="10.8" text-anchor="middle" fill="#000" style="">Raman shift (cm<tspan font-size="7.5" dy="-4">−1</tspan><tspan dy="4">)</tspan></text><text x="255.7" y="406.5" font-size="10.8" text-anchor="middle" fill="#000" transform="rotate(-90 255.7 406.5)" style="">SERS Intensity (Counts, 10<tspan dx="1.6" dy="-4" font-size="7">3</tspan><tspan dy="4">)</tspan></text><text x="416" y="421" font-size="9" text-anchor="start" fill="#000" style="">10<tspan font-size="5" dy="-3.6">-7</tspan><tspan dy="3.6"> M</tspan></text><text x="425" y="451.8" font-size="9" text-anchor="start" fill="#000" style="">0 M</text><line x1="335.1" y1="355.6" x2="348.2" y2="362.4" stroke="#333" stroke-width="0.85" /><line x1="348.2" y1="362.4" x2="348.2" y2="378" stroke="#333" stroke-width="0.85" /><line x1="348.2" y1="378" x2="335.1" y2="384.5" stroke="#333" stroke-width="0.85" /><line x1="335.1" y1="384.5" x2="322.5" y2="377.7" stroke="#333" stroke-width="0.85" /><line x1="322.5" y1="377.7" x2="322.5" y2="360" stroke="#333" stroke-width="0.85" /><line x1="322.5" y1="360" x2="335.1" y2="355.6" stroke="#333" stroke-width="0.85" /><line x1="336.36" y1="359.34" x2="344.13" y2="363.37" stroke="#333" stroke-width="0.85" /><line x1="344.13" y1="376.78" x2="336.36" y2="380.64" stroke="#333" stroke-width="0.85" /><line x1="325.31" y1="374.28" x2="325.31" y2="363.79" stroke="#333" stroke-width="0.85" /><line x1="322.5" y1="360" x2="315" y2="356.5" stroke="#333" stroke-width="0.85" /><text x="305" y="357" font-size="8" text-anchor="middle" fill="#222" dominant-baseline="central">O<tspan font-size="4.8" dy="1.5">2</tspan><tspan dy="-1.5">N</tspan></text><line x1="348.2" y1="362.4" x2="358" y2="359" stroke="#333" stroke-width="0.85" /><line x1="348.2" y1="378" x2="358" y2="382" stroke="#333" stroke-width="0.85" /><text x="362" y="358.5" font-size="8" text-anchor="middle" fill="#222" dominant-baseline="central">N</text><text x="362" y="383.5" font-size="8" text-anchor="middle" fill="#222" dominant-baseline="central">N</text><text x="362" y="390.5" font-size="8" text-anchor="middle" fill="#222" dominant-baseline="central">H</text><line x1="364" y1="361.5" x2="370" y2="370" stroke="#333" stroke-width="0.85" /><line x1="362.5" y1="363" x2="368.5" y2="371.5" stroke="#333" stroke-width="0.85" /><line x1="370" y1="370" x2="365" y2="380" stroke="#333" stroke-width="0.85" /><line x1="370" y1="370" x2="381" y2="370" stroke="#333" stroke-width="0.85" /><text x="387.5" y="370.5" font-size="8" text-anchor="middle" fill="#222" dominant-baseline="central">SH</text><g clip-path="url(#cp8)"><line x1="505.25" y1="463.26" x2="505.25" y2="406.15" stroke="#484848" stroke-width="1.1" stroke-dasharray="3.6,2.3" /><line x1="615.27" y1="463.26" x2="615.27" y2="412.62" stroke="#484848" stroke-width="1.1" stroke-dasharray="3.6,2.3" /><line x1="620.28" y1="463.26" x2="620.28" y2="412.62" stroke="#484848" stroke-width="1.1" stroke-dasharray="3.6,2.3" /><polyline points="499.7,456.3 500.06,456.02 500.42,455.96 500.77,455.86 501.13,455.74 501.49,455.67 501.85,455.73 502.2,455.73 502.56,455.69 502.92,455.66 503.28,455.5 503.64,455.6 503.99,455.74 504.35,455.95 504.71,455.93 505.07,456.16 505.42,456.08 505.78,455.92 506.14,455.95 506.5,455.92 506.86,455.96 507.21,455.89 507.57,455.8 507.93,455.75 508.29,455.76 508.64,455.51 509,455.76 509.36,455.81 509.72,455.83 510.08,455.76 510.43,455.76 510.79,455.45 511.15,455.65 511.51,455.56 511.87,455.64 512.22,455.64 512.58,455.89 512.94,455.56 513.3,455.33 513.65,455.38 514.01,455.47 514.37,455.21 514.73,455.25 515.09,455.14 515.44,454.83 515.8,454.41 516.16,454.14 516.52,453.33 516.87,441.47 517.23,274.92 517.59,-253.26 517.77,-386.52 517.95,-253.65 518.31,274.38 518.66,440.87 519.02,452.84 519.38,453.94 519.74,454.6 520.09,455.22 520.45,455.39 520.81,455.37 521.17,455.28 521.53,455.36 521.88,455.22 522.24,455.53 522.6,455.57 522.96,455.64 523.31,455.45 523.67,455.49 524.03,455.41 524.39,455.44 524.75,455.35 525.1,455.54 525.46,455.61 525.82,455.51 526.18,455.58 526.53,455.77 526.89,455.71 527.25,455.53 527.61,455.69 527.97,455.86 528.32,455.76 528.68,455.83 529.04,455.85 529.4,455.84 529.76,455.59 530.11,455.7 530.47,455.49 530.83,455.54 531.19,455.4 531.54,455.65 531.9,455.72 532.26,456.01 532.62,456.21 532.98,456.23 533.33,456.28 533.69,456.26 534.05,456.07 534.41,456.08 534.76,456.19 535.12,456.13 535.48,455.98 535.84,456.13 536.2,455.84 536.55,455.74 536.91,455.57 537.27,455.61 537.63,455.47 537.98,455.48 538.34,455.37 538.7,455.33 539.06,455.5 539.42,455.47 539.77,455.47 540.13,455.55 540.49,455.65 540.85,455.43 541.2,455.56 541.56,455.63 541.92,455.57 542.28,455.71 542.64,455.75 542.99,455.59 543.35,455.71 543.71,455.73 544.07,455.42 544.42,455.27 544.78,455.35 545.14,455.39 545.5,455.31 545.86,455.39 546.21,455.39 546.57,455.16 546.93,455.09 547.29,455.14 547.65,455.2 548,455.16 548.36,455.16 548.72,455.11 549.08,455.06 549.43,454.87 549.79,454.96 550.15,455.01 550.51,454.79 550.87,454.77 551.22,454.62 551.58,454.16 551.94,453.7 552.3,453.6 552.65,453.09 553.01,452.79 553.37,452.67 553.73,452.77 554.09,452.37 554.44,452.41 554.8,452.13 555.16,451.88 555.52,451.2 555.87,450.57 556.23,449.09 556.59,447.42 556.95,444.42 557.31,440.19 557.66,434.43 558.02,428.26 558.38,425.16 558.74,428.52 559.09,434.73 559.45,440.55 559.81,445.03 560.17,447.85 560.53,449.59 560.88,451.11 561.24,452.12 561.6,452.66 561.96,453.26 562.32,453.69 562.67,453.98 563.03,454.1 563.39,454.24 563.75,454.55 564.1,454.86 564.46,454.98 564.82,455.02 565.18,455.07 565.54,454.92 565.89,454.89 566.25,454.87 566.61,455.14 566.97,455.32 567.32,455.63 567.68,455.52 568.04,455.45 568.4,455.28 568.76,455.18 569.11,455.09 569.47,455.12 569.83,455.45 570.19,455.57 570.54,455.71 570.9,455.55 571.26,455.77 571.62,455.75 571.98,455.85 572.33,455.69 572.69,455.88 573.05,455.62 573.41,455.57 573.76,455.3 574.12,455.52 574.48,455.31 574.84,455.27 575.2,455.06 575.55,455.09 575.91,454.82 576.27,454.78 576.63,454.75 576.98,454.9 577.34,454.78 577.7,454.74 578.06,454.83 578.42,454.95 578.77,454.53 579.13,454.36 579.49,454.01 579.85,453.13 580.21,451.9 580.56,450.24 580.92,447.2 581.28,444.03 581.46,443.67 581.64,444.17 581.99,447.1 582.35,450.22 582.71,452 583.07,452.95 583.43,453.69 583.78,454.37 584.14,454.51 584.5,454.89 584.86,455.21 585.21,455.2 585.57,455.25 585.93,455.5 586.29,455.34 586.65,455.12 587,455.33 587.36,455.29 587.72,455.14 588.08,455.17 588.43,455.51 588.79,455.38 589.15,455.42 589.51,455.27 589.87,455.36 590.22,455 590.58,455.03 590.94,454.83 591.3,455.08 591.65,455.09 592.01,455.23 592.37,455.16 592.73,455.21 593.09,454.93 593.44,454.8 593.8,454.5 594.16,454.05 594.52,453.52 594.87,453.12 595.23,452.45 595.59,452.03 595.95,451.82 596.31,451.73 596.66,451.78 597.02,451.73 597.38,451.59 597.74,451.37 598.1,450.96 598.45,450.13 598.81,449.18 599.17,447.69 599.53,445.44 599.88,442.27 600.24,437.49 600.6,432.49 600.96,430.22 601.32,432.89 601.67,438.06 602.03,443.23 602.39,446.76 602.75,449.12 603.1,450.88 603.46,451.8 603.82,452.32 604.18,452.83 604.54,453.31 604.89,453.55 605.25,453.97 605.61,454.37 605.97,454.51 606.32,454.52 606.68,454.46 607.04,454.54 607.4,454.58 607.76,454.74 608.11,455.01 608.47,455.31 608.83,455.19 609.19,455.3 609.54,455.48 609.9,455.43 610.26,455.48 610.62,455.65 610.98,455.69 611.33,455.5 611.69,455.64 612.05,455.38 612.41,455.45 612.76,455.2 613.12,455.17 613.48,454.81 613.84,454.95 614.2,454.61 614.55,454.72 614.91,454.78 615.27,455.05 615.45,454.94 615.63,455.26 615.99,455.18 616.34,455.07 616.7,454.91 617.06,454.96 617.42,455.04 617.77,454.95 618.13,455.19 618.49,455.17 618.85,455.37 619.21,455.32 619.56,455.34 619.92,455.22 620.28,455.48 620.64,455.37 620.99,455.28 621.35,455.51 621.71,455.67 622.07,455.69 622.43,455.65 622.78,455.66 623.14,455.59 623.5,455.46 623.86,455.32 624.21,455.31 624.57,455.12 624.93,455.11 625.29,455.14 625.65,454.99 626,454.88 626.36,454.81 626.72,454.35 627.08,453.8 627.43,453.38 627.79,452.83 628.15,452.58 628.51,452.45 628.87,452.46 629.22,452.36 629.58,452.21 629.94,451.67 630.3,450.86 630.65,449.4 631.01,447.61 631.37,444.94 631.73,441.47 632.09,437.11 632.44,433.14 632.8,431.32 633.16,433.16 633.52,437.26 633.88,441.62 634.23,445.22 634.59,447.93 634.95,449.91 635.31,451.28 635.66,452.36 636.02,452.82 636.38,453.39 636.74,453.81 637.1,454.19 637.45,454.36 637.81,454.62 638.17,454.47 638.53,454.63 638.88,454.59 639.24,454.53 639.6,454.81 639.96,455.08 640.32,455.14 640.67,455.15 641.03,455.41 641.39,455.24 641.75,455.36 642.1,455.31 642.46,455.41 642.82,455.53 643.18,455.75 643.54,455.55 643.89,455.67 644.25,455.89 644.61,455.76 644.97,455.7 645.32,455.84 645.68,455.85 646.04,455.56 646.4,455.5 646.76,455.54 647.11,455.56 647.47,455.45 647.83,455.7 648.19,455.78 648.54,455.67 648.9,455.8 649.26,456.03 649.62,456.1 649.98,456.04 650.33,456.03 650.69,455.84 651.05,455.68 651.41,455.69 651.76,455.8 652.12,455.92 652.48,456.04 652.84,456.17 653.2,456.06 653.55,456.11 653.91,456.25 654.27,456.17 654.63,456.25 654.99,456.23 655.34,456.17 655.7,455.92 656.06,455.88 656.42,455.73 656.77,455.88 657.13,455.78 657.49,455.81 657.85,455.83 658.21,455.65 658.56,455.49 658.92,455.6 659.28,455.66 659.64,455.85 659.99,455.98 660.35,456.1 660.71,456.01 661.07,455.98 661.43,455.79 661.78,455.94 662.14,455.74 662.5,455.65 662.86,455.52 663.21,455.49 663.57,455.5 663.93,455.48 664.29,455.75 664.65,455.75 665,456.01 665.36,456.06 665.72,456.18 666.08,456.22 666.43,456.23 666.79,455.92 667.15,455.84 667.51,455.68 667.87,455.59 668.22,455.63 668.58,455.91 668.94,455.68 669.3,455.82 669.65,455.86 670.01,455.99 670.37,456.04 670.73,456.35 671.09,456.34 671.44,456.22 671.8,456.03 672.16,455.85 672.52,455.74 672.88,455.82 673.23,456.02 673.59,456.05 673.95,455.99 674.31,456.01 674.66,455.84 675.02,455.61 675.38,455.71 675.74,455.79 676.1,455.58 676.45,455.53 676.81,455.5 677.17,455.66 677.53,455.66 677.88,455.74 678.24,455.88 678.6,456.03" fill="none" stroke="#4a4a4a" stroke-width="0.9" stroke-linejoin="round" /><polyline points="499.7,428.13 500.06,428.19 500.42,427.96 500.77,427.94 501.13,427.49 501.49,427.58 501.85,427.48 502.2,427.84 502.56,428.08 502.92,428.27 503.28,428.3 503.64,428.41 503.99,428.09 504.35,427.92 504.71,428.06 505.07,427.77 505.42,427.45 505.78,427.78 506.14,427.64 506.5,427.39 506.86,427.51 507.21,427.84 507.57,427.35 507.93,427.58 508.29,427.89 508.64,428.01 509,427.64 509.36,427.81 509.72,427.56 510.08,427.21 510.43,426.97 510.79,426.89 511.15,426.99 511.51,427.1 511.87,427.02 512.22,426.94 512.58,426.96 512.94,426.81 513.3,426.68 513.65,427.01 514.01,427.12 514.37,427.3 514.73,427.41 515.09,427.44 515.44,427.13 515.8,426.69 516.16,425.92 516.52,424.72 516.87,412.16 517.23,240.26 517.59,-304.43 517.77,-441.74 517.95,-304.74 518.31,239.82 518.66,411.68 519.02,423.92 519.38,425.36 519.74,426.08 520.09,426.27 520.45,426.3 520.81,426.57 521.17,426.43 521.53,426.27 521.88,426.42 522.24,426.64 522.6,426.88 522.96,426.98 523.31,427.1 523.67,427.09 524.03,426.23 524.39,425.16 524.75,424.82 525.1,425 525.46,425.56 525.82,426.11 526.18,426.67 526.53,426.91 526.89,427.26 527.25,427.27 527.61,427.68 527.97,427.66 528.32,427.37 528.68,427.32 529.04,427.51 529.4,427.15 529.76,427.2 530.11,427.63 530.47,427.81 530.83,427.87 531.19,428.06 531.54,427.92 531.9,427.74 532.26,427.72 532.62,427.57 532.98,427.35 533.33,427.45 533.69,427.11 534.05,426.62 534.41,426.67 534.76,426.6 535.12,426.25 535.48,426.32 535.84,426.78 536.2,426.72 536.55,427.25 536.91,427.52 537.27,427.65 537.63,427.35 537.98,427.26 538.34,427.21 538.7,427.19 539.06,427.34 539.42,427.37 539.77,427.38 540.13,427.36 540.49,427.29 540.85,427.07 541.2,427.46 541.56,427.51 541.92,427.39 542.28,427.31 542.64,427.35 542.99,427.42 543.35,427.64 543.71,427.9 544.07,427.82 544.42,427.63 544.78,427.19 545.14,427.19 545.5,427.16 545.86,427.17 546.21,427.12 546.57,427.49 546.93,427.38 547.29,427.36 547.65,427.4 548,427.47 548.36,427.42 548.72,427.4 549.08,427.12 549.43,427.34 549.79,427.24 550.15,427.05 550.51,427.13 550.87,427.08 551.22,426.77 551.58,427.04 551.94,427.01 552.3,426.49 552.65,426.31 553.01,426.31 553.37,425.96 553.73,425.83 554.09,425.95 554.44,425.75 554.8,425.22 555.16,424.76 555.52,423.9 555.87,422.86 556.23,421.12 556.59,418.97 556.95,415.08 557.31,409.34 557.66,401.47 558.02,392.54 558.38,387.65 558.74,392.67 559.09,402.18 559.45,409.6 559.81,414.84 560.17,418.48 560.53,420.52 560.88,421.76 561.24,423.26 561.6,424.31 561.96,424.94 562.32,425.58 562.67,426.11 563.03,426.11 563.39,426.04 563.75,425.94 564.1,426.26 564.46,426.42 564.82,426.72 565.18,426.72 565.54,427.17 565.89,427.19 566.25,427.23 566.61,427.23 566.97,427.58 567.32,427.62 567.68,427.27 568.04,427.3 568.4,427.1 568.76,426.99 569.11,427.11 569.47,427.09 569.83,426.9 570.19,426.86 570.54,426.68 570.9,426.28 571.26,426.72 571.62,426.91 571.98,427.31 572.33,427.58 572.69,428 573.05,427.89 573.41,427.63 573.76,427.61 574.12,427.41 574.48,427.2 574.84,427.18 575.2,427.18 575.55,426.8 575.91,426.91 576.27,426.76 576.63,426.88 576.98,427.19 577.34,427.18 577.7,427.12 578.06,427.16 578.42,426.78 578.77,426.8 579.13,426.85 579.49,426.66 579.85,426.13 580.21,425.83 580.56,424.27 580.92,422.65 581.28,420.54 581.46,420.23 581.64,420.4 581.99,423.05 582.35,424.91 582.71,425.63 583.07,426.42 583.43,426.82 583.78,426.85 584.14,426.84 584.5,427.1 584.86,427.03 585.21,426.91 585.57,427.16 585.93,427.03 586.29,427.23 586.65,427.31 587,427.46 587.36,427.41 587.72,427.62 588.08,427.36 588.43,427.52 588.79,427.63 589.15,427.26 589.51,426.9 589.87,427.24 590.22,427.16 590.58,427.24 590.94,427.26 591.3,427.3 591.65,426.86 592.01,426.75 592.37,426.77 592.73,426.79 593.09,426.84 593.44,426.93 593.8,426.56 594.16,426.24 594.52,426.59 594.87,426.45 595.23,426.51 595.59,426.55 595.95,426.25 596.31,426 596.66,426.14 597.02,425.95 597.38,425.63 597.74,425.49 598.1,424.59 598.45,423.37 598.81,422.03 599.17,420.09 599.53,417.23 599.88,412.9 600.24,406.42 600.6,398.68 600.96,395.18 601.32,398.87 601.67,406.38 602.03,413.23 602.39,417.65 602.75,420.23 603.1,422.21 603.46,423.25 603.82,423.87 604.18,424.7 604.54,425.51 604.89,425.97 605.25,426.18 605.61,426.22 605.97,426.33 606.32,426.05 606.68,425.9 607.04,426.37 607.4,426.85 607.76,427.03 608.11,427.04 608.47,426.97 608.83,426.62 609.19,426.23 609.54,426.27 609.9,426.58 610.26,426.89 610.62,426.84 610.98,426.68 611.33,426.32 611.69,425.7 612.05,425.14 612.41,424.77 612.76,425.08 613.12,425.33 613.48,425.66 613.84,425.56 614.2,426.2 614.55,426.37 614.91,426.77 615.27,426.74 615.63,426.8 615.99,426.37 616.34,426.33 616.7,426.34 617.06,426.37 617.42,426.67 617.77,426.57 618.13,426.39 618.49,426.18 618.85,425.81 619.21,425.17 619.56,425.21 619.92,425.46 620.28,425.86 620.64,426.59 620.99,426.91 621.35,427 621.71,427.02 622.07,426.65 622.43,426.5 622.78,426.24 623.14,426.16 623.5,426.05 623.86,426.2 624.21,425.78 624.57,425.95 624.93,425.55 625.29,425.83 625.65,425.46 626,425.64 626.36,425.44 626.72,425.48 627.08,424.92 627.43,424.92 627.79,424.36 628.15,423.67 628.51,423.13 628.87,422.51 629.22,421.67 629.58,420.54 629.94,419.44 630.3,417.45 630.65,415.3 631.01,412.34 631.37,409.01 631.73,404.88 632.09,401.35 632.44,398.59 632.8,397.46 633.16,398.83 633.52,402.02 633.88,405.59 634.23,409.04 634.59,412.54 634.95,415.27 635.31,417.4 635.66,419.35 636.02,420.92 636.38,422.09 636.74,422.9 637.1,423.33 637.45,423.76 637.81,423.92 638.17,424.06 638.53,424.46 638.88,424.94 639.24,425.53 639.6,426.05 639.96,426.33 640.32,426.33 640.67,426.41 641.03,426.29 641.39,426.31 641.75,426.51 642.1,426.64 642.46,426.58 642.82,426.47 643.18,426.66 643.54,426.77 643.89,426.78 644.25,426.95 644.61,427.21 644.97,426.88 645.32,426.53 645.68,426.43 646.04,426.61 646.4,426.62 646.76,426.93 647.11,427.04 647.47,426.91 647.83,426.24 648.19,425.78 648.54,424.92 648.9,424.18 649.08,424.24 649.26,424.42 649.62,424.77 649.98,425.55 650.33,426.08 650.69,426.57 651.05,426.8 651.41,426.84 651.76,427.04 652.12,427.25 652.48,427.23 652.84,427.17 653.2,427.33 653.55,427.39 653.91,427.49 654.27,427.14 654.63,427.39 654.99,427.22 655.34,426.85 655.7,426.38 656.06,426.37 656.42,425.92 656.77,425.66 657.13,425.59 657.49,425.85 657.85,426.13 658.21,426.4 658.56,426.74 658.92,426.7 659.28,426.77 659.64,426.84 659.99,427.17 660.35,427.36 660.71,427.52 661.07,427.52 661.43,427.52 661.78,427.34 662.14,427.34 662.5,427.64 662.86,427.89 663.21,428.03 663.57,428.19 663.93,428.06 664.29,428.04 664.65,428.07 665,427.86 665.36,427.66 665.72,427.91 666.08,427.78 666.43,427.62 666.79,427.77 667.15,428.03 667.51,427.85 667.87,427.59 668.22,427.57 668.58,427.43 668.94,427.1 669.3,426.92 669.65,427.2 670.01,427.5 670.37,427.68 670.73,427.73 671.09,427.69 671.44,427.39 671.8,427.18 672.16,426.98 672.52,427.09 672.88,427.22 673.23,427.6 673.59,427.7 673.95,427.87 674.31,428.14 674.66,428.28 675.02,428.04 675.38,427.95 675.74,428.09 676.1,427.86 676.45,427.97 676.81,428 677.17,428.2 677.53,428.08 677.88,428.03 678.24,427.89 678.6,428.08" fill="none" stroke="#ff3b3b" stroke-width="0.9" stroke-linejoin="round" /></g><rect x="499.7" y="341.5" width="178.9" height="129.3" fill="none" stroke="#333" stroke-width="1"/><line x1="517.59" y1="470.8" x2="517.59" y2="467.4" stroke="#333" stroke-width="1" /><line x1="517.59" y1="341.5" x2="517.59" y2="344.9" stroke="#333" stroke-width="1" /><text x="517.59" y="482" font-size="9.9" text-anchor="middle" fill="#000" style="">800</text><line x1="553.37" y1="470.8" x2="553.37" y2="467.4" stroke="#333" stroke-width="1" /><line x1="553.37" y1="341.5" x2="553.37" y2="344.9" stroke="#333" stroke-width="1" /><text x="553.37" y="482" font-size="9.9" text-anchor="middle" fill="#000" style="">1000</text><line x1="589.15" y1="470.8" x2="589.15" y2="467.4" stroke="#333" stroke-width="1" /><line x1="589.15" y1="341.5" x2="589.15" y2="344.9" stroke="#333" stroke-width="1" /><text x="589.15" y="482" font-size="9.9" text-anchor="middle" fill="#000" style="">1200</text><line x1="624.93" y1="470.8" x2="624.93" y2="467.4" stroke="#333" stroke-width="1" /><line x1="624.93" y1="341.5" x2="624.93" y2="344.9" stroke="#333" stroke-width="1" /><text x="624.93" y="482" font-size="9.9" text-anchor="middle" fill="#000" style="">1400</text><line x1="660.71" y1="470.8" x2="660.71" y2="467.4" stroke="#333" stroke-width="1" /><line x1="660.71" y1="341.5" x2="660.71" y2="344.9" stroke="#333" stroke-width="1" /><text x="660.71" y="482" font-size="9.9" text-anchor="middle" fill="#000" style="">1600</text><line x1="499.7" y1="470.8" x2="499.7" y2="468.9" stroke="#333" stroke-width="1" /><line x1="499.7" y1="341.5" x2="499.7" y2="343.4" stroke="#333" stroke-width="1" /><line x1="535.48" y1="470.8" x2="535.48" y2="468.9" stroke="#333" stroke-width="1" /><line x1="535.48" y1="341.5" x2="535.48" y2="343.4" stroke="#333" stroke-width="1" /><line x1="571.26" y1="470.8" x2="571.26" y2="468.9" stroke="#333" stroke-width="1" /><line x1="571.26" y1="341.5" x2="571.26" y2="343.4" stroke="#333" stroke-width="1" /><line x1="607.04" y1="470.8" x2="607.04" y2="468.9" stroke="#333" stroke-width="1" /><line x1="607.04" y1="341.5" x2="607.04" y2="343.4" stroke="#333" stroke-width="1" /><line x1="642.82" y1="470.8" x2="642.82" y2="468.9" stroke="#333" stroke-width="1" /><line x1="642.82" y1="341.5" x2="642.82" y2="343.4" stroke="#333" stroke-width="1" /><line x1="678.6" y1="470.8" x2="678.6" y2="468.9" stroke="#333" stroke-width="1" /><line x1="678.6" y1="341.5" x2="678.6" y2="343.4" stroke="#333" stroke-width="1" /><line x1="499.7" y1="470.8" x2="503.1" y2="470.8" stroke="#333" stroke-width="1" /><line x1="678.6" y1="470.8" x2="675.2" y2="470.8" stroke="#333" stroke-width="1" /><text x="496.2" y="474.4" font-size="9.9" text-anchor="end" fill="#000" style="">0</text><line x1="499.7" y1="384.6" x2="503.1" y2="384.6" stroke="#333" stroke-width="1" /><line x1="678.6" y1="384.6" x2="675.2" y2="384.6" stroke="#333" stroke-width="1" /><text x="496.2" y="388.2" font-size="9.9" text-anchor="end" fill="#000" style="">4</text><line x1="499.7" y1="427.7" x2="501.6" y2="427.7" stroke="#333" stroke-width="1" /><line x1="678.6" y1="427.7" x2="676.7" y2="427.7" stroke="#333" stroke-width="1" /><line x1="499.7" y1="341.5" x2="501.6" y2="341.5" stroke="#333" stroke-width="1" /><line x1="678.6" y1="341.5" x2="676.7" y2="341.5" stroke="#333" stroke-width="1" /><text x="589.95" y="494.5" font-size="10.8" text-anchor="middle" fill="#000" style="">Raman shift (cm<tspan font-size="7.5" dy="-4">−1</tspan><tspan dy="4">)</tspan></text><text x="486.3" y="406.15" font-size="10.8" text-anchor="middle" fill="#000" transform="rotate(-90 486.3 406.15)" style="">SERS Intensity (Counts, 10<tspan dx="1.6" dy="-4" font-size="7">3</tspan><tspan dy="4">)</tspan></text><text x="647.1" y="421.2" font-size="9" text-anchor="start" fill="#000" style="">10<tspan font-size="5" dy="-3.6">-6</tspan><tspan dy="3.6"> M</tspan></text><text x="655" y="451.8" font-size="9" text-anchor="start" fill="#000" style="">0 M</text><text x="551.7" y="380" font-size="5.3" text-anchor="middle" fill="#222" dominant-baseline="central">P</text><text x="551.7" y="369.8" font-size="5.3" text-anchor="middle" fill="#222" dominant-baseline="central">O</text><text x="551.7" y="389.5" font-size="5.3" text-anchor="middle" fill="#222" dominant-baseline="central">OH</text><line x1="551.3" y1="372" x2="551.3" y2="377.5" stroke="#333" stroke-width="0.6" /><line x1="552.1" y1="372" x2="552.1" y2="377.5" stroke="#333" stroke-width="0.6" /><line x1="551.7" y1="382.5" x2="551.7" y2="387" stroke="#333" stroke-width="0.6" /><text x="572.5" y="380" font-size="5.3" text-anchor="middle" fill="#222" dominant-baseline="central">P</text><text x="572.5" y="369.8" font-size="5.3" text-anchor="middle" fill="#222" dominant-baseline="central">O</text><text x="572.5" y="389.5" font-size="5.3" text-anchor="middle" fill="#222" dominant-baseline="central">OH</text><line x1="572.1" y1="372" x2="572.1" y2="377.5" stroke="#333" stroke-width="0.6" /><line x1="572.9" y1="372" x2="572.9" y2="377.5" stroke="#333" stroke-width="0.6" /><line x1="572.5" y1="382.5" x2="572.5" y2="387" stroke="#333" stroke-width="0.6" /><text x="593" y="380" font-size="5.3" text-anchor="middle" fill="#222" dominant-baseline="central">P</text><text x="593" y="369.8" font-size="5.3" text-anchor="middle" fill="#222" dominant-baseline="central">O</text><text x="593" y="389.5" font-size="5.3" text-anchor="middle" fill="#222" dominant-baseline="central">OH</text><line x1="592.6" y1="372" x2="592.6" y2="377.5" stroke="#333" stroke-width="0.6" /><line x1="593.4" y1="372" x2="593.4" y2="377.5" stroke="#333" stroke-width="0.6" /><line x1="593" y1="382.5" x2="593" y2="387" stroke="#333" stroke-width="0.6" /><text x="539.5" y="380" font-size="5.3" text-anchor="middle" fill="#222" dominant-baseline="central">HO</text><text x="561.7" y="380" font-size="5.3" text-anchor="middle" fill="#222" dominant-baseline="central">O</text><text x="583.2" y="380" font-size="5.3" text-anchor="middle" fill="#222" dominant-baseline="central">O</text><line x1="543" y1="380" x2="549.5" y2="380" stroke="#333" stroke-width="0.6" /><line x1="554" y1="380" x2="559.5" y2="380" stroke="#333" stroke-width="0.6" /><line x1="564" y1="380" x2="570" y2="380" stroke="#333" stroke-width="0.6" /><line x1="575" y1="380" x2="581" y2="380" stroke="#333" stroke-width="0.6" /><line x1="585.5" y1="380" x2="590.8" y2="380" stroke="#333" stroke-width="0.6" /><line x1="595.3" y1="380" x2="601.5" y2="380" stroke="#333" stroke-width="0.6" /><text x="603.6" y="379.7" font-size="5.3" text-anchor="middle" fill="#222" dominant-baseline="central">O</text><line x1="605.5" y1="381" x2="612" y2="387.1" stroke="#333" stroke-width="0.85" /><line x1="612" y1="387.1" x2="621" y2="387.1" stroke="#333" stroke-width="0.85" /><line x1="621" y1="387.1" x2="627.8" y2="382.8" stroke="#333" stroke-width="0.85" /><line x1="631.6" y1="382.8" x2="637.1" y2="386.5" stroke="#333" stroke-width="0.85" /><text x="629.7" y="381.7" font-size="6.0" text-anchor="middle" fill="#222" dominant-baseline="central">O</text><line x1="637.1" y1="386.5" x2="635.1" y2="394.1" stroke="#333" stroke-width="1.2" /><line x1="621" y1="387.1" x2="624.7" y2="394.1" stroke="#333" stroke-width="1.2" /><line x1="624.7" y1="394.1" x2="635.1" y2="394.1" stroke="#333" stroke-width="1.8" /><line x1="624.7" y1="394.1" x2="621" y2="399.5" stroke="#333" stroke-width="0.85" /><line x1="635.1" y1="394.1" x2="639" y2="399.5" stroke="#333" stroke-width="0.85" /><text x="617" y="403" font-size="5.3" text-anchor="middle" fill="#222" dominant-baseline="central">HO</text><text x="642" y="403" font-size="5.3" text-anchor="middle" fill="#222" dominant-baseline="central">OH</text><line x1="637.1" y1="386.5" x2="638.1" y2="379.5" stroke="#333" stroke-width="0.85" /><text x="638.1" y="376.7" font-size="6.0" text-anchor="middle" fill="#222" dominant-baseline="central">N</text><line x1="636.5" y1="374.5" x2="633.1" y2="368" stroke="#333" stroke-width="0.85" /><line x1="633.1" y1="368" x2="636.5" y2="362" stroke="#333" stroke-width="0.85" /><line x1="634.6" y1="367.2" x2="637.5" y2="362.5" stroke="#333" stroke-width="0.85" /><text x="638.1" y="360" font-size="6.0" text-anchor="middle" fill="#222" dominant-baseline="central">N</text><line x1="640" y1="360.8" x2="648.1" y2="362" stroke="#333" stroke-width="0.85" /><line x1="648.1" y1="362" x2="648.1" y2="374" stroke="#333" stroke-width="0.85" /><line x1="646.8" y1="363.5" x2="646.8" y2="372.5" stroke="#333" stroke-width="0.85" /><line x1="648.1" y1="374" x2="640" y2="377" stroke="#333" stroke-width="0.85" /><line x1="648.1" y1="362" x2="658.1" y2="357" stroke="#333" stroke-width="0.85" /><line x1="658.1" y1="357" x2="664.5" y2="361.5" stroke="#333" stroke-width="0.85" /><line x1="657.5" y1="358.8" x2="663" y2="362.2" stroke="#333" stroke-width="0.85" /><text x="666.2" y="363.5" font-size="6.0" text-anchor="middle" fill="#222" dominant-baseline="central">N</text><line x1="666.2" y1="365.5" x2="666.2" y2="371" stroke="#333" stroke-width="0.85" /><line x1="664.5" y1="374" x2="659" y2="377" stroke="#333" stroke-width="0.85" /><line x1="664" y1="372.4" x2="658.6" y2="375.4" stroke="#333" stroke-width="0.85" /><text x="657.1" y="378" font-size="6.0" text-anchor="middle" fill="#222" dominant-baseline="central">N</text><line x1="655" y1="378" x2="648.1" y2="374" stroke="#333" stroke-width="0.85" /><line x1="658.1" y1="357" x2="658.1" y2="350.5" stroke="#333" stroke-width="0.85" /><text x="661" y="347.5" font-size="5.8" text-anchor="middle" fill="#222" dominant-baseline="central">NH<tspan font-size="3.8" dy="1.3">2</tspan></text><g clip-path="url(#cp9)"><line x1="50.99" y1="642.25" x2="50.99" y2="584.34" stroke="#484848" stroke-width="1.1" stroke-dasharray="3.6,2.3" /><line x1="187.92" y1="642.25" x2="187.92" y2="584.34" stroke="#484848" stroke-width="1.1" stroke-dasharray="3.6,2.3" /><line x1="194.19" y1="642.25" x2="194.19" y2="584.34" stroke="#484848" stroke-width="1.1" stroke-dasharray="3.6,2.3" /><polyline points="44.5,630.75 44.95,630.53 45.4,630.6 45.84,630.49 46.29,630.34 46.74,630.26 47.19,630.21 47.63,630.03 48.08,630.03 48.53,630.13 48.98,630.07 49.42,630.27 49.87,630.18 50.32,630.23 50.77,630.1 51.21,630.01 51.66,630.12 52.11,630.37 52.55,630.34 53,630.4 53.45,630.62 53.9,630.42 54.34,630.37 54.79,630.26 55.24,630.22 55.69,630.01 56.13,630.15 56.58,630.01 57.03,630.12 57.48,630.14 57.92,630.22 58.37,629.96 58.82,629.87 59.27,629.72 59.72,629.7 60.16,629.55 60.61,629.63 61.06,629.87 61.5,629.76 61.95,629.83 62.4,630.03 62.85,629.98 63.3,629.77 63.74,629.87 64.19,629.45 64.64,629.07 65.09,628.41 65.53,627.61 65.98,626.02 66.43,565.55 66.88,-14.09 67.1,-233.73 67.32,-13.89 67.77,565.47 68.22,625.93 68.67,627.4 69.11,627.91 69.56,628.34 70.01,628.59 70.45,628.94 70.9,629.22 71.35,629.44 71.8,629.6 72.25,629.67 72.69,629.67 73.14,629.61 73.59,629.82 74.03,629.98 74.48,630.3 74.93,630.4 75.38,630.51 75.83,630.34 76.27,630.2 76.72,630.17 77.17,630.13 77.62,630.13 78.06,630.26 78.51,630.22 78.96,630.29 79.41,630.38 79.85,630.4 80.3,630.28 80.75,630.28 81.19,630.11 81.64,629.97 82.09,630.05 82.54,630.09 82.98,630.38 83.43,630.35 83.88,630.51 84.33,630.34 84.78,630.46 85.22,630.36 85.67,630.24 86.12,630.38 86.56,630.43 87.01,630.23 87.46,630.14 87.91,630.28 88.35,630.11 88.8,630 89.25,630.13 89.7,630.14 90.15,630.1 90.59,630.02 91.04,630.18 91.49,630.26 91.94,630.24 92.38,630.36 92.83,630.34 93.28,630.16 93.72,629.9 94.17,630.02 94.62,629.81 95.07,629.94 95.51,630.16 95.96,630.23 96.41,630.13 96.86,630.18 97.31,630.11 97.75,630.07 98.2,630 98.65,630.1 99.09,630.12 99.54,630.29 99.99,630.37 100.44,630.31 100.88,630.33 101.33,630.37 101.78,630.33 102.23,630.09 102.68,630.24 103.12,630.27 103.57,630.28 104.02,629.94 104.47,629.89 104.91,629.95 105.36,629.58 105.81,629.58 106.25,629.65 106.7,629.64 107.15,629.26 107.6,629.42 108.04,629.01 108.49,628.92 108.94,628.65 109.39,628.38 109.83,627.99 110.28,628.02 110.73,627.63 111.18,627.5 111.62,627.36 112.07,627.12 112.52,626.92 112.97,626.77 113.42,626.44 113.86,625.98 114.31,625.46 114.76,624.43 115.2,623.08 115.65,621.33 116.1,618.47 116.55,614.2 117,608.26 117.44,602.06 117.89,598.87 118.34,602.17 118.78,608.79 119.23,614.69 119.68,618.83 120.13,621.84 120.58,623.98 121.02,625.12 121.47,626.41 121.92,627.26 122.36,627.78 122.81,627.93 123.26,628.38 123.71,628.47 124.16,628.68 124.6,628.72 125.05,628.87 125.5,629.09 125.95,629.13 126.39,629.07 126.84,629.31 127.29,629.63 127.73,629.78 128.18,629.77 128.63,630.07 129.08,629.99 129.52,629.99 129.97,629.96 130.42,630.27 130.87,630.08 131.31,630.34 131.76,630.26 132.21,630.08 132.66,629.96 133.11,630.25 133.55,630.29 134,630.17 134.45,630.35 134.89,630.51 135.34,630.33 135.79,630.07 136.24,630.25 136.69,630.3 137.13,630.26 137.58,630.27 138.03,630.26 138.48,630.33 138.92,630.09 139.37,629.9 139.82,629.85 140.26,629.95 140.71,629.93 141.16,629.96 141.61,629.99 142.06,629.86 142.5,629.86 142.95,629.66 143.4,629.61 143.85,629.28 144.29,629.04 144.74,628.17 145.19,626.93 145.63,624.89 146.08,621.94 146.53,618.4 146.75,617.83 146.98,618.53 147.43,621.69 147.87,624.53 148.32,626.6 148.77,627.61 149.21,628.05 149.66,628.46 150.11,629.01 150.56,629.25 151,629.52 151.45,629.86 151.9,630 152.35,629.83 152.8,629.76 153.24,629.7 153.69,629.52 154.14,629.6 154.58,629.63 155.03,629.71 155.48,629.71 155.93,629.91 156.38,629.94 156.82,629.88 157.27,629.78 157.72,629.92 158.17,629.66 158.61,629.4 159.06,629.37 159.51,629.39 159.95,629.36 160.4,629.45 160.85,629.33 161.3,629.08 161.75,629.01 162.19,628.8 162.64,628.51 163.09,628.15 163.54,628.05 163.98,627.42 164.43,626.79 164.88,626.3 165.32,626.04 165.77,625.74 166.22,625.91 166.67,625.95 167.12,625.93 167.56,625.71 168.01,625.23 168.46,624.09 168.9,622.73 169.35,620.47 169.8,617.13 170.25,612.33 170.69,607.05 171.14,604.25 171.59,606.92 172.04,612.22 172.49,617.27 172.93,621.07 173.38,623.8 173.83,625.29 174.28,626.34 174.72,626.89 175.17,627.49 175.62,627.86 176.06,628.37 176.51,628.71 176.96,629.14 177.41,629.15 177.85,629.27 178.3,629.28 178.75,629.31 179.2,629.16 179.65,629.4 180.09,629.37 180.54,629.51 180.99,629.85 181.44,629.91 181.88,629.97 182.33,630.14 182.78,630.01 183.22,629.73 183.67,629.9 184.12,629.72 184.57,629.67 185.02,629.9 185.46,629.98 185.91,630.02 186.36,630.15 186.81,630.09 187.25,629.79 187.7,629.81 188.15,629.69 188.59,629.47 189.04,629.46 189.27,629.48 189.49,629.33 189.94,629.37 190.38,629.35 190.83,629.23 191.28,629.5 191.73,629.8 192.17,629.93 192.62,630.12 193.07,630.38 193.52,630.17 193.97,629.88 194.41,629.77 194.86,629.85 195.31,629.88 195.75,629.81 196.2,629.86 196.65,629.71 197.1,629.44 197.54,629.34 197.99,629.37 198.44,629.51 198.89,629.72 199.34,629.79 199.78,629.77 200.23,629.78 200.68,629.63 201.12,629.51 201.57,629.64 202.02,629.39 202.47,629.17 202.91,628.92 203.36,628.68 203.81,628.31 204.26,628.04 204.71,627.84 205.15,627.5 205.6,627.12 206.05,626.77 206.5,626.4 206.94,626.11 207.39,625.73 207.84,624.9 208.28,623.58 208.73,621.8 209.18,619.03 209.63,615.57 210.08,611.32 210.52,607.35 210.97,605.76 211.42,607.89 211.87,612.13 212.31,616.35 212.76,619.8 213.21,622.14 213.66,623.85 214.1,624.98 214.55,625.92 215,626.64 215.44,627.45 215.89,627.96 216.34,628.4 216.79,628.94 217.23,629.16 217.68,629.15 218.13,629.33 218.58,629.6 219.03,629.73 219.47,629.89 219.92,630.16 220.37,630.18 220.81,629.92 221.26,629.93 221.71,629.98 222.16,629.88 222.6,630.02 223.05,630.27 223.5,630.24" fill="none" stroke="#4a4a4a" stroke-width="0.9" stroke-linejoin="round" /><polyline points="44.5,601.23 44.95,601.3 45.4,601.1 45.84,601.39 46.29,600.95 46.74,601.24 47.19,600.97 47.63,601.24 48.08,601.36 48.53,601.65 48.98,601.4 49.42,601.9 49.87,601.91 50.32,601.99 50.77,602.13 51.21,602.37 51.66,602.26 52.11,602.32 52.55,601.92 53,601.74 53.45,601.38 53.9,601.03 54.34,600.7 54.79,600.61 55.24,600.52 55.69,600.61 56.13,600.61 56.58,600.78 57.03,601.18 57.48,601.2 57.92,601.26 58.37,601.6 58.82,601.81 59.27,601.77 59.72,601.65 60.16,601.48 60.61,601.19 61.06,600.98 61.5,601 61.95,601.29 62.4,601.28 62.85,601.23 63.3,601.06 63.74,600.79 64.19,600.44 64.64,600.28 65.09,599.9 65.53,598.96 65.98,597.11 66.43,535.98 66.88,-43.85 67.1,-264.01 67.32,-44.14 67.77,535.32 68.22,596.43 68.67,597.93 69.11,598.65 69.56,599.19 70.01,599.77 70.45,599.63 70.9,599.91 71.35,600.38 71.8,600.56 72.25,600.45 72.69,600.62 73.14,600.63 73.59,600.52 74.03,600.57 74.48,600.99 74.93,601.07 75.38,601.47 75.83,601.39 76.27,601.29 76.72,601.15 77.17,601.47 77.62,601.53 78.06,601.64 78.51,602.04 78.96,601.85 79.41,601.58 79.85,601.35 80.3,601.27 80.75,601.28 81.19,601.43 81.64,601.72 82.09,601.7 82.54,601.64 82.98,601.64 83.43,601.52 83.88,601.03 84.33,601.15 84.78,601.45 85.22,601.4 85.67,601.33 86.12,601.8 86.56,601.56 87.01,601.54 87.46,601.28 87.91,601.25 88.35,600.85 88.8,601.15 89.25,601 89.7,601.23 90.15,601.23 90.59,601.51 91.04,601.52 91.49,601.59 91.94,601.71 92.38,602.04 92.83,601.83 93.28,601.74 93.72,601.85 94.17,601.41 94.62,601.39 95.07,601.33 95.51,601.14 95.96,600.95 96.41,601.09 96.86,600.92 97.31,600.89 97.75,600.88 98.2,601.02 98.65,601 99.09,601.03 99.54,600.98 99.99,601.26 100.44,601.16 100.88,600.98 101.33,601.2 101.78,601.28 102.23,600.86 102.68,600.76 103.12,601.2 103.57,600.82 104.02,601.03 104.47,601.19 104.91,601.05 105.36,600.88 105.81,601.11 106.25,601.13 106.7,601.16 107.15,601.45 107.6,601.16 108.04,600.75 108.49,600.65 108.94,600.38 109.39,599.81 109.83,599.49 110.28,599.44 110.73,598.8 111.18,598.34 111.62,598.2 112.07,597.97 112.52,597.62 112.97,597.33 113.42,597.43 113.86,597.3 114.31,596.89 114.76,596.12 115.2,595.06 115.65,592.85 116.1,589.17 116.55,584.01 117,576.92 117.44,568.41 117.89,563.8 118.34,568.38 118.78,577.32 119.23,584.26 119.68,589.25 120.13,592.92 120.58,595.12 121.02,596.49 121.47,597.7 121.92,598.24 122.36,598.8 122.81,599.19 123.26,599.27 123.71,599.61 124.16,599.75 124.6,599.49 125.05,599.44 125.5,599.67 125.95,599.94 126.39,599.95 126.84,600.3 127.29,600.57 127.73,600.65 128.18,600.4 128.63,600.45 129.08,600.24 129.52,599.77 129.97,599.42 130.42,599.09 130.87,599.03 131.31,598.69 131.76,598.8 132.21,598.96 132.66,599.46 133.11,599.55 133.55,599.82 134,600.24 134.45,600.33 134.89,600.36 135.34,600.64 135.79,600.91 136.24,600.87 136.69,600.98 137.13,600.8 137.58,600.81 138.03,600.73 138.48,600.7 138.92,601.06 139.37,601.07 139.82,601.1 140.26,601.35 140.71,601.45 141.16,601.34 141.61,601.36 142.06,601.43 142.5,601.3 142.95,600.86 143.4,600.72 143.85,600.44 144.29,600.22 144.74,599.75 145.19,599.23 145.63,597.53 146.08,594.55 146.53,589.91 146.75,588.49 146.98,589.08 147.43,593.47 147.87,596.43 148.32,597.81 148.77,598.69 149.21,599.38 149.66,599.93 150.11,600.35 150.56,600.91 151,601.3 151.45,601.16 151.9,601.07 152.35,601.05 152.8,600.62 153.24,600.49 153.69,600.82 154.14,600.77 154.58,601.07 155.03,601.17 155.48,601.2 155.93,601.24 156.38,601.28 156.82,600.9 157.27,601.27 157.72,601.49 158.17,601.32 158.61,601.13 159.06,601.28 159.51,600.96 159.95,601.06 160.4,601.06 160.85,601.16 161.3,601.38 161.75,601.4 162.19,601.23 162.64,601.31 163.09,601.13 163.54,600.68 163.98,600.87 164.43,600.87 164.88,600.61 165.32,600.41 165.77,600.35 166.22,599.97 166.67,599.36 167.12,598.87 167.56,598.82 168.01,598.46 168.46,597.44 168.9,596 169.35,593.94 169.8,590.14 170.25,584.5 170.69,577.6 171.14,574.1 171.59,577.97 172.04,585.11 172.49,590.47 172.93,593.91 173.38,596.02 173.83,597.31 174.28,598.24 174.72,598.97 175.17,599.45 175.62,599.61 176.06,599.76 176.51,599.75 176.96,600.14 177.41,600.11 177.85,600.29 178.3,600.54 178.75,600.95 179.2,600.97 179.65,601.36 180.09,601.55 180.54,601.78 180.99,601.35 181.44,600.82 181.88,600.39 182.33,600.02 182.78,599.51 183.22,599.64 183.67,600.07 184.12,600.4 184.57,600.35 185.02,600.4 185.46,600.5 185.91,600.22 186.36,599.86 186.81,599.65 187.25,599.55 187.7,598.8 188.15,598.45 188.59,599.14 189.04,599.86 189.49,600.07 189.94,600.16 190.38,600.4 190.83,600.41 191.28,600.48 191.73,600.75 192.17,600.86 192.62,601.19 193.07,601.11 193.52,601.36 193.97,601.1 194.41,601.11 194.86,601.18 195.31,601.32 195.75,601.3 196.2,601.4 196.65,601.69 197.1,601.26 197.54,601.03 197.99,601.07 198.44,601.19 198.89,601.16 199.34,601.55 199.78,601.67 200.23,601.3 200.68,601.14 201.12,600.98 201.57,600.92 202.02,600.92 202.47,600.79 202.91,600.93 203.36,601 203.81,600.72 204.26,600.58 204.71,600.77 205.15,600.24 205.6,599.63 206.05,599.37 206.5,598.77 206.94,597.92 207.39,597.3 207.84,596.8 208.28,595.56 208.73,593.85 209.18,591.34 209.63,587.73 210.08,582.6 210.52,577.19 210.97,574.79 211.42,577.5 211.87,583.1 212.31,588.12 212.76,591.91 213.21,594.44 213.66,596.5 214.1,597.89 214.55,598.91 215,599.35 215.44,599.71 215.89,599.76 216.34,599.86 216.79,599.85 217.23,599.83 217.68,600.29 218.13,600.51 218.58,600.7 219.03,600.64 219.47,601.11 219.92,601.03 220.37,601.18 220.81,600.96 221.26,601.14 221.71,601.23 222.16,601.19 222.6,601.22 223.05,601.44 223.5,601.71" fill="none" stroke="#ff3b3b" stroke-width="0.9" stroke-linejoin="round" /></g><rect x="44.5" y="515.7" width="179" height="128.7" fill="none" stroke="#333" stroke-width="1"/><line x1="66.88" y1="644.4" x2="66.88" y2="641" stroke="#333" stroke-width="1" /><line x1="66.88" y1="515.7" x2="66.88" y2="519.1" stroke="#333" stroke-width="1" /><text x="66.88" y="655.6" font-size="9.9" text-anchor="middle" fill="#000" style="">800</text><line x1="111.62" y1="644.4" x2="111.62" y2="641" stroke="#333" stroke-width="1" /><line x1="111.62" y1="515.7" x2="111.62" y2="519.1" stroke="#333" stroke-width="1" /><text x="111.62" y="655.6" font-size="9.9" text-anchor="middle" fill="#000" style="">1000</text><line x1="156.38" y1="644.4" x2="156.38" y2="641" stroke="#333" stroke-width="1" /><line x1="156.38" y1="515.7" x2="156.38" y2="519.1" stroke="#333" stroke-width="1" /><text x="156.38" y="655.6" font-size="9.9" text-anchor="middle" fill="#000" style="">1200</text><line x1="201.12" y1="644.4" x2="201.12" y2="641" stroke="#333" stroke-width="1" /><line x1="201.12" y1="515.7" x2="201.12" y2="519.1" stroke="#333" stroke-width="1" /><text x="201.12" y="655.6" font-size="9.9" text-anchor="middle" fill="#000" style="">1400</text><line x1="44.5" y1="644.4" x2="44.5" y2="642.5" stroke="#333" stroke-width="1" /><line x1="44.5" y1="515.7" x2="44.5" y2="517.6" stroke="#333" stroke-width="1" /><line x1="89.25" y1="644.4" x2="89.25" y2="642.5" stroke="#333" stroke-width="1" /><line x1="89.25" y1="515.7" x2="89.25" y2="517.6" stroke="#333" stroke-width="1" /><line x1="134" y1="644.4" x2="134" y2="642.5" stroke="#333" stroke-width="1" /><line x1="134" y1="515.7" x2="134" y2="517.6" stroke="#333" stroke-width="1" /><line x1="178.75" y1="644.4" x2="178.75" y2="642.5" stroke="#333" stroke-width="1" /><line x1="178.75" y1="515.7" x2="178.75" y2="517.6" stroke="#333" stroke-width="1" /><line x1="223.5" y1="644.4" x2="223.5" y2="642.5" stroke="#333" stroke-width="1" /><line x1="223.5" y1="515.7" x2="223.5" y2="517.6" stroke="#333" stroke-width="1" /><line x1="44.5" y1="644.4" x2="47.9" y2="644.4" stroke="#333" stroke-width="1" /><line x1="223.5" y1="644.4" x2="220.1" y2="644.4" stroke="#333" stroke-width="1" /><text x="41" y="648" font-size="9.9" text-anchor="end" fill="#000" style="">0</text><line x1="44.5" y1="558.6" x2="47.9" y2="558.6" stroke="#333" stroke-width="1" /><line x1="223.5" y1="558.6" x2="220.1" y2="558.6" stroke="#333" stroke-width="1" /><text x="41" y="562.2" font-size="9.9" text-anchor="end" fill="#000" style="">4</text><line x1="44.5" y1="601.5" x2="46.4" y2="601.5" stroke="#333" stroke-width="1" /><line x1="223.5" y1="601.5" x2="221.6" y2="601.5" stroke="#333" stroke-width="1" /><line x1="44.5" y1="515.7" x2="46.4" y2="515.7" stroke="#333" stroke-width="1" /><line x1="223.5" y1="515.7" x2="221.6" y2="515.7" stroke="#333" stroke-width="1" /><text x="134.8" y="666.5" font-size="10.8" text-anchor="middle" fill="#000" style="">Raman shift (cm<tspan font-size="7.5" dy="-4">−1</tspan><tspan dy="4">)</tspan></text><text x="31.3" y="580.05" font-size="10.8" text-anchor="middle" fill="#000" transform="rotate(-90 31.3 580.05)" style="">SERS Intensity (Counts, 10<tspan dx="1.6" dy="-4" font-size="7">3</tspan><tspan dy="4">)</tspan></text><text x="76.8" y="596.4" font-size="9" text-anchor="start" fill="#000" style="">10<tspan font-size="5" dy="-3.6">-8</tspan><tspan dy="3.6"> M</tspan></text><text x="84.6" y="625.1" font-size="9" text-anchor="start" fill="#000" style="">0 M</text><text x="139.5" y="525.6" font-size="7.2" text-anchor="middle" fill="#222" dominant-baseline="central">NH<tspan font-size="5" dy="1.8">2</tspan></text><line x1="136" y1="529" x2="136" y2="538.3" stroke="#333" stroke-width="0.85" /><line x1="136" y1="538.3" x2="124.5" y2="543.5" stroke="#333" stroke-width="0.85" /><line x1="136.3" y1="540.2" x2="126" y2="544.8" stroke="#333" stroke-width="0.85" /><text x="122" y="546.2" font-size="7.2" text-anchor="middle" fill="#222" dominant-baseline="central">N</text><line x1="122.5" y1="549.2" x2="124.3" y2="557.5" stroke="#333" stroke-width="0.85" /><line x1="124.3" y1="557.5" x2="132" y2="566" stroke="#333" stroke-width="0.85" /><line x1="126.3" y1="557.5" x2="132.5" y2="564" stroke="#333" stroke-width="0.85" /><text x="134.3" y="567.6" font-size="7.2" text-anchor="middle" fill="#222" dominant-baseline="central">N</text><line x1="137" y1="566" x2="146" y2="558.4" stroke="#333" stroke-width="0.85" /><line x1="146" y1="558.4" x2="146" y2="545" stroke="#333" stroke-width="0.85" /><line x1="144.3" y1="557" x2="144.3" y2="546.5" stroke="#333" stroke-width="0.85" /><line x1="146" y1="545" x2="136" y2="538.3" stroke="#333" stroke-width="0.85" /><line x1="146" y1="545" x2="157.5" y2="541.8" stroke="#333" stroke-width="0.85" /><text x="160.5" y="541.6" font-size="7.2" text-anchor="middle" fill="#222" dominant-baseline="central">N</text><line x1="162.5" y1="544.5" x2="168" y2="552.7" stroke="#333" stroke-width="0.85" /><line x1="161" y1="546" x2="166.2" y2="553.5" stroke="#333" stroke-width="0.85" /><line x1="168" y1="552.7" x2="162.8" y2="562.5" stroke="#333" stroke-width="0.85" /><text x="160.5" y="565.3" font-size="7.2" text-anchor="middle" fill="#222" dominant-baseline="central">N</text><text x="160.5" y="573.3" font-size="7.2" text-anchor="middle" fill="#222" dominant-baseline="central">H</text><line x1="157.5" y1="563.5" x2="146" y2="558.4" stroke="#333" stroke-width="0.85" /><g clip-path="url(#cp10)"><line x1="531.43" y1="641.8" x2="531.43" y2="546.65" stroke="#484848" stroke-width="1.1" stroke-dasharray="3.6,2.3" /><line x1="537.31" y1="641.8" x2="537.31" y2="546.65" stroke="#484848" stroke-width="1.1" stroke-dasharray="3.6,2.3" /><line x1="556.75" y1="641.8" x2="556.75" y2="546.65" stroke="#484848" stroke-width="1.1" stroke-dasharray="3.6,2.3" /><line x1="614.79" y1="641.8" x2="614.79" y2="546.65" stroke="#484848" stroke-width="1.1" stroke-dasharray="3.6,2.3" /><line x1="633.21" y1="641.8" x2="633.21" y2="546.65" stroke="#484848" stroke-width="1.1" stroke-dasharray="3.6,2.3" /><line x1="641.01" y1="641.8" x2="641.01" y2="510.74" stroke="#484848" stroke-width="1.1" stroke-dasharray="3.6,2.3" /><line x1="659.54" y1="641.8" x2="659.54" y2="546.65" stroke="#484848" stroke-width="1.1" stroke-dasharray="3.6,2.3" /><polyline points="498.7,632.35 498.89,632.42 499.08,632.46 499.28,632.42 499.47,632.43 499.66,632.52 499.85,632.5 500.04,632.5 500.23,632.6 500.43,632.57 500.62,632.47 500.81,632.41 501,632.36 501.19,632.33 501.38,632.36 501.58,632.5 501.77,632.49 501.96,632.56 502.15,632.56 502.34,632.46 502.54,632.42 502.73,632.38 502.92,632.32 503.11,632.23 503.3,632.29 503.49,632.32 503.69,632.37 503.88,632.44 504.07,632.5 504.26,632.6 504.45,632.62 504.65,632.68 504.84,632.72 505.03,632.73 505.22,632.59 505.41,632.42 505.6,632.4 505.8,632.39 505.99,632.39 506.18,632.54 506.37,632.68 506.56,632.64 506.75,632.55 506.95,632.6 507.14,632.52 507.33,632.48 507.52,632.52 507.71,632.61 507.91,632.54 508.1,632.61 508.29,632.56 508.48,632.51 508.67,632.41 508.86,632.41 509.06,632.24 509.25,632.3 509.44,632.38 509.63,632.42 509.82,632.32 510.02,632.46 510.21,632.38 510.4,632.24 510.59,632.14 510.78,632.21 510.97,632.15 511.17,632.12 511.36,632.15 511.55,632.14 511.74,632.18 511.93,632.13 512.12,632.13 512.32,632.19 512.51,632.27 512.7,632.11 512.89,632.08 513.08,632.08 513.28,631.97 513.47,631.87 513.66,631.88 513.85,631.82 514.04,631.64 514.23,631.44 514.43,630.96 514.62,630.29 514.81,629.38 515,628.12 515.19,625.87 515.39,622.59 515.58,618.79 515.71,617.75 515.77,617.97 515.96,621.44 516.15,625.21 516.34,627.79 516.54,629.28 516.73,630.15 516.92,630.67 517.11,630.99 517.3,631.18 517.5,631.38 517.69,631.69 517.88,631.91 518.07,632.12 518.26,632.23 518.45,632.32 518.65,632.21 518.84,632.22 519.03,632.25 519.22,632.26 519.41,632.23 519.6,632.41 519.8,632.4 519.99,632.36 520.18,632.34 520.37,632.31 520.56,632.17 520.76,632.14 520.95,632.06 521.14,632.13 521.33,632.23 521.52,632.37 521.71,632.31 521.91,632.37 522.1,632.35 522.29,632.22 522.48,632.13 522.67,632.23 522.87,632.22 523.06,632.16 523.25,632.31 523.44,632.25 523.63,632.22 523.82,632.33 524.02,632.4 524.21,632.29 524.4,632.36 524.59,632.38 524.78,632.25 524.97,632.32 525.17,632.32 525.36,632.33 525.55,632.25 525.74,632.27 525.93,632.21 526.13,632.26 526.32,632.13 526.51,632.1 526.7,632.07 526.89,631.91 527.08,631.67 527.28,631.62 527.47,631.35 527.66,631 527.85,630.45 528.04,629.95 528.24,629.28 528.36,629.13 528.43,629.09 528.62,629.54 528.81,630.11 529,630.72 529.19,631.19 529.39,631.5 529.58,631.66 529.77,631.7 529.96,631.78 530.15,631.69 530.34,631.55 530.54,631.38 530.73,631.26 530.92,630.82 531.11,630.32 531.3,629.71 531.43,629.59 531.5,629.56 531.69,630.07 531.88,630.67 532.07,631.29 532.26,631.56 532.45,631.85 532.65,632.1 532.84,632.24 533.03,632.32 533.22,632.48 533.41,632.41 533.61,632.38 533.8,632.28 533.99,632.26 534.18,632.17 534.37,632.12 534.56,632.1 534.76,632.14 534.95,632.19 535.14,632.2 535.33,632.31 535.52,632.35 535.71,632.34 535.91,632.28 536.1,632.44 536.29,632.52 536.48,632.44 536.67,632.58 536.87,632.53 537.06,632.54 537.25,632.39 537.44,632.36 537.63,632.32 537.82,632.29 538.02,632.14 538.21,632.25 538.4,632.34 538.59,632.22 538.78,632.19 538.98,632.25 539.17,632.19 539.36,632.27 539.55,632.3 539.74,632.3 539.93,632.3 540.13,632.35 540.32,632.33 540.51,632.36 540.7,632.4 540.89,632.38 541.08,632.26 541.28,632.27 541.47,632.37 541.66,632.47 541.85,632.5 542.04,632.63 542.24,632.57 542.43,632.5 542.62,632.33 542.81,632.25 543,632.17 543.19,632.05 543.39,631.97 543.58,631.84 543.77,631.79 543.96,631.63 544.15,631.45 544.35,631.15 544.54,631.08 544.73,631.02 544.92,631 545.11,631.09 545.3,631.24 545.5,631.41 545.69,631.54 545.88,631.62 546.07,631.72 546.26,631.81 546.45,631.95 546.65,631.88 546.84,631.97 547.03,632.08 547.22,632.21 547.41,632.23 547.61,632.2 547.8,632.23 547.99,632.11 548.18,632.03 548.37,631.89 548.56,631.77 548.76,627.48 548.95,561.52 549.14,374.51 549.2,351.22 549.33,433.35 549.52,599.43 549.72,630.42 549.91,631.67 550.1,631.74 550.29,631.78 550.48,631.83 550.67,632.04 550.87,632.19 551.06,632.29 551.25,632.44 551.44,632.54 551.63,632.46 551.82,632.39 552.02,632.35 552.21,632.25 552.4,632.28 552.59,632.28 552.78,632.29 552.98,632.35 553.17,632.36 553.36,632.26 553.55,632.24 553.74,632.25 553.93,632.3 554.13,632.32 554.32,632.39 554.51,632.45 554.7,632.47 554.89,632.44 555.09,632.42 555.28,632.23 555.47,632.08 555.66,631.92 555.85,631.55 556.04,631.27 556.24,630.78 556.43,630.03 556.62,628.92 556.75,628.65 556.81,628.61 557,629.51 557.19,630.38 557.39,631.11 557.58,631.49 557.77,631.78 557.96,631.96 558.15,631.98 558.35,632.07 558.54,632.15 558.73,632.13 558.92,632.06 559.11,632.23 559.3,632.17 559.5,632.24 559.69,632.24 559.88,632.32 560.07,632.32 560.26,632.46 560.46,632.36 560.65,632.48 560.84,632.55 561.03,632.49 561.22,632.34 561.41,632.49 561.61,632.4 561.8,632.22 561.99,632.27 562.18,632.42 562.37,632.43 562.56,632.59 562.76,632.77 562.95,632.77 563.14,632.66 563.33,632.61 563.52,632.55 563.72,632.44 563.91,632.45 564.1,632.46 564.29,632.49 564.48,632.47 564.67,632.55 564.87,632.53 565.06,632.65 565.25,632.62 565.44,632.64 565.63,632.66 565.83,632.55 566.02,632.52 566.21,632.46 566.4,632.51 566.59,632.52 566.78,632.49 566.98,632.51 567.17,632.63 567.36,632.5 567.55,632.43 567.74,632.61 567.93,632.53 568.13,632.47 568.32,632.46 568.51,632.39 568.7,632.27 568.89,632.25 569.09,632.26 569.28,632.27 569.47,632.24 569.66,632.32 569.85,632.44 570.04,632.49 570.24,632.56 570.43,632.62 570.62,632.51 570.81,632.35 571,632.29 571.2,632.31 571.39,632.35 571.58,632.33 571.77,632.45 571.96,632.5 572.15,632.54 572.35,632.44 572.54,632.58 572.73,632.43 572.92,632.4 573.11,632.37 573.3,632.5 573.5,632.35 573.69,632.51 573.88,632.52 574.07,632.45 574.26,632.39 574.46,632.49 574.65,632.4 574.84,632.25 575.03,632.33 575.22,632.29 575.41,632.29 575.61,632.24 575.8,632.28 575.99,632.15 576.18,632.08 576.37,631.94 576.57,630.7 576.76,599.5 576.95,433.46 577.08,351.34 577.14,374.61 577.33,561.49 577.52,627.65 577.72,631.71 577.91,631.85 578.1,631.98 578.29,632.13 578.48,632.1 578.67,632.12 578.87,632.05 579.06,632.01 579.25,631.94 579.44,631.91 579.63,631.86 579.83,631.9 580.02,631.71 580.21,631.45 580.4,630.31 580.59,624.77 580.78,613.43 580.91,609.7 580.98,610.65 581.17,621.31 581.36,629.26 581.55,631.35 581.74,631.77 581.94,631.97 582.13,632.09 582.32,632.2 582.51,632.26 582.7,632.2 582.89,632.24 583.09,632.27 583.28,632.29 583.47,632.17 583.66,632.15 583.85,632.24 584.04,632.27 584.24,632.37 584.43,632.45 584.62,632.56 584.81,632.47 585,632.48 585.2,632.44 585.39,632.41 585.58,632.37 585.77,632.45 585.96,632.39 586.15,632.33 586.35,632.3 586.54,632.24 586.73,632.28 586.92,632.28 587.11,632.32 587.31,632.32 587.5,632.32 587.69,632.36 587.88,632.44 588.07,632.42 588.26,632.48 588.46,632.59 588.65,632.51 588.84,632.5 589.03,632.51 589.22,632.51 589.41,632.39 589.61,632.38 589.8,632.23 589.99,632.36 590.18,632.27 590.37,632.41 590.57,632.4 590.76,632.54 590.95,632.47 591.14,632.46 591.33,632.44 591.52,632.45 591.72,632.4 591.91,632.45 592.1,632.51 592.29,632.5 592.48,632.38 592.68,632.31 592.87,632.23 593.06,632.15 593.25,632.18 593.44,632.36 593.63,632.44 593.83,632.36 594.02,632.36 594.21,632.18 594.4,632.03 594.59,632.02 594.78,632.03 594.98,632.04 595.17,632.11 595.36,632.09 595.55,632 595.74,632.09 595.94,632.18 596.13,632.19 596.32,632.15 596.51,632.14 596.7,632.04 596.89,631.81 597.09,631.68 597.28,631.6 597.47,631.42 597.66,630.99 597.85,630.69 598.05,630.19 598.24,629.73 598.43,629.55 598.62,629.7 598.81,629.98 599,630.47 599.2,630.92 599.39,631.08 599.58,631.42 599.77,631.65 599.96,631.61 600.15,631.65 600.35,631.75 600.54,631.73 600.73,631.66 600.92,631.65 601.11,631.52 601.31,631.51 601.5,631.38 601.69,631.36 601.88,631.15 602.07,631.02 602.26,630.65 602.46,630.28 602.65,629.57 602.84,628.76 603.03,627.36 603.22,625.22 603.41,621.8 603.61,617.89 603.8,615.85 603.99,617.81 604.18,621.63 604.37,625.06 604.57,627.24 604.76,628.55 604.95,629.47 605.14,630.18 605.33,630.55 605.52,630.87 605.72,631.14 605.91,631.31 606.1,631.5 606.29,631.67 606.48,631.69 606.68,631.86 606.87,632.04 607.06,631.98 607.25,632.03 607.44,632.14 607.63,632.21 607.83,632.1 608.02,632.17 608.21,632.24 608.4,632.34 608.59,632.35 608.79,632.44 608.98,632.44 609.17,632.35 609.36,632.25 609.55,632.12 609.74,632.13 609.94,632.17 610.13,632.17 610.32,632.18 610.51,632.19 610.7,632.17 610.89,632.19 611.09,632.2 611.28,632.18 611.47,632.24 611.66,632.3 611.85,632.28 612.05,632.3 612.24,632.42 612.43,632.37 612.62,632.42 612.81,632.35 613,632.41 613.2,632.39 613.39,632.38 613.58,632.31 613.77,632.37 613.96,632.4 614.15,632.37 614.35,632.43 614.54,632.41 614.73,632.46 614.92,632.46 615.11,632.53 615.31,632.61 615.5,632.57 615.69,632.56 615.88,632.4 616.07,632.27 616.26,632.2 616.46,632.22 616.65,632.15 616.84,632.16 617.03,632.28 617.22,632.28 617.42,632.38 617.61,632.37 617.8,632.44 617.99,632.3 618.18,632.35 618.37,632.2 618.57,632.31 618.76,632.38 618.95,632.47 619.14,632.42 619.33,632.55 619.53,632.41 619.72,632.22 619.91,632.14 620.1,632.08 620.29,632.01 620.48,632.09 620.68,632.16 620.87,632.15 621.06,632.07 621.25,632.04 621.44,631.98 621.63,631.86 621.83,631.76 622.02,631.82 622.21,631.71 622.4,631.62 622.59,631.61 622.79,631.5 622.98,631.29 623.17,631.05 623.36,630.8 623.55,630.44 623.74,630.04 623.94,629.36 624.13,628.66 624.32,627.59 624.51,626.53 624.7,625.49 624.89,624.86 625.02,624.58 625.09,624.67 625.28,625.19 625.47,626.18 625.66,627.16 625.85,628.27 626.05,629.03 626.24,629.63 626.43,630.04 626.62,630.49 626.81,630.68 627,630.99 627.2,631.25 627.39,631.4 627.58,631.47 627.77,631.56 627.96,631.62 628.16,631.63 628.35,631.77 628.54,631.79 628.73,631.89 628.92,632 629.11,632 629.31,632.03 629.5,632.1 629.69,632.05 629.88,631.93 630.07,632.02 630.26,631.88 630.46,631.82 630.65,631.93 630.84,632.08 631.03,632.14 631.22,632.12 631.42,632.26 631.61,632.2 631.8,632.08 631.99,631.98 632.18,631.96 632.37,631.75 632.57,631.54 632.76,631.25 632.95,631.12 633.14,631.21 633.33,631.45 633.53,631.63 633.72,631.85 633.91,631.88 634.1,632.01 634.29,632.09 634.48,632.1 634.68,632.22 634.87,632.29 635.06,632.23 635.25,632.16 635.44,632.35 635.63,632.2 635.83,632.15 636.02,632.26 636.21,632.29 636.4,632.15 636.59,632.31 636.79,632.42 636.98,632.28 637.17,632.28 637.36,632.27 637.55,632.17 637.74,632.08 637.94,632.19 638.13,632.14 638.32,632.27 638.51,632.32 638.7,632.24 638.9,632.1 639.09,632.18 639.28,632.01 639.47,631.81 639.66,631.74 639.85,631.62 640.05,631.45 640.24,631.22 640.43,631.03 640.62,630.87 640.81,630.72 641.01,630.47 641.2,630.7 641.39,630.97 641.58,631.24 641.77,631.36 641.96,631.59 642.16,631.67 642.35,631.82 642.54,631.79 642.73,631.86 642.92,631.89 643.11,631.88 643.31,631.88 643.5,631.94 643.69,632.08 643.88,632.2 644.07,632.25 644.27,632.23 644.46,632.31 644.65,632.27 644.84,632.22 645.03,632.11 645.22,632.14 645.42,631.98 645.61,631.86 645.8,631.72 645.99,631.71 646.18,631.51 646.38,631.36 646.57,631.39 646.76,631.35 646.95,631.14 647.14,630.98 647.33,630.83 647.53,630.5 647.72,630.12 647.91,630.07 648.04,629.96 648.1,630.01 648.29,630.1 648.48,630.38 648.68,630.48 648.87,630.85 649.06,630.99 649.25,631.23 649.44,631.38 649.64,631.64 649.83,631.79 650.02,631.84 650.21,631.77 650.4,631.79 650.59,631.65 650.79,631.62 650.98,631.58 651.17,631.59 651.36,631.5 651.55,631.48 651.75,631.29 651.94,631.11 652.13,630.81 652.32,630.48 652.51,630.09 652.7,629.4 652.9,628.76 653.09,628.08 653.28,627.47 653.41,627.3 653.47,627.39 653.66,627.88 653.85,628.58 654.05,629.48 654.24,630.15 654.43,630.65 654.62,630.99 654.81,631.32 655.01,631.43 655.2,631.63 655.39,631.79 655.58,631.9 655.77,631.91 655.96,632.01 656.16,631.98 656.35,631.95 656.54,631.89 656.73,631.93 656.92,631.87 657.12,631.8 657.31,631.93 657.5,631.97 657.69,631.93 657.88,631.86 658.07,631.97 658.27,631.8 658.46,631.62 658.65,631.46 658.84,631.09 659.03,630.4 659.22,629.5 659.42,628.46 659.54,628.17 659.61,628.23 659.8,628.89 659.99,629.78 660.18,630.64 660.38,631.16 660.57,631.54 660.76,631.79 660.95,632.06 661.14,632.08 661.33,632.05 661.53,632.14 661.72,632.17 661.91,632.11 662.1,632.27 662.29,632.41 662.49,632.31 662.68,632.36 662.87,632.46 663.06,632.33 663.25,632.21 663.44,632.28 663.64,632.33 663.83,632.32 664.02,632.44 664.21,632.47 664.4,632.47 664.59,632.46 664.79,632.43 664.98,632.42 665.17,632.54 665.36,632.46 665.55,632.4 665.75,632.35 665.94,632.23 666.13,632.15 666.32,632.18 666.51,632.24 666.7,632.3 666.9,632.29 667.09,632.27 667.28,632.36 667.47,632.46 667.66,632.55 667.86,632.67 668.05,632.72 668.24,632.63 668.43,632.53 668.62,632.43 668.81,632.33 669.01,632.33 669.2,632.42 669.39,632.48 669.58,632.58 669.77,632.69 669.96,632.76 670.16,632.72 670.35,632.66 670.54,632.53 670.73,632.53 670.92,632.4 671.12,632.33 671.31,632.4 671.5,632.38 671.69,632.31 671.88,632.32 672.07,632.29 672.27,632.28 672.46,632.39 672.65,632.44 672.84,632.43 673.03,632.51 673.23,632.53 673.42,632.56 673.61,632.58 673.8,632.67 673.99,632.58 674.18,632.43 674.38,632.34 674.57,632.31 674.76,632.27 674.95,632.35 675.14,632.5 675.33,632.52 675.53,632.51 675.72,632.56 675.91,632.55 676.1,632.42 676.29,632.47 676.49,632.49 676.68,632.45 676.87,632.41 677.06,632.44 677.25,632.32 677.44,632.22 677.64,632.15" fill="none" stroke="#1c8a1c" stroke-width="0.9" stroke-linejoin="round" /><polyline points="498.7,594.49 498.89,594.6 499.08,594.62 499.28,594.62 499.47,594.59 499.66,594.68 499.85,594.69 500.04,594.6 500.23,594.58 500.43,594.61 500.62,594.68 500.81,594.63 501,594.71 501.19,594.75 501.38,594.71 501.58,594.63 501.77,594.68 501.96,594.74 502.15,594.87 502.34,594.83 502.54,594.84 502.73,594.75 502.92,594.62 503.11,594.57 503.3,594.61 503.49,594.63 503.69,594.56 503.88,594.68 504.07,594.68 504.26,594.67 504.45,594.62 504.65,594.75 504.84,594.77 505.03,594.69 505.22,594.66 505.41,594.68 505.6,594.73 505.8,594.71 505.99,594.83 506.18,594.86 506.37,594.8 506.56,594.62 506.75,594.5 506.95,594.45 507.14,594.41 507.33,594.41 507.52,594.53 507.71,594.61 507.91,594.54 508.1,594.58 508.29,594.66 508.48,594.65 508.67,594.57 508.86,594.6 509.06,594.64 509.25,594.72 509.44,594.67 509.63,594.79 509.82,594.76 510.02,594.73 510.21,594.63 510.4,594.67 510.59,594.56 510.78,594.65 510.97,594.61 511.17,594.57 511.36,594.57 511.55,594.49 511.74,594.32 511.93,594.19 512.12,594.11 512.32,593.96 512.51,594 512.7,593.99 512.89,594.05 513.08,594.15 513.28,594.08 513.47,593.92 513.66,593.91 513.85,593.76 514.04,593.53 514.23,593.28 514.43,593.03 514.62,592.34 514.81,591.5 515,590.03 515.19,587.64 515.39,583.85 515.58,579.69 515.71,578.46 515.77,578.74 515.96,582.56 516.15,586.74 516.34,589.45 516.54,591.1 516.73,592.26 516.92,592.8 517.11,593.17 517.3,593.48 517.5,593.74 517.69,593.83 517.88,593.92 518.07,594.06 518.26,594.2 518.45,594.11 518.65,594.19 518.84,594.31 519.03,594.41 519.22,594.33 519.41,594.4 519.6,594.38 519.8,594.41 519.99,594.39 520.18,594.48 520.37,594.52 520.56,594.63 520.76,594.59 520.95,594.52 521.14,594.61 521.33,594.68 521.52,594.56 521.71,594.63 521.91,594.75 522.1,594.62 522.29,594.47 522.48,594.53 522.67,594.49 522.87,594.41 523.06,594.43 523.25,594.5 523.44,594.39 523.63,594.34 523.82,594.27 524.02,594.24 524.21,594.2 524.4,594.22 524.59,594.23 524.78,594.25 524.97,594.22 525.17,594.33 525.36,594.42 525.55,594.41 525.74,594.42 525.93,594.48 526.13,594.32 526.32,594.24 526.51,594.14 526.7,594.05 526.89,593.78 527.08,593.64 527.28,593.23 527.47,592.92 527.66,592.29 527.85,591.7 528.04,590.76 528.24,590.11 528.36,589.82 528.43,589.87 528.62,590.36 528.81,591.3 529,592.04 529.19,592.71 529.39,593.2 529.58,593.41 529.77,593.45 529.96,593.4 530.15,593.23 530.34,593.09 530.54,592.75 530.73,592.25 530.92,591.43 531.11,590.34 531.3,589.05 531.43,588.78 531.5,588.93 531.69,590.09 531.88,591.41 532.07,592.43 532.26,593.12 532.45,593.5 532.65,593.7 532.84,593.92 533.03,594.07 533.22,594.23 533.41,594.4 533.61,594.56 533.8,594.59 533.99,594.66 534.18,594.65 534.37,594.66 534.56,594.59 534.76,594.5 534.95,594.42 535.14,594.49 535.33,594.49 535.52,594.64 535.71,594.79 535.91,594.76 536.1,594.66 536.29,594.53 536.48,594.48 536.67,594.42 536.87,594.45 537.06,594.47 537.25,594.51 537.44,594.58 537.63,594.5 537.82,594.53 538.02,594.6 538.21,594.67 538.4,594.53 538.59,594.55 538.78,594.65 538.98,594.66 539.17,594.72 539.36,594.74 539.55,594.8 539.74,594.69 539.93,594.7 540.13,594.63 540.32,594.59 540.51,594.64 540.7,594.72 540.89,594.72 541.08,594.65 541.28,594.77 541.47,594.7 541.66,594.62 541.85,594.51 542.04,594.64 542.24,594.63 542.43,594.59 542.62,594.61 542.81,594.74 543,594.73 543.19,594.76 543.39,594.81 543.58,594.84 543.77,594.84 543.96,594.81 544.15,594.69 544.35,594.68 544.54,594.65 544.73,594.62 544.92,594.65 545.11,594.77 545.3,594.74 545.5,594.71 545.69,594.75 545.88,594.62 546.07,594.46 546.26,594.54 546.45,594.48 546.65,594.41 546.84,594.48 547.03,594.56 547.22,594.52 547.41,594.59 547.61,594.57 547.8,594.58 547.99,594.53 548.18,594.43 548.37,594.22 548.56,593.9 548.76,589.65 548.95,523.56 549.14,336.65 549.2,313.4 549.33,395.53 549.52,561.6 549.72,592.67 549.91,593.84 550.1,594.07 550.29,594.33 550.48,594.32 550.67,594.42 550.87,594.6 551.06,594.59 551.25,594.5 551.44,594.55 551.63,594.54 551.82,594.47 552.02,594.58 552.21,594.54 552.4,594.54 552.59,594.51 552.78,594.52 552.98,594.4 553.17,594.48 553.36,594.47 553.55,594.61 553.74,594.65 553.93,594.64 554.13,594.66 554.32,594.7 554.51,594.65 554.7,594.57 554.89,594.69 555.09,594.71 555.28,594.79 555.47,594.85 555.66,594.92 555.85,594.76 556.04,594.79 556.24,594.68 556.43,594.56 556.62,594.5 556.81,594.67 557,594.69 557.19,594.67 557.39,594.77 557.58,594.75 557.77,594.64 557.96,594.46 558.15,594.52 558.35,594.41 558.54,594.53 558.73,594.6 558.92,594.71 559.11,594.71 559.3,594.76 559.5,594.73 559.69,594.76 559.88,594.74 560.07,594.71 560.26,594.66 560.46,594.6 560.65,594.54 560.84,594.58 561.03,594.53 561.22,594.52 561.41,594.61 561.61,594.64 561.8,594.53 561.99,594.62 562.18,594.77 562.37,594.73 562.56,594.59 562.76,594.7 562.95,594.72 563.14,594.6 563.33,594.6 563.52,594.62 563.72,594.59 563.91,594.51 564.1,594.53 564.29,594.38 564.48,594.34 564.67,594.33 564.87,594.35 565.06,594.4 565.25,594.52 565.44,594.5 565.63,594.47 565.83,594.38 566.02,594.25 566.21,594.18 566.4,594.27 566.59,594.24 566.78,594.21 566.98,594.06 567.17,593.95 567.36,593.77 567.55,593.43 567.74,593.11 567.93,593.04 568.13,592.68 568.32,592.38 568.51,592.21 568.7,592.01 568.89,591.88 569.02,591.9 569.09,591.82 569.28,591.82 569.47,592.03 569.66,592.19 569.85,592.5 570.04,592.75 570.24,593.16 570.43,593.49 570.62,593.71 570.81,593.72 571,593.95 571.2,593.89 571.39,593.98 571.58,594.05 571.77,594.24 571.96,594.36 572.15,594.43 572.35,594.33 572.54,594.3 572.73,594.31 572.92,594.22 573.11,594.24 573.3,594.35 573.5,594.4 573.69,594.47 573.88,594.43 574.07,594.56 574.26,594.58 574.46,594.5 574.65,594.49 574.84,594.62 575.03,594.53 575.22,594.36 575.41,594.33 575.61,594.26 575.8,594.12 575.99,594.08 576.18,594.08 576.37,593.91 576.57,592.62 576.76,561.56 576.95,395.4 577.08,313.29 577.14,336.71 577.33,523.63 577.52,589.69 577.72,593.95 577.91,594.17 578.1,594.18 578.29,594.17 578.48,594.25 578.67,594.31 578.87,594.35 579.06,594.38 579.25,594.52 579.44,594.49 579.63,594.31 579.83,594.06 580.02,593.92 580.21,593.51 580.4,592.34 580.59,586.74 580.78,575.41 580.91,571.59 580.98,572.72 581.17,583.36 581.36,591.5 581.55,593.57 581.74,593.95 581.94,594.08 582.13,594.09 582.32,594.2 582.51,594.26 582.7,594.32 582.89,594.33 583.09,594.46 583.28,594.32 583.47,594.44 583.66,594.51 583.85,594.46 584.04,594.41 584.24,594.46 584.43,594.37 584.62,594.28 584.81,594.38 585,594.45 585.2,594.48 585.39,594.6 585.58,594.67 585.77,594.74 585.96,594.59 586.15,594.62 586.35,594.52 586.54,594.5 586.73,594.45 586.92,594.56 587.11,594.64 587.31,594.62 587.5,594.72 587.69,594.76 587.88,594.73 588.07,594.68 588.26,594.71 588.46,594.55 588.65,594.5 588.84,594.41 589.03,594.42 589.22,594.43 589.41,594.41 589.61,594.48 589.8,594.53 589.99,594.45 590.18,594.42 590.37,594.49 590.57,594.34 590.76,594.41 590.95,594.41 591.14,594.55 591.33,594.66 591.52,594.68 591.72,594.66 591.91,594.63 592.1,594.61 592.29,594.48 592.48,594.43 592.68,594.31 592.87,594.31 593.06,594.31 593.25,594.33 593.44,594.37 593.63,594.43 593.83,594.39 594.02,594.3 594.21,594.21 594.4,594.16 594.59,594.1 594.78,594.13 594.98,594.04 595.17,594.02 595.36,594.04 595.55,594.02 595.74,593.82 595.94,593.72 596.13,593.43 596.32,593.2 596.51,592.94 596.7,592.73 596.89,592.52 597.09,592.55 597.15,592.49 597.28,592.38 597.47,592.52 597.66,592.68 597.85,592.97 598.05,593.21 598.24,593.43 598.43,593.51 598.62,593.66 598.81,593.64 599,593.64 599.2,593.8 599.39,593.95 599.58,593.9 599.77,594.02 599.96,594.04 600.15,594.06 600.35,593.93 600.54,593.89 600.73,593.85 600.92,593.93 601.11,593.74 601.31,593.75 601.5,593.68 601.69,593.55 601.88,593.29 602.07,593.24 602.26,593.01 602.46,592.62 602.65,592.07 602.84,591.27 603.03,589.85 603.22,587.8 603.41,584.72 603.61,580.93 603.8,578.97 603.99,580.85 604.18,584.37 604.37,587.58 604.57,589.75 604.76,591.1 604.95,591.97 605.14,592.7 605.33,592.97 605.52,593.25 605.72,593.41 605.91,593.69 606.1,593.79 606.29,594.03 606.48,594.16 606.68,594.23 606.87,594.29 607.06,594.33 607.25,594.32 607.44,594.38 607.63,594.47 607.83,594.42 608.02,594.36 608.21,594.32 608.4,594.33 608.59,594.39 608.79,594.45 608.98,594.51 609.17,594.49 609.36,594.49 609.55,594.43 609.74,594.48 609.94,594.45 610.13,594.52 610.32,594.45 610.51,594.49 610.7,594.35 610.89,594.36 611.09,594.3 611.28,594.33 611.47,594.26 611.66,594.35 611.85,594.43 612.05,594.48 612.24,594.55 612.43,594.55 612.62,594.52 612.81,594.36 613,594.45 613.2,594.31 613.39,594.31 613.58,594.35 613.77,594.45 613.96,594.27 614.15,594.3 614.35,594.29 614.54,594.25 614.73,594.14 614.92,594.15 615.11,594.2 615.31,594.29 615.5,594.29 615.69,594.37 615.88,594.42 616.07,594.33 616.26,594.3 616.46,594.3 616.65,594.26 616.84,594.29 617.03,594.23 617.22,594.21 617.42,594.21 617.61,594.17 617.8,594.09 617.99,594.07 618.18,593.96 618.37,593.83 618.57,593.78 618.76,593.7 618.95,593.79 619.14,593.88 619.33,593.98 619.53,594.02 619.72,593.95 619.91,593.79 620.1,593.59 620.29,593.49 620.48,593.43 620.68,593.46 620.87,593.51 621.06,593.53 621.25,593.3 621.44,593.1 621.63,592.9 621.83,592.66 622.02,592.45 622.21,592.31 622.4,591.95 622.59,591.54 622.79,591.14 622.98,590.47 623.17,589.72 623.36,589.03 623.55,588.08 623.74,586.94 623.94,585.68 624.13,584.23 624.32,582.55 624.51,580.9 624.7,579.41 624.89,578.51 625.02,578.22 625.09,578.17 625.28,578.88 625.47,580.18 625.66,581.89 625.85,583.75 626.05,585.48 626.24,586.96 626.43,588.1 626.62,589.03 626.81,589.67 627,590.16 627.2,590.67 627.39,591.12 627.58,591.37 627.77,591.82 627.96,592.2 628.16,592.28 628.35,592.4 628.54,592.66 628.73,592.69 628.92,592.74 629.11,592.81 629.31,592.9 629.5,592.87 629.69,593.01 629.88,593.02 630.07,593.04 630.26,593 630.46,592.95 630.65,592.85 630.84,592.68 631.03,592.64 631.22,592.58 631.42,592.43 631.61,592.13 631.8,591.78 631.99,591.28 632.18,590.39 632.37,589.29 632.57,587.84 632.76,586.46 632.95,585.78 633.14,586.37 633.33,587.73 633.53,589.06 633.72,590.08 633.91,590.88 634.1,591.55 634.29,591.97 634.48,592.33 634.68,592.51 634.87,592.56 635.06,592.58 635.25,592.63 635.44,592.61 635.63,592.56 635.83,592.41 636.02,592.38 636.21,592.29 636.4,592.06 636.59,591.94 636.79,591.94 636.98,591.7 637.17,591.47 637.36,591.22 637.55,590.88 637.74,590.36 637.94,589.99 638.13,589.51 638.32,589.09 638.51,588.44 638.7,587.75 638.9,586.78 639.09,585.6 639.28,584.08 639.47,582.44 639.66,580.34 639.85,577.75 640.05,574.57 640.24,571.2 640.43,567.44 640.62,563.97 640.81,561.56 641.01,560.66 641.2,561.54 641.39,563.97 641.58,567.42 641.77,571.03 641.96,574.57 642.16,577.49 642.35,580.22 642.54,582.23 642.73,583.87 642.92,585.31 643.11,586.5 643.31,587.3 643.5,588.15 643.69,588.89 643.88,589.33 644.07,589.8 644.27,590.25 644.46,590.5 644.65,590.74 644.84,591.02 645.03,591.25 645.22,591.43 645.42,591.58 645.61,591.69 645.8,591.74 645.99,591.78 646.18,591.98 646.38,592.15 646.57,592.29 646.76,592.35 646.95,592.37 647.14,592.2 647.33,592.15 647.53,591.94 647.72,592.01 647.91,592.06 648.1,592.05 648.29,591.84 648.48,591.71 648.68,591.43 648.87,591.26 649.06,590.99 649.25,590.78 649.44,590.53 649.64,590.16 649.83,589.71 650.02,589.3 650.21,588.82 650.4,588.23 650.59,587.6 650.79,586.87 650.98,586.13 651.17,585.38 651.36,584.66 651.55,583.97 651.75,583.54 651.94,583.21 652.13,583.06 652.32,583.26 652.51,583.78 652.7,584.19 652.9,584.94 653.09,585.69 653.28,586.42 653.47,587.11 653.66,587.89 653.85,588.39 654.05,589.11 654.24,589.64 654.43,590.06 654.62,590.56 654.81,591.02 655.01,591.32 655.2,591.56 655.39,591.96 655.58,592.04 655.77,592.23 655.96,592.4 656.16,592.61 656.35,592.72 656.54,592.94 656.73,593.07 656.92,593.08 657.12,593.22 657.31,593.35 657.5,593.32 657.69,593.42 657.88,593.48 658.07,593.44 658.27,593.36 658.46,593.44 658.65,593.46 658.84,593.54 659.03,593.61 659.22,593.69 659.42,593.75 659.61,593.83 659.8,593.82 659.99,593.9 660.18,594.04 660.38,594.13 660.57,594.02 660.76,594.03 660.95,594.02 661.14,594.03 661.33,593.93 661.53,594.09 661.72,594.1 661.91,594.16 662.1,594.06 662.29,594.18 662.49,594.1 662.68,594.22 662.87,594.23 663.06,594.28 663.25,594.26 663.44,594.25 663.64,594.16 663.83,594.24 664.02,594.19 664.21,594.15 664.4,594.22 664.59,594.28 664.79,594.13 664.98,594.26 665.17,594.42 665.36,594.41 665.55,594.42 665.75,594.58 665.94,594.61 666.13,594.5 666.32,594.5 666.51,594.55 666.7,594.52 666.9,594.45 667.09,594.52 667.28,594.53 667.47,594.58 667.66,594.62 667.86,594.63 668.05,594.66 668.24,594.74 668.43,594.58 668.62,594.52 668.81,594.51 669.01,594.38 669.2,594.23 669.39,594.25 669.58,594.24 669.77,594.22 669.96,594.38 670.16,594.39 670.35,594.54 670.54,594.53 670.73,594.49 670.92,594.37 671.12,594.41 671.31,594.32 671.5,594.42 671.69,594.44 671.88,594.44 672.07,594.52 672.27,594.56 672.46,594.52 672.65,594.52 672.84,594.52 673.03,594.49 673.23,594.39 673.42,594.35 673.61,594.43 673.8,594.54 673.99,594.59 674.18,594.6 674.38,594.56 674.57,594.62 674.76,594.52 674.95,594.5 675.14,594.53 675.33,594.55 675.53,594.43 675.72,594.53 675.91,594.58 676.1,594.55 676.29,594.61 676.49,594.68 676.68,594.69 676.87,594.52 677.06,594.59 677.25,594.52 677.44,594.5 677.64,594.4" fill="none" stroke="#ff4545" stroke-width="0.9" stroke-linejoin="round" /><polyline points="498.7,557.31 498.89,557.33 499.08,557.41 499.28,557.36 499.47,557.4 499.66,557.53 499.85,557.6 500.04,557.5 500.23,557.48 500.43,557.38 500.62,557.38 500.81,557.24 501,557.19 501.19,557.29 501.38,557.35 501.58,557.26 501.77,557.24 501.96,557.23 502.15,557.13 502.34,557.04 502.54,557.13 502.73,557.19 502.92,557.28 503.11,557.33 503.3,557.37 503.49,557.37 503.69,557.32 503.88,557.39 504.07,557.45 504.26,557.47 504.45,557.33 504.65,557.48 504.84,557.37 505.03,557.26 505.22,557.21 505.41,557.21 505.6,557.16 505.8,557.19 505.99,557.29 506.18,557.34 506.37,557.44 506.56,557.5 506.75,557.4 506.95,557.33 507.14,557.27 507.33,557.23 507.52,557.2 507.71,557.34 507.91,557.3 508.1,557.27 508.29,557.28 508.48,557.18 508.67,557.04 508.86,557.2 509.06,557.29 509.25,557.29 509.44,557.36 509.63,557.44 509.82,557.38 510.02,557.42 510.21,557.33 510.4,557.31 510.59,557.25 510.78,557.27 510.97,557.22 511.17,557.28 511.36,557.34 511.55,557.4 511.74,557.37 511.93,557.34 512.12,557.35 512.32,557.19 512.51,557.14 512.7,557.09 512.89,557.01 513.08,556.92 513.28,556.95 513.47,556.82 513.66,556.65 513.85,556.62 514.04,556.42 514.23,556.13 514.43,555.89 514.62,555.29 514.81,554.35 515,552.95 515.19,550.76 515.39,547.29 515.58,543.52 515.71,542.39 515.77,542.78 515.96,546.21 516.15,549.92 516.34,552.4 516.54,554.06 516.73,554.92 516.92,555.49 517.11,555.88 517.3,556.2 517.5,556.42 517.69,556.65 517.88,556.77 518.07,556.89 518.26,556.94 518.45,556.94 518.65,557.01 518.84,557.03 519.03,557.08 519.22,557.05 519.41,557.06 519.6,557.13 519.8,557.23 519.99,557.27 520.18,557.39 520.37,557.32 520.56,557.27 520.76,557.1 520.95,557.21 521.14,557.1 521.33,557.24 521.52,557.28 521.71,557.38 521.91,557.34 522.1,557.42 522.29,557.35 522.48,557.28 522.67,557.34 522.87,557.28 523.06,557.29 523.25,557.27 523.44,557.32 523.63,557.17 523.82,557.24 524.02,557.28 524.21,557.26 524.4,557.18 524.59,557.29 524.78,557.25 524.97,557.17 525.17,557.25 525.36,557.24 525.55,557.16 525.74,557.09 525.93,556.98 526.13,556.93 526.32,556.91 526.51,556.78 526.7,556.67 526.89,556.53 527.08,556.32 527.28,556.05 527.47,555.78 527.66,555.29 527.85,554.63 528.04,553.64 528.24,552.84 528.36,552.51 528.43,552.59 528.62,553.15 528.81,554.07 529,554.85 529.19,555.45 529.39,555.65 529.58,555.84 529.77,555.98 529.96,555.92 530.15,555.82 530.34,555.63 530.54,555.31 530.73,554.57 530.92,553.54 531.11,552.08 531.3,550.64 531.43,550.24 531.5,550.32 531.69,551.69 531.88,553.32 532.07,554.52 532.26,555.22 532.45,555.81 532.65,556.14 532.84,556.35 533.03,556.54 533.22,556.75 533.41,556.81 533.61,556.93 533.8,557.08 533.99,557.14 534.18,557.14 534.37,557.31 534.56,557.23 534.76,557.1 534.95,557.1 535.14,557.1 535.33,557.09 535.52,557.22 535.71,557.34 535.91,557.32 536.1,557.28 536.29,557.27 536.48,557.24 536.67,557.24 536.87,557.28 537.06,557.4 537.25,557.38 537.44,557.29 537.63,557.33 537.82,557.31 538.02,557.31 538.21,557.37 538.4,557.45 538.59,557.36 538.78,557.41 538.98,557.39 539.17,557.31 539.36,557.3 539.55,557.27 539.74,557.16 539.93,557.07 540.13,557.06 540.32,557.13 540.51,557.2 540.7,557.33 540.89,557.41 541.08,557.51 541.28,557.36 541.47,557.4 541.66,557.4 541.85,557.34 542.04,557.28 542.24,557.45 542.43,557.47 542.62,557.41 542.81,557.57 543,557.51 543.19,557.5 543.39,557.51 543.58,557.53 543.77,557.5 543.96,557.63 544.15,557.54 544.35,557.53 544.54,557.54 544.73,557.39 544.92,557.23 545.11,557.17 545.3,557.11 545.5,557.06 545.69,557.16 545.88,557.17 546.07,557.15 546.26,557.22 546.45,557.33 546.65,557.31 546.84,557.33 547.03,557.38 547.22,557.34 547.41,557.28 547.61,557.26 547.8,557.17 547.99,557.14 548.18,556.95 548.37,556.76 548.56,556.46 548.76,552.42 548.95,486.3 549.14,299.42 549.2,276.15 549.33,358.44 549.52,524.37 549.72,555.53 549.91,556.75 550.1,556.91 550.29,557.02 550.48,557.1 550.67,557.25 550.87,557.37 551.06,557.4 551.25,557.3 551.44,557.35 551.63,557.25 551.82,557.13 552.02,557.06 552.21,557.18 552.4,557.2 552.59,557.31 552.78,557.32 552.98,557.38 553.17,557.3 553.36,557.35 553.55,557.3 553.74,557.39 553.93,557.31 554.13,557.35 554.32,557.19 554.51,557.22 554.7,557.13 554.89,557.25 555.09,557.23 555.28,557.33 555.47,557.15 555.66,557.11 555.85,557.03 556.04,556.87 556.24,556.59 556.43,556.38 556.62,556.07 556.75,556.02 556.81,556.05 557,556.38 557.19,556.66 557.39,556.86 557.58,557.02 557.77,557.13 557.96,557.05 558.15,557.06 558.35,557.25 558.54,557.2 558.73,557.16 558.92,557.28 559.11,557.33 559.3,557.24 559.5,557.26 559.69,557.32 559.88,557.38 560.07,557.34 560.26,557.39 560.46,557.44 560.65,557.38 560.84,557.38 561.03,557.44 561.22,557.36 561.41,557.36 561.61,557.34 561.8,557.2 561.99,557.23 562.18,557.3 562.37,557.19 562.56,557.21 562.76,557.21 562.95,557.22 563.14,557.11 563.33,557.19 563.52,557.17 563.72,557.29 563.91,557.33 564.1,557.47 564.29,557.38 564.48,557.38 564.67,557.26 564.87,557.19 565.06,557.21 565.25,557.28 565.44,557.32 565.63,557.43 565.83,557.41 566.02,557.23 566.21,557.23 566.4,557.28 566.59,557.33 566.78,557.29 566.98,557.35 567.17,557.41 567.36,557.32 567.55,557.28 567.74,557.38 567.93,557.4 568.13,557.27 568.32,557.26 568.51,557.2 568.7,557.17 568.89,557.21 569.09,557.25 569.28,557.31 569.47,557.29 569.66,557.36 569.85,557.36 570.04,557.31 570.24,557.28 570.43,557.25 570.62,557.15 570.81,557.13 571,557.28 571.2,557.41 571.39,557.4 571.58,557.41 571.77,557.35 571.96,557.3 572.15,557.19 572.35,557.34 572.54,557.3 572.73,557.38 572.92,557.38 573.11,557.48 573.3,557.42 573.5,557.41 573.69,557.3 573.88,557.29 574.07,557.25 574.26,557.17 574.46,557.28 574.65,557.36 574.84,557.22 575.03,557.06 575.22,557.09 575.41,556.95 575.61,556.94 575.8,557.01 575.99,557.08 576.18,557.01 576.37,556.93 576.57,555.63 576.76,524.52 576.95,358.46 577.08,276.3 577.14,299.46 577.33,486.44 577.52,552.48 577.72,556.58 577.91,556.72 578.1,556.96 578.29,556.91 578.48,556.98 578.67,556.94 578.87,557.05 579.06,556.99 579.25,556.97 579.44,556.82 579.63,556.88 579.83,556.75 580.02,556.62 580.21,556.52 580.4,555.38 580.59,549.75 580.78,538.39 580.91,534.63 580.98,535.55 581.17,546.22 581.36,554.17 581.55,556.2 581.74,556.49 581.94,556.59 582.13,556.68 582.32,556.89 582.51,557.04 582.7,557.23 582.89,557.33 583.09,557.36 583.28,557.23 583.47,557.11 583.66,557.14 583.85,557.19 584.04,557.24 584.24,557.35 584.43,557.49 584.62,557.38 584.81,557.3 585,557.3 585.2,557.24 585.39,557.09 585.58,557.06 585.77,557.05 585.96,557.06 586.15,557.2 586.35,557.21 586.54,557.35 586.73,557.48 586.92,557.37 587.11,557.21 587.31,557.26 587.5,557.21 587.69,557.11 587.88,557.29 588.07,557.39 588.26,557.47 588.46,557.4 588.65,557.53 588.84,557.45 589.03,557.48 589.22,557.43 589.41,557.48 589.61,557.36 589.8,557.42 589.99,557.35 590.18,557.25 590.37,557.2 590.57,557.16 590.76,557.12 590.95,557.17 591.14,557.21 591.33,557.26 591.52,557.33 591.72,557.37 591.91,557.38 592.1,557.41 592.29,557.44 592.48,557.4 592.68,557.37 592.87,557.26 593.06,557.29 593.25,557.27 593.44,557.38 593.63,557.33 593.83,557.3 594.02,557.31 594.21,557.28 594.4,557.17 594.59,557.06 594.78,557.21 594.98,557.04 595.17,556.97 595.36,557 595.55,557.04 595.74,556.96 595.94,557.01 596.13,556.93 596.32,556.76 596.51,556.64 596.7,556.28 596.89,556.06 597.09,555.96 597.15,555.87 597.28,555.8 597.47,555.98 597.66,556.25 597.85,556.47 598.05,556.71 598.24,556.78 598.43,556.94 598.62,556.95 598.81,556.89 599,556.99 599.2,557.01 599.39,556.93 599.58,556.98 599.77,557.03 599.96,557.01 600.15,557.14 600.35,557.23 600.54,557.18 600.73,557.21 600.92,557.16 601.11,557.04 601.31,556.96 601.5,556.74 601.69,556.64 601.88,556.42 602.07,556.24 602.26,555.87 602.46,555.47 602.65,554.76 602.84,553.99 603.03,552.77 603.22,550.84 603.41,548.1 603.61,544.82 603.8,542.93 603.99,544.59 604.18,548.03 604.37,550.88 604.57,552.71 604.76,554.02 604.95,554.93 605.14,555.49 605.33,555.92 605.52,556.25 605.72,556.46 605.91,556.56 606.1,556.74 606.29,556.82 606.48,556.82 606.68,556.79 606.87,556.83 607.06,556.79 607.25,556.69 607.44,556.82 607.63,556.96 607.83,556.99 608.02,557.06 608.21,557.13 608.4,557.09 608.59,557 608.79,557.02 608.98,556.93 609.17,556.98 609.36,556.95 609.55,557.06 609.74,557.19 609.94,557.36 610.13,557.35 610.32,557.36 610.51,557.41 610.7,557.26 610.89,557.19 611.09,557.24 611.28,557.35 611.47,557.27 611.66,557.31 611.85,557.25 612.05,557.18 612.24,557.15 612.43,557.21 612.62,557.24 612.81,557.25 613,557.27 613.2,557.22 613.39,557.11 613.58,557.02 613.77,557.09 613.96,557.19 614.15,557.25 614.35,557.28 614.54,557.36 614.73,557.26 614.92,557.18 615.11,557.14 615.31,557.23 615.5,557.28 615.69,557.34 615.88,557.41 616.07,557.46 616.26,557.31 616.46,557.27 616.65,557.24 616.84,557.21 617.03,557.14 617.22,557.15 617.42,557.06 617.61,557.11 617.8,557.08 617.99,557.04 618.18,557.19 618.37,557.32 618.57,557.39 618.76,557.27 618.95,557.4 619.14,557.34 619.33,557.2 619.53,557.01 619.72,557.08 619.91,556.97 620.1,556.84 620.29,556.92 620.48,556.94 620.68,557.02 620.87,556.96 621.06,557.08 621.25,557.02 621.44,557.01 621.63,556.95 621.83,557.06 622.02,556.99 622.21,557.05 622.4,557.12 622.59,557.02 622.79,556.88 622.98,556.82 623.17,556.58 623.36,556.36 623.55,556.14 623.74,555.91 623.94,555.57 624.13,555.32 624.32,554.85 624.51,554.29 624.7,553.59 624.89,553.18 625.02,552.94 625.09,552.95 625.28,553.36 625.47,554.03 625.66,554.62 625.85,555.19 626.05,555.57 626.24,555.73 626.43,556.09 626.62,556.24 626.81,556.47 627,556.66 627.2,556.79 627.39,556.85 627.58,556.79 627.77,556.74 627.96,556.65 628.16,556.71 628.35,556.69 628.54,556.83 628.73,556.87 628.92,556.92 629.11,556.94 629.31,556.89 629.5,556.76 629.69,556.76 629.88,556.71 630.07,556.54 630.26,556.55 630.46,556.58 630.65,556.4 630.84,556.23 631.03,556.18 631.22,555.89 631.42,555.55 631.61,555.14 631.8,554.76 631.99,554.09 632.18,553.12 632.37,551.9 632.57,550.27 632.76,548.54 632.95,547.72 633.14,548.51 633.33,550.16 633.53,551.8 633.72,553.09 633.91,553.96 634.1,554.56 634.29,554.84 634.48,555.09 634.68,555.35 634.87,555.57 635.06,555.57 635.25,555.76 635.44,555.82 635.63,555.7 635.83,555.68 636.02,555.66 636.21,555.59 636.4,555.49 636.59,555.52 636.79,555.45 636.98,555.36 637.17,555.16 637.36,555.06 637.55,554.72 637.74,554.32 637.94,554.02 638.13,553.64 638.32,553.2 638.51,552.67 638.7,552.14 638.9,551.28 639.09,550.26 639.28,549.02 639.47,547.65 639.66,545.96 639.85,544 640.05,541.71 640.24,539.11 640.43,536.41 640.62,533.81 640.81,531.99 641.01,531.34 641.2,532.1 641.39,534.01 641.58,536.53 641.77,539.24 641.96,541.81 642.16,544 642.35,545.87 642.54,547.63 642.73,549.01 642.92,550.26 643.11,551.29 643.31,552.06 643.5,552.72 643.69,553.36 643.88,553.71 644.07,554.1 644.27,554.58 644.46,554.81 644.65,555.03 644.84,555.24 645.03,555.42 645.22,555.43 645.42,555.65 645.61,555.78 645.8,555.83 645.99,555.84 646.18,555.93 646.38,555.94 646.57,556.02 646.76,556.08 646.95,556.26 647.14,556.44 647.33,556.4 647.53,556.31 647.72,556.32 647.91,556.18 648.1,556.14 648.29,556.11 648.48,556.15 648.68,556.16 648.87,556.24 649.06,556.17 649.25,556.3 649.44,556.19 649.64,556.23 649.83,556.15 650.02,556.18 650.21,556.03 650.4,555.93 650.59,555.78 650.79,555.49 650.98,555.1 651.17,554.55 651.36,554.06 651.55,553.34 651.75,552.72 651.94,552.35 652.13,552.32 652.32,552.59 652.51,553.08 652.7,553.8 652.9,554.34 653.09,554.82 653.28,555.11 653.47,555.42 653.66,555.66 653.85,555.82 654.05,556.07 654.24,556.19 654.43,556.38 654.62,556.52 654.81,556.58 655.01,556.66 655.2,556.7 655.39,556.71 655.58,556.66 655.77,556.67 655.96,556.62 656.16,556.8 656.35,556.91 656.54,556.99 656.73,557.16 656.92,557.21 657.12,557.14 657.31,557.15 657.5,557.15 657.69,557.07 657.88,556.91 658.07,556.92 658.27,556.75 658.46,556.56 658.65,556.43 658.84,556.28 659.03,555.85 659.22,555.48 659.42,555.17 659.54,555.07 659.61,555.13 659.8,555.47 659.99,555.94 660.18,556.23 660.38,556.43 660.57,556.65 660.76,556.67 660.95,556.66 661.14,556.74 661.33,556.91 661.53,556.83 661.72,556.9 661.91,556.95 662.1,557.04 662.29,557.01 662.49,557 662.68,557.05 662.87,557.06 663.06,557.14 663.25,557.18 663.44,557.35 663.64,557.42 663.83,557.49 664.02,557.53 664.21,557.42 664.4,557.26 664.59,557.25 664.79,557.23 664.98,557.12 665.17,557.27 665.36,557.32 665.55,557.22 665.75,557.25 665.94,557.37 666.13,557.33 666.32,557.3 666.51,557.35 666.7,557.31 666.9,557.25 667.09,557.18 667.28,557.34 667.47,557.45 667.66,557.41 667.86,557.44 668.05,557.42 668.24,557.36 668.43,557.32 668.62,557.31 668.81,557.29 669.01,557.3 669.2,557.31 669.39,557.28 669.58,557.35 669.77,557.41 669.96,557.49 670.16,557.52 670.35,557.48 670.54,557.48 670.73,557.34 670.92,557.32 671.12,557.25 671.31,557.22 671.5,557.25 671.69,557.27 671.88,557.2 672.07,557.18 672.27,557.33 672.46,557.23 672.65,557.27 672.84,557.27 673.03,557.36 673.23,557.36 673.42,557.35 673.61,557.26 673.8,557.3 673.99,557.28 674.18,557.3 674.38,557.37 674.57,557.53 674.76,557.52 674.95,557.53 675.14,557.5 675.33,557.54 675.53,557.48 675.72,557.55 675.91,557.48 676.1,557.43 676.29,557.34 676.49,557.39 676.68,557.39 676.87,557.34 677.06,557.26 677.25,557.37 677.44,557.31 677.64,557.22" fill="none" stroke="#3b7ae0" stroke-width="0.9" stroke-linejoin="round" /></g><rect x="498.7" y="515.4" width="179" height="129.2" fill="none" stroke="#333" stroke-width="1"/><line x1="498.7" y1="644.6" x2="498.7" y2="644.6" stroke="#333" stroke-width="1" /><text x="498.7" y="658.4" font-size="9.9" text-anchor="middle" fill="#000" style="">400</text><line x1="549.84" y1="644.6" x2="549.84" y2="644.6" stroke="#333" stroke-width="1" /><text x="549.84" y="658.4" font-size="9.9" text-anchor="middle" fill="#000" style="">800</text><line x1="600.99" y1="644.6" x2="600.99" y2="644.6" stroke="#333" stroke-width="1" /><text x="600.99" y="658.4" font-size="9.9" text-anchor="middle" fill="#000" style="">1200</text><line x1="652.13" y1="644.6" x2="652.13" y2="644.6" stroke="#333" stroke-width="1" /><text x="652.13" y="658.4" font-size="9.9" text-anchor="middle" fill="#000" style="">1600</text><line x1="524.27" y1="644.6" x2="524.27" y2="642.7" stroke="#333" stroke-width="1" /><line x1="575.41" y1="644.6" x2="575.41" y2="642.7" stroke="#333" stroke-width="1" /><line x1="626.56" y1="644.6" x2="626.56" y2="642.7" stroke="#333" stroke-width="1" /><line x1="677.7" y1="644.6" x2="677.7" y2="642.7" stroke="#333" stroke-width="1" /><line x1="498.7" y1="644.6" x2="498.7" y2="647.4" stroke="#333" stroke-width="1" /><line x1="549.84" y1="644.6" x2="549.84" y2="647.4" stroke="#333" stroke-width="1" /><line x1="600.99" y1="644.6" x2="600.99" y2="647.4" stroke="#333" stroke-width="1" /><line x1="652.13" y1="644.6" x2="652.13" y2="647.4" stroke="#333" stroke-width="1" /><line x1="498.7" y1="632.01" x2="502.1" y2="632.01" stroke="#333" stroke-width="1" /><text x="495.2" y="635.61" font-size="9.9" text-anchor="end" fill="#000" style="">0</text><line x1="498.7" y1="608.69" x2="502.1" y2="608.69" stroke="#333" stroke-width="1" /><text x="495.2" y="612.29" font-size="9.9" text-anchor="end" fill="#000" style="">5</text><line x1="498.7" y1="585.36" x2="502.1" y2="585.36" stroke="#333" stroke-width="1" /><text x="495.2" y="588.96" font-size="9.9" text-anchor="end" fill="#000" style="">10</text><line x1="498.7" y1="562.04" x2="502.1" y2="562.04" stroke="#333" stroke-width="1" /><text x="495.2" y="565.64" font-size="9.9" text-anchor="end" fill="#000" style="">15</text><line x1="498.7" y1="538.72" x2="502.1" y2="538.72" stroke="#333" stroke-width="1" /><text x="495.2" y="542.32" font-size="9.9" text-anchor="end" fill="#000" style="">20</text><line x1="498.7" y1="515.4" x2="502.1" y2="515.4" stroke="#333" stroke-width="1" /><text x="495.2" y="519" font-size="9.9" text-anchor="end" fill="#000" style="">25</text><line x1="498.7" y1="620.35" x2="500.6" y2="620.35" stroke="#333" stroke-width="1" /><line x1="498.7" y1="597.02" x2="500.6" y2="597.02" stroke="#333" stroke-width="1" /><line x1="498.7" y1="573.7" x2="500.6" y2="573.7" stroke="#333" stroke-width="1" /><line x1="498.7" y1="550.38" x2="500.6" y2="550.38" stroke="#333" stroke-width="1" /><line x1="498.7" y1="527.06" x2="500.6" y2="527.06" stroke="#333" stroke-width="1" /><text x="589" y="669.5" font-size="10.8" text-anchor="middle" fill="#000" style="">Raman shift (cm<tspan font-size="7.5" dy="-4">−1</tspan><tspan dy="4">)</tspan></text><text x="478.5" y="580" font-size="10.8" text-anchor="middle" fill="#000" transform="rotate(-90 478.5 580)" style="">SERS Intensity (Counts, 10<tspan dx="1.6" dy="-4" font-size="7">3</tspan><tspan dy="4">)</tspan></text><text x="522.6" y="526.3" font-size="8.8" text-anchor="middle" fill="#2b2bf0" style="">Dual phase</text><text x="522.6" y="534.6" font-size="8.8" text-anchor="middle" fill="#2b2bf0" style="">detection</text><text x="500.5" y="572.4" font-size="9.3" text-anchor="start" fill="#ff3030" style="">Phoxim</text><text x="500.5" y="615.6" font-size="9.3" text-anchor="start" fill="#22b022" style="">Paraquat</text><text x="584.3" y="573.2" font-size="9" text-anchor="start" fill="#000" style="">10<tspan font-size="5" dy="-3.6">-4</tspan><tspan dy="3.6"> M</tspan></text><text x="585.3" y="612.6" font-size="9" text-anchor="start" fill="#000" style="">10<tspan font-size="5" dy="-3.6">-4</tspan><tspan dy="3.6"> M</tspan></text><g clip-path="url(#mclip)"><rect x="79.8" y="8.2" width="141.3" height="140.4" fill="url(#mbg)"/><circle cx="78" cy="-18" r="55" fill="url(#mcirc)" stroke="#666" stroke-width="0.6"/><circle cx="215" cy="-25" r="61" fill="url(#mcirc)" stroke="#666" stroke-width="0.6"/><circle cx="66" cy="166" r="58" fill="url(#mcirc)" stroke="#666" stroke-width="0.6"/><circle cx="255" cy="145" r="64" fill="url(#mcirc)" stroke="#666" stroke-width="0.6"/><circle cx="150.2" cy="79.3" r="58.2" fill="url(#mbig)" stroke="#707070" stroke-width="0.9"/><circle cx="150" cy="78" r="4.5" fill="url(#mspot)"/></g><line x1="87" y1="80.1" x2="213.5" y2="80.1" stroke="#f4f4f4" stroke-width="1.6" stroke-dasharray="5.5,4.6" /><rect x="192.8" y="143.2" width="26.1" height="3.6" fill="#000"/><text x="47.6" y="19.6" font-size="9.1" text-anchor="middle" fill="#000" style="">Laser</text><rect x="27.1" y="23.8" width="41.3" height="15.4" fill="url(#lhead)"/><path d="M27.1,39.2 H68.4 L59.5,53.5 H35.7 Z" fill="#9ba6ac"/><text x="47" y="35.6" font-size="10.6" text-anchor="middle" fill="#fff" style="">633 nm</text><path d="M35.7,53.5 H59.5 L48.2,96 Z" fill="url(#lcone)"/><circle cx="48" cy="118.8" r="23.1" fill="url(#sph)"/><circle cx="48" cy="118.8" r="23.1" fill="url(#mesh)"/><circle cx="48" cy="118.8" r="23.1" fill="url(#sphedge)"/><circle cx="48" cy="118.8" r="23.1" fill="none" stroke="#c890b8" stroke-width="0.6"/><line x1="31.5" y1="89" x2="39.5" y2="99" stroke="#e0407a" stroke-width="0.7" /><line x1="24" y1="107.5" x2="39.5" y2="112" stroke="#e0407a" stroke-width="0.7" /><circle cx="19.3" cy="94.6" r="13.4" fill="#fff"/><g clip-path="url(#insclip)"><path d="M29.5,82.5 L5.5,102.5 L10,115 L40,112 L40,80 Z" fill="url(#rings)"/></g><circle cx="19.3" cy="94.6" r="13.4" fill="none" stroke="#e8407c" stroke-width="0.9"/><text x="20.7" y="73" font-size="9.1" text-anchor="middle" fill="#000" style="">Rings</text><line x1="17.6" y1="75.5" x2="17.6" y2="84.5" stroke="#222" stroke-width="0.7" /><path d="M16.2,83.3 L17.6,87 L19,83.3 Z" fill="#222"/><text x="11.9" y="123.2" font-size="9.1" text-anchor="middle" fill="#000" style="">Au</text><text x="13.1" y="134.3" font-size="9.1" text-anchor="middle" fill="#000" style="">NPs</text><line x1="15.2" y1="114" x2="18.5" y2="109.3" stroke="#222" stroke-width="0.7" /><path d="M16.6,109.3 L20,106.8 L19.6,110.9 Z" fill="#222"/><rect x="232.5" y="519" width="231.2" height="139.7" fill="url(#kbg)"/><circle cx="391.8" cy="588.4" r="59.5" fill="url(#kwat)"/><circle cx="453.1" cy="588.4" r="2.55" fill="url(#bead)"/><circle cx="452.76" cy="594.81" r="2.55" fill="url(#bead)"/><circle cx="451.76" cy="601.14" r="2.55" fill="url(#bead)"/><circle cx="450.1" cy="607.34" r="2.55" fill="url(#bead)"/><circle cx="447.8" cy="613.33" r="2.55" fill="url(#bead)"/><circle cx="444.89" cy="619.05" r="2.55" fill="url(#bead)"/><circle cx="441.39" cy="624.43" r="2.55" fill="url(#bead)"/><circle cx="437.35" cy="629.42" r="2.55" fill="url(#bead)"/><circle cx="432.82" cy="633.95" r="2.55" fill="url(#bead)"/><circle cx="427.83" cy="637.99" r="2.55" fill="url(#bead)"/><circle cx="422.45" cy="641.49" r="2.55" fill="url(#bead)"/><circle cx="416.73" cy="644.4" r="2.55" fill="url(#bead)"/><circle cx="410.74" cy="646.7" r="2.55" fill="url(#bead)"/><circle cx="404.54" cy="648.36" r="2.55" fill="url(#bead)"/><circle cx="398.21" cy="649.36" r="2.55" fill="url(#bead)"/><circle cx="391.8" cy="649.7" r="2.55" fill="url(#bead)"/><circle cx="385.39" cy="649.36" r="2.55" fill="url(#bead)"/><circle cx="379.06" cy="648.36" r="2.55" fill="url(#bead)"/><circle cx="372.86" cy="646.7" r="2.55" fill="url(#bead)"/><circle cx="366.87" cy="644.4" r="2.55" fill="url(#bead)"/><circle cx="361.15" cy="641.49" r="2.55" fill="url(#bead)"/><circle cx="355.77" cy="637.99" r="2.55" fill="url(#bead)"/><circle cx="350.78" cy="633.95" r="2.55" fill="url(#bead)"/><circle cx="346.25" cy="629.42" r="2.55" fill="url(#bead)"/><circle cx="342.21" cy="624.43" r="2.55" fill="url(#bead)"/><circle cx="338.71" cy="619.05" r="2.55" fill="url(#bead)"/><circle cx="335.8" cy="613.33" r="2.55" fill="url(#bead)"/><circle cx="333.5" cy="607.34" r="2.55" fill="url(#bead)"/><circle cx="331.84" cy="601.14" r="2.55" fill="url(#bead)"/><circle cx="330.84" cy="594.81" r="2.55" fill="url(#bead)"/><circle cx="330.5" cy="588.4" r="2.55" fill="url(#bead)"/><circle cx="330.84" cy="581.99" r="2.55" fill="url(#bead)"/><circle cx="331.84" cy="575.66" r="2.55" fill="url(#bead)"/><circle cx="333.5" cy="569.46" r="2.55" fill="url(#bead)"/><circle cx="335.8" cy="563.47" r="2.55" fill="url(#bead)"/><circle cx="338.71" cy="557.75" r="2.55" fill="url(#bead)"/><circle cx="342.21" cy="552.37" r="2.55" fill="url(#bead)"/><circle cx="346.25" cy="547.38" r="2.55" fill="url(#bead)"/><circle cx="350.78" cy="542.85" r="2.55" fill="url(#bead)"/><circle cx="355.77" cy="538.81" r="2.55" fill="url(#bead)"/><circle cx="361.15" cy="535.31" r="2.55" fill="url(#bead)"/><circle cx="366.87" cy="532.4" r="2.55" fill="url(#bead)"/><circle cx="372.86" cy="530.1" r="2.55" fill="url(#bead)"/><circle cx="379.06" cy="528.44" r="2.55" fill="url(#bead)"/><circle cx="385.39" cy="527.44" r="2.55" fill="url(#bead)"/><circle cx="391.8" cy="527.1" r="2.55" fill="url(#bead)"/><circle cx="398.21" cy="527.44" r="2.55" fill="url(#bead)"/><circle cx="404.54" cy="528.44" r="2.55" fill="url(#bead)"/><circle cx="410.74" cy="530.1" r="2.55" fill="url(#bead)"/><circle cx="416.73" cy="532.4" r="2.55" fill="url(#bead)"/><circle cx="422.45" cy="535.31" r="2.55" fill="url(#bead)"/><circle cx="427.83" cy="538.81" r="2.55" fill="url(#bead)"/><circle cx="432.82" cy="542.85" r="2.55" fill="url(#bead)"/><circle cx="437.35" cy="547.38" r="2.55" fill="url(#bead)"/><circle cx="441.39" cy="552.37" r="2.55" fill="url(#bead)"/><circle cx="444.89" cy="557.75" r="2.55" fill="url(#bead)"/><circle cx="447.8" cy="563.47" r="2.55" fill="url(#bead)"/><circle cx="450.1" cy="569.46" r="2.55" fill="url(#bead)"/><circle cx="451.76" cy="575.66" r="2.55" fill="url(#bead)"/><circle cx="452.76" cy="581.99" r="2.55" fill="url(#bead)"/><line x1="372.83" y1="536.58" x2="364.7" y2="526.18" stroke="#c06cb4" stroke-width="2.4" /><line x1="376.69" y1="535.32" x2="377.15" y2="522.13" stroke="#c06cb4" stroke-width="2.4" /><line x1="407.83" y1="535.59" x2="407.6" y2="522.4" stroke="#c06cb4" stroke-width="2.4" /><line x1="411.68" y1="536.92" x2="419.98" y2="526.66" stroke="#c06cb4" stroke-width="2.4" /><line x1="345.46" y1="558.43" x2="332.71" y2="555.02" stroke="#c06cb4" stroke-width="2.4" /><line x1="347.79" y1="555.1" x2="340.22" y2="544.29" stroke="#c06cb4" stroke-width="2.4" /><line x1="435.81" y1="555.1" x2="443.38" y2="544.29" stroke="#c06cb4" stroke-width="2.4" /><line x1="437.61" y1="557.63" x2="450.3" y2="553.99" stroke="#c06cb4" stroke-width="2.4" /><line x1="336.65" y1="590.43" x2="324.25" y2="594.95" stroke="#c06cb4" stroke-width="2.4" /><line x1="336.65" y1="586.37" x2="324.25" y2="581.85" stroke="#c06cb4" stroke-width="2.4" /><line x1="446.95" y1="586.37" x2="459.35" y2="581.85" stroke="#c06cb4" stroke-width="2.4" /><line x1="446.95" y1="590.43" x2="459.35" y2="594.95" stroke="#c06cb4" stroke-width="2.4" /><line x1="348.98" y1="623.21" x2="341.79" y2="634.28" stroke="#c06cb4" stroke-width="2.4" /><line x1="347.09" y1="620.75" x2="334.54" y2="624.83" stroke="#c06cb4" stroke-width="2.4" /><line x1="436.51" y1="620.75" x2="449.06" y2="624.83" stroke="#c06cb4" stroke-width="2.4" /><line x1="434.62" y1="623.21" x2="441.81" y2="634.28" stroke="#c06cb4" stroke-width="2.4" /><line x1="377.62" y1="641.73" x2="378.31" y2="654.91" stroke="#c06cb4" stroke-width="2.4" /><line x1="373.73" y1="640.54" x2="365.79" y2="651.09" stroke="#c06cb4" stroke-width="2.4" /><line x1="411.68" y1="639.88" x2="419.98" y2="650.14" stroke="#c06cb4" stroke-width="2.4" /><line x1="408.75" y1="640.92" x2="408.75" y2="654.12" stroke="#c06cb4" stroke-width="2.4" /><text x="253" y="529.3" font-size="9.1" text-anchor="start" fill="#ff2020" style="">Phoxim</text><text x="391.3" y="557.6" font-size="9.1" text-anchor="middle" fill="#22b040" style="">Paraquat</text><text x="284.6" y="622" font-size="10.3" text-anchor="middle" fill="#000" style="">Toluene</text><text x="391" y="622" font-size="10.3" text-anchor="middle" fill="#000" style="">Water</text><text x="301" y="640.8" font-size="9.1" text-anchor="start" fill="#000" style="">Rings</text><line x1="326" y1="636.6" x2="334.5" y2="635" stroke="#222" stroke-width="0.7" /><path d="M333.5,633.3 L338.3,634.3 L334.3,636.8 Z" fill="#222"/><text x="313" y="657" font-size="9.1" text-anchor="start" fill="#000" style="">Au NPs</text><line x1="345" y1="650" x2="348.5" y2="647" stroke="#222" stroke-width="0.7" /><path d="M347,645.8 L350.7,645.2 L349.5,648.8 Z" fill="#222"/><text x="237" y="539" font-size="8.6" text-anchor="middle" fill="#222" dominant-baseline="central">N</text><text x="250" y="546" font-size="8.6" text-anchor="middle" fill="#222" dominant-baseline="central">C</text><line x1="240.6" y1="539.5" x2="246.2" y2="542.5" stroke="#222" stroke-width="0.6" /><line x1="240.6" y1="540.6" x2="246.2" y2="543.6" stroke="#222" stroke-width="0.6" /><line x1="240.6" y1="541.7" x2="246.2" y2="544.7" stroke="#222" stroke-width="0.6" /><line x1="252.5" y1="548" x2="263.5" y2="553.4" stroke="#222" stroke-width="0.9" /><line x1="263.5" y1="553.4" x2="272" y2="547.8" stroke="#222" stroke-width="0.9" /><line x1="264.3" y1="555.2" x2="272.8" y2="549.6" stroke="#222" stroke-width="0.9" /><text x="274.6" y="546.2" font-size="8.2" text-anchor="middle" fill="#222" dominant-baseline="central">N</text><line x1="277.5" y1="548.2" x2="284.5" y2="551.8" stroke="#222" stroke-width="0.9" /><text x="287.5" y="553.3" font-size="8.2" text-anchor="middle" fill="#222" dominant-baseline="central">O</text><line x1="290.3" y1="551" x2="296" y2="548" stroke="#222" stroke-width="0.9" /><text x="299.2" y="546.2" font-size="8.2" text-anchor="middle" fill="#222" dominant-baseline="central">P</text><line x1="296.6" y1="543.4" x2="294.6" y2="537.5" stroke="#222" stroke-width="0.6" /><line x1="298.2" y1="542.9" x2="296.2" y2="537" stroke="#222" stroke-width="0.6" /><text x="293.1" y="534.3" font-size="8.2" text-anchor="middle" fill="#222" dominant-baseline="central">S</text><line x1="302" y1="544.4" x2="309.5" y2="540.2" stroke="#222" stroke-width="0.9" /><text x="312.5" y="538.6" font-size="8.2" text-anchor="middle" fill="#222" dominant-baseline="central">O</text><line x1="315.6" y1="540.5" x2="325.9" y2="545.1" stroke="#222" stroke-width="0.9" /><line x1="325.9" y1="545.1" x2="339.3" y2="541.8" stroke="#222" stroke-width="0.9" /><line x1="301" y1="549" x2="305" y2="555.5" stroke="#222" stroke-width="0.9" /><text x="307" y="558.7" font-size="8.2" text-anchor="middle" fill="#222" dominant-baseline="central">O</text><line x1="305.5" y1="561.5" x2="300.3" y2="569.7" stroke="#222" stroke-width="0.9" /><line x1="300.3" y1="569.7" x2="307" y2="583" stroke="#222" stroke-width="0.9" /><line x1="263.5" y1="553.4" x2="263.5" y2="567.4" stroke="#222" stroke-width="0.9" /><line x1="263.5" y1="567.4" x2="274.6" y2="573.4" stroke="#222" stroke-width="0.9" /><line x1="274.6" y1="573.4" x2="274.6" y2="588.6" stroke="#222" stroke-width="0.9" /><line x1="274.6" y1="588.6" x2="263.5" y2="595.3" stroke="#222" stroke-width="0.9" /><line x1="263.5" y1="595.3" x2="250" y2="588.6" stroke="#222" stroke-width="0.9" /><line x1="250" y1="588.6" x2="250" y2="573.4" stroke="#222" stroke-width="0.9" /><line x1="250" y1="573.4" x2="263.5" y2="567.4" stroke="#222" stroke-width="0.9" /><line x1="264.36" y1="570.98" x2="270.94" y2="574.54" stroke="#222" stroke-width="0.9" /><line x1="270.94" y1="587.58" x2="264.36" y2="591.55" stroke="#222" stroke-width="0.9" /><line x1="252.79" y1="585.53" x2="252.79" y2="576.52" stroke="#222" stroke-width="0.9" /><line x1="341.7" y1="581.4" x2="352" y2="581.4" stroke="#222" stroke-width="0.9" /><text x="355" y="581.6" font-size="8.2" text-anchor="middle" fill="#222" dominant-baseline="central">N</text><line x1="357.5" y1="577" x2="360.6" y2="569.6" stroke="#222" stroke-width="0.9" /><line x1="360.6" y1="569.6" x2="377.3" y2="569.6" stroke="#222" stroke-width="0.9" /><line x1="377.3" y1="569.6" x2="384" y2="581.4" stroke="#222" stroke-width="0.9" /><line x1="384" y1="581.4" x2="377.3" y2="593.4" stroke="#222" stroke-width="0.9" /><line x1="377.3" y1="593.4" x2="360.6" y2="593.4" stroke="#222" stroke-width="0.9" /><line x1="360.6" y1="593.4" x2="357.5" y2="586" stroke="#222" stroke-width="0.9" /><line x1="362.5" y1="572.2" x2="360.2" y2="577" stroke="#222" stroke-width="0.9" /><line x1="378.2" y1="573.3" x2="381.6" y2="580" stroke="#222" stroke-width="0.9" /><line x1="363" y1="590.6" x2="375.5" y2="590.6" stroke="#222" stroke-width="0.9" /><line x1="384" y1="581.4" x2="399.6" y2="581.4" stroke="#222" stroke-width="0.9" /><line x1="424.8" y1="577" x2="421.9" y2="569.6" stroke="#222" stroke-width="0.9" /><line x1="421.9" y1="569.6" x2="406.3" y2="569.6" stroke="#222" stroke-width="0.9" /><line x1="406.3" y1="569.6" x2="399.6" y2="581.4" stroke="#222" stroke-width="0.9" /><line x1="399.6" y1="581.4" x2="406.3" y2="593.4" stroke="#222" stroke-width="0.9" /><line x1="406.3" y1="593.4" x2="421.9" y2="593.4" stroke="#222" stroke-width="0.9" /><line x1="421.9" y1="593.4" x2="424.8" y2="586" stroke="#222" stroke-width="0.9" /><line x1="408" y1="572.3" x2="420" y2="572.3" stroke="#222" stroke-width="0.9" /><line x1="405.2" y1="582" x2="409" y2="589.5" stroke="#222" stroke-width="0.9" /><line x1="422.3" y1="590.3" x2="424.3" y2="586" stroke="#222" stroke-width="0.9" /><text x="427.4" y="581.6" font-size="8.2" text-anchor="middle" fill="#222" dominant-baseline="central">N</text><line x1="430.5" y1="581.4" x2="441.9" y2="581.4" stroke="#222" stroke-width="0.9" /><text x="364.3" y="581.4" font-size="7" text-anchor="middle" fill="#222" dominant-baseline="central">+</text><text x="419.3" y="581.4" font-size="7" text-anchor="middle" fill="#222" dominant-baseline="central">+</text><text x="356.5" y="607.4" font-size="8.2" text-anchor="middle" fill="#222" dominant-baseline="central">Cl</text><text x="421.3" y="607.4" font-size="8.2" text-anchor="middle" fill="#222" dominant-baseline="central">Cl</text><line x1="360.3" y1="600.3" x2="364" y2="600.3" stroke="#222" stroke-width="0.8" /><line x1="426" y1="600.3" x2="429.7" y2="600.3" stroke="#222" stroke-width="0.8" /></svg></body></html>
